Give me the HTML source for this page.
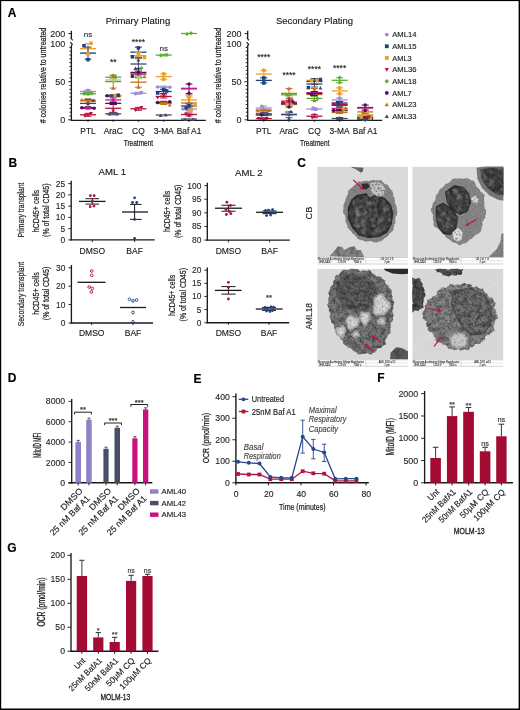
<!DOCTYPE html>
<html><head><meta charset="utf-8"><style>
html,body{margin:0;padding:0;background:#fff;width:520px;height:710px;overflow:hidden}
svg{display:block;font-family:"Liberation Sans",sans-serif;will-change:transform;filter:blur(0.3px)}
</style></head><body>
<svg width="520" height="710" viewBox="0 0 520 710" font-family='"Liberation Sans", sans-serif'>
<rect width="520" height="710" fill="#fff"/>
<text x="7.80" y="17.40" font-size="12.0" text-anchor="start" fill="#000" font-weight="bold" stroke="#000" stroke-width="0.14">A</text>
<text x="138.00" y="24.22" font-size="9.5" text-anchor="middle" fill="#1a1a1a" stroke="#1a1a1a" stroke-width="0.14">Primary Plating</text>
<line x1="71.40" y1="30.80" x2="71.40" y2="38.00" stroke="#1a1a1a" stroke-width="1.3"/>
<path d="M70.50 37.6 L72.70 40.3" fill="none" stroke="#1a1a1a" stroke-width="1.1"/>
<path d="M70.30 42.2 L72.30 44.4 L71.40 45.6" fill="none" stroke="#1a1a1a" stroke-width="1.1"/>
<line x1="71.40" y1="45.20" x2="71.40" y2="120.80" stroke="#1a1a1a" stroke-width="1.3"/>
<line x1="68.40" y1="33.60" x2="71.40" y2="33.60" stroke="#1a1a1a" stroke-width="1"/>
<line x1="68.20" y1="119.80" x2="71.40" y2="119.80" stroke="#1a1a1a" stroke-width="0.95"/>
<line x1="69.40" y1="115.99" x2="71.40" y2="115.99" stroke="#1a1a1a" stroke-width="0.95"/>
<line x1="69.40" y1="112.18" x2="71.40" y2="112.18" stroke="#1a1a1a" stroke-width="0.95"/>
<line x1="69.40" y1="108.37" x2="71.40" y2="108.37" stroke="#1a1a1a" stroke-width="0.95"/>
<line x1="69.40" y1="104.56" x2="71.40" y2="104.56" stroke="#1a1a1a" stroke-width="0.95"/>
<line x1="69.40" y1="100.75" x2="71.40" y2="100.75" stroke="#1a1a1a" stroke-width="0.95"/>
<line x1="69.40" y1="96.94" x2="71.40" y2="96.94" stroke="#1a1a1a" stroke-width="0.95"/>
<line x1="69.40" y1="93.13" x2="71.40" y2="93.13" stroke="#1a1a1a" stroke-width="0.95"/>
<line x1="69.40" y1="89.32" x2="71.40" y2="89.32" stroke="#1a1a1a" stroke-width="0.95"/>
<line x1="69.40" y1="85.51" x2="71.40" y2="85.51" stroke="#1a1a1a" stroke-width="0.95"/>
<line x1="68.20" y1="81.70" x2="71.40" y2="81.70" stroke="#1a1a1a" stroke-width="0.95"/>
<line x1="69.40" y1="77.89" x2="71.40" y2="77.89" stroke="#1a1a1a" stroke-width="0.95"/>
<line x1="69.40" y1="74.08" x2="71.40" y2="74.08" stroke="#1a1a1a" stroke-width="0.95"/>
<line x1="69.40" y1="70.27" x2="71.40" y2="70.27" stroke="#1a1a1a" stroke-width="0.95"/>
<line x1="69.40" y1="66.46" x2="71.40" y2="66.46" stroke="#1a1a1a" stroke-width="0.95"/>
<line x1="69.40" y1="62.65" x2="71.40" y2="62.65" stroke="#1a1a1a" stroke-width="0.95"/>
<line x1="69.40" y1="58.84" x2="71.40" y2="58.84" stroke="#1a1a1a" stroke-width="0.95"/>
<line x1="69.40" y1="55.03" x2="71.40" y2="55.03" stroke="#1a1a1a" stroke-width="0.95"/>
<line x1="69.40" y1="51.22" x2="71.40" y2="51.22" stroke="#1a1a1a" stroke-width="0.95"/>
<line x1="69.40" y1="47.41" x2="71.40" y2="47.41" stroke="#1a1a1a" stroke-width="0.95"/>
<text x="65.20" y="122.95" font-size="9.0" text-anchor="end" fill="#2a2a2a" stroke="#2a2a2a" stroke-width="0.14">0</text>
<text x="65.20" y="84.85" font-size="9.0" text-anchor="end" fill="#2a2a2a" stroke="#2a2a2a" stroke-width="0.14">50</text>
<text x="65.20" y="46.75" font-size="9.0" text-anchor="end" fill="#2a2a2a" stroke="#2a2a2a" stroke-width="0.14">100</text>
<text x="65.20" y="36.75" font-size="9.0" text-anchor="end" fill="#2a2a2a" stroke="#2a2a2a" stroke-width="0.14">200</text>
<line x1="70.80" y1="120.40" x2="205.90" y2="120.40" stroke="#1a1a1a" stroke-width="1.4"/>
<line x1="88.00" y1="119.80" x2="88.00" y2="122.00" stroke="#1a1a1a" stroke-width="0.8"/>
<line x1="113.20" y1="119.80" x2="113.20" y2="122.00" stroke="#1a1a1a" stroke-width="0.8"/>
<line x1="138.40" y1="119.80" x2="138.40" y2="122.00" stroke="#1a1a1a" stroke-width="0.8"/>
<line x1="163.70" y1="119.80" x2="163.70" y2="122.00" stroke="#1a1a1a" stroke-width="0.8"/>
<line x1="189.00" y1="119.80" x2="189.00" y2="122.00" stroke="#1a1a1a" stroke-width="0.8"/>
<text x="88.00" y="134.04" font-size="8.4" text-anchor="middle" fill="#1a1a1a" stroke="#1a1a1a" stroke-width="0.14">PTL</text>
<text x="113.20" y="134.04" font-size="8.4" text-anchor="middle" fill="#1a1a1a" stroke="#1a1a1a" stroke-width="0.14">AraC</text>
<text x="138.40" y="134.04" font-size="8.4" text-anchor="middle" fill="#1a1a1a" stroke="#1a1a1a" stroke-width="0.14">CQ</text>
<text x="163.70" y="134.04" font-size="8.4" text-anchor="middle" fill="#1a1a1a" stroke="#1a1a1a" stroke-width="0.14">3-MA</text>
<text x="189.00" y="134.04" font-size="8.4" text-anchor="middle" fill="#1a1a1a" stroke="#1a1a1a" stroke-width="0.14">Baf A1</text>
<text x="138.40" y="146.39" font-size="9.4" text-anchor="middle" fill="#1a1a1a" textLength="29.5" lengthAdjust="spacingAndGlyphs" stroke="#1a1a1a" stroke-width="0.22">Treatment</text>
<text font-size="9.0" text-anchor="middle" fill="#1a1a1a" textLength="95.5" lengthAdjust="spacingAndGlyphs" stroke="#1a1a1a" stroke-width="0.22" transform="translate(42.50 75.50) rotate(-90)" x="0" y="3.15"># colonies relative to untreated</text>
<text x="88.00" y="37.10" font-size="8" text-anchor="middle" fill="#333" stroke="#333" stroke-width="0.14">ns</text>
<text x="113.20" y="64.88" font-size="8.5" text-anchor="middle" fill="#222" stroke="#222" stroke-width="0.14">**</text>
<text x="138.40" y="45.28" font-size="8.5" text-anchor="middle" fill="#222" stroke="#222" stroke-width="0.14">****</text>
<text x="163.70" y="50.70" font-size="8" text-anchor="middle" fill="#333" stroke="#333" stroke-width="0.14">ns</text>
<text x="314.50" y="24.22" font-size="9.5" text-anchor="middle" fill="#1a1a1a" stroke="#1a1a1a" stroke-width="0.14">Secondary Plating</text>
<line x1="247.70" y1="30.80" x2="247.70" y2="38.00" stroke="#1a1a1a" stroke-width="1.3"/>
<path d="M246.80 37.6 L249.00 40.3" fill="none" stroke="#1a1a1a" stroke-width="1.1"/>
<path d="M246.60 42.2 L248.60 44.4 L247.70 45.6" fill="none" stroke="#1a1a1a" stroke-width="1.1"/>
<line x1="247.70" y1="45.20" x2="247.70" y2="120.80" stroke="#1a1a1a" stroke-width="1.3"/>
<line x1="244.70" y1="33.60" x2="247.70" y2="33.60" stroke="#1a1a1a" stroke-width="1"/>
<line x1="244.50" y1="119.80" x2="247.70" y2="119.80" stroke="#1a1a1a" stroke-width="0.95"/>
<line x1="245.70" y1="115.99" x2="247.70" y2="115.99" stroke="#1a1a1a" stroke-width="0.95"/>
<line x1="245.70" y1="112.18" x2="247.70" y2="112.18" stroke="#1a1a1a" stroke-width="0.95"/>
<line x1="245.70" y1="108.37" x2="247.70" y2="108.37" stroke="#1a1a1a" stroke-width="0.95"/>
<line x1="245.70" y1="104.56" x2="247.70" y2="104.56" stroke="#1a1a1a" stroke-width="0.95"/>
<line x1="245.70" y1="100.75" x2="247.70" y2="100.75" stroke="#1a1a1a" stroke-width="0.95"/>
<line x1="245.70" y1="96.94" x2="247.70" y2="96.94" stroke="#1a1a1a" stroke-width="0.95"/>
<line x1="245.70" y1="93.13" x2="247.70" y2="93.13" stroke="#1a1a1a" stroke-width="0.95"/>
<line x1="245.70" y1="89.32" x2="247.70" y2="89.32" stroke="#1a1a1a" stroke-width="0.95"/>
<line x1="245.70" y1="85.51" x2="247.70" y2="85.51" stroke="#1a1a1a" stroke-width="0.95"/>
<line x1="244.50" y1="81.70" x2="247.70" y2="81.70" stroke="#1a1a1a" stroke-width="0.95"/>
<line x1="245.70" y1="77.89" x2="247.70" y2="77.89" stroke="#1a1a1a" stroke-width="0.95"/>
<line x1="245.70" y1="74.08" x2="247.70" y2="74.08" stroke="#1a1a1a" stroke-width="0.95"/>
<line x1="245.70" y1="70.27" x2="247.70" y2="70.27" stroke="#1a1a1a" stroke-width="0.95"/>
<line x1="245.70" y1="66.46" x2="247.70" y2="66.46" stroke="#1a1a1a" stroke-width="0.95"/>
<line x1="245.70" y1="62.65" x2="247.70" y2="62.65" stroke="#1a1a1a" stroke-width="0.95"/>
<line x1="245.70" y1="58.84" x2="247.70" y2="58.84" stroke="#1a1a1a" stroke-width="0.95"/>
<line x1="245.70" y1="55.03" x2="247.70" y2="55.03" stroke="#1a1a1a" stroke-width="0.95"/>
<line x1="245.70" y1="51.22" x2="247.70" y2="51.22" stroke="#1a1a1a" stroke-width="0.95"/>
<line x1="245.70" y1="47.41" x2="247.70" y2="47.41" stroke="#1a1a1a" stroke-width="0.95"/>
<text x="241.50" y="122.95" font-size="9.0" text-anchor="end" fill="#2a2a2a" stroke="#2a2a2a" stroke-width="0.14">0</text>
<text x="241.50" y="84.85" font-size="9.0" text-anchor="end" fill="#2a2a2a" stroke="#2a2a2a" stroke-width="0.14">50</text>
<text x="241.50" y="46.75" font-size="9.0" text-anchor="end" fill="#2a2a2a" stroke="#2a2a2a" stroke-width="0.14">100</text>
<text x="241.50" y="36.75" font-size="9.0" text-anchor="end" fill="#2a2a2a" stroke="#2a2a2a" stroke-width="0.14">200</text>
<line x1="247.10" y1="120.40" x2="382.20" y2="120.40" stroke="#1a1a1a" stroke-width="1.4"/>
<line x1="263.80" y1="119.80" x2="263.80" y2="122.00" stroke="#1a1a1a" stroke-width="0.8"/>
<line x1="289.00" y1="119.80" x2="289.00" y2="122.00" stroke="#1a1a1a" stroke-width="0.8"/>
<line x1="314.40" y1="119.80" x2="314.40" y2="122.00" stroke="#1a1a1a" stroke-width="0.8"/>
<line x1="339.60" y1="119.80" x2="339.60" y2="122.00" stroke="#1a1a1a" stroke-width="0.8"/>
<line x1="365.20" y1="119.80" x2="365.20" y2="122.00" stroke="#1a1a1a" stroke-width="0.8"/>
<text x="263.80" y="134.04" font-size="8.4" text-anchor="middle" fill="#1a1a1a" stroke="#1a1a1a" stroke-width="0.14">PTL</text>
<text x="289.00" y="134.04" font-size="8.4" text-anchor="middle" fill="#1a1a1a" stroke="#1a1a1a" stroke-width="0.14">AraC</text>
<text x="314.40" y="134.04" font-size="8.4" text-anchor="middle" fill="#1a1a1a" stroke="#1a1a1a" stroke-width="0.14">CQ</text>
<text x="339.60" y="134.04" font-size="8.4" text-anchor="middle" fill="#1a1a1a" stroke="#1a1a1a" stroke-width="0.14">3-MA</text>
<text x="365.20" y="134.04" font-size="8.4" text-anchor="middle" fill="#1a1a1a" stroke="#1a1a1a" stroke-width="0.14">Baf A1</text>
<text x="314.70" y="146.39" font-size="9.4" text-anchor="middle" fill="#1a1a1a" textLength="29.5" lengthAdjust="spacingAndGlyphs" stroke="#1a1a1a" stroke-width="0.22">Treatment</text>
<text font-size="9.0" text-anchor="middle" fill="#1a1a1a" textLength="95.5" lengthAdjust="spacingAndGlyphs" stroke="#1a1a1a" stroke-width="0.22" transform="translate(218.20 75.50) rotate(-90)" x="0" y="3.15"># colonies relative to untreated</text>
<text x="263.80" y="60.48" font-size="8.5" text-anchor="middle" fill="#222" stroke="#222" stroke-width="0.14">****</text>
<text x="289.00" y="77.77" font-size="8.5" text-anchor="middle" fill="#222" stroke="#222" stroke-width="0.14">****</text>
<text x="314.40" y="72.37" font-size="8.5" text-anchor="middle" fill="#222" stroke="#222" stroke-width="0.14">****</text>
<text x="339.60" y="71.17" font-size="8.5" text-anchor="middle" fill="#222" stroke="#222" stroke-width="0.14">****</text>
<circle cx="386.80" cy="34.60" r="1.9" fill="#9a8fd2"/>
<text x="392.20" y="37.30" font-size="7.7" text-anchor="start" fill="#1a1a1a" textLength="24.2" lengthAdjust="spacingAndGlyphs" stroke="#1a1a1a" stroke-width="0.14">AML14</text>
<rect x="384.90" y="44.37" width="3.80" height="3.80" fill="#1e3f80"/>
<text x="392.20" y="48.97" font-size="7.7" text-anchor="start" fill="#1a1a1a" textLength="24.2" lengthAdjust="spacingAndGlyphs" stroke="#1a1a1a" stroke-width="0.14">AML15</text>
<rect x="384.90" y="56.04" width="3.80" height="3.80" fill="#e8a02a"/>
<text x="392.20" y="60.63" font-size="7.7" text-anchor="start" fill="#1a1a1a" textLength="19.5" lengthAdjust="spacingAndGlyphs" stroke="#1a1a1a" stroke-width="0.14">AML3</text>
<path d="M386.80 71.70L388.89 67.90L384.71 67.90Z" fill="#b4123e"/>
<text x="392.20" y="72.30" font-size="7.7" text-anchor="start" fill="#1a1a1a" textLength="24.2" lengthAdjust="spacingAndGlyphs" stroke="#1a1a1a" stroke-width="0.14">AML36</text>
<path d="M386.80 79.00L389.08 81.28L386.80 83.56L384.52 81.28Z" fill="#5aae32"/>
<text x="392.20" y="83.97" font-size="7.7" text-anchor="start" fill="#1a1a1a" textLength="24.2" lengthAdjust="spacingAndGlyphs" stroke="#1a1a1a" stroke-width="0.14">AML18</text>
<circle cx="386.80" cy="92.95" r="1.9" fill="#4a1458"/>
<text x="392.20" y="95.64" font-size="7.7" text-anchor="start" fill="#1a1a1a" textLength="19.5" lengthAdjust="spacingAndGlyphs" stroke="#1a1a1a" stroke-width="0.14">AML7</text>
<path d="M386.80 102.53L388.89 106.33L384.71 106.33Z" fill="#c0701e"/>
<text x="392.20" y="107.31" font-size="7.7" text-anchor="start" fill="#1a1a1a" textLength="24.2" lengthAdjust="spacingAndGlyphs" stroke="#1a1a1a" stroke-width="0.14">AML23</text>
<path d="M386.80 114.20L388.89 118.00L384.71 118.00Z" fill="#3c4a68"/>
<text x="392.20" y="118.98" font-size="7.7" text-anchor="start" fill="#1a1a1a" textLength="24.2" lengthAdjust="spacingAndGlyphs" stroke="#1a1a1a" stroke-width="0.14">AML33</text>
<line x1="80.00" y1="48.70" x2="96.00" y2="48.70" stroke="#e8a02a" stroke-width="1.3"/>
<line x1="88.00" y1="43.70" x2="88.00" y2="53.70" stroke="#e8a02a" stroke-width="1.0"/>
<line x1="84.50" y1="43.70" x2="91.50" y2="43.70" stroke="#e8a02a" stroke-width="1.0"/>
<line x1="84.50" y1="53.70" x2="91.50" y2="53.70" stroke="#e8a02a" stroke-width="1.0"/>
<line x1="80.00" y1="53.10" x2="96.00" y2="53.10" stroke="#1e3f80" stroke-width="1.3"/>
<line x1="88.00" y1="47.10" x2="88.00" y2="59.10" stroke="#1e3f80" stroke-width="1.0"/>
<line x1="84.50" y1="47.10" x2="91.50" y2="47.10" stroke="#1e3f80" stroke-width="1.0"/>
<line x1="84.50" y1="59.10" x2="91.50" y2="59.10" stroke="#1e3f80" stroke-width="1.0"/>
<line x1="80.00" y1="91.50" x2="96.00" y2="91.50" stroke="#9a8fd2" stroke-width="1.3"/>
<line x1="88.00" y1="90.00" x2="88.00" y2="93.00" stroke="#9a8fd2" stroke-width="1.0"/>
<line x1="84.50" y1="90.00" x2="91.50" y2="90.00" stroke="#9a8fd2" stroke-width="1.0"/>
<line x1="84.50" y1="93.00" x2="91.50" y2="93.00" stroke="#9a8fd2" stroke-width="1.0"/>
<line x1="80.00" y1="93.70" x2="96.00" y2="93.70" stroke="#5aae32" stroke-width="1.3"/>
<line x1="88.00" y1="92.70" x2="88.00" y2="94.70" stroke="#5aae32" stroke-width="1.0"/>
<line x1="84.50" y1="92.70" x2="91.50" y2="92.70" stroke="#5aae32" stroke-width="1.0"/>
<line x1="84.50" y1="94.70" x2="91.50" y2="94.70" stroke="#5aae32" stroke-width="1.0"/>
<line x1="80.00" y1="100.30" x2="96.00" y2="100.30" stroke="#c0701e" stroke-width="1.3"/>
<line x1="88.00" y1="98.80" x2="88.00" y2="101.80" stroke="#c0701e" stroke-width="1.0"/>
<line x1="84.50" y1="98.80" x2="91.50" y2="98.80" stroke="#c0701e" stroke-width="1.0"/>
<line x1="84.50" y1="101.80" x2="91.50" y2="101.80" stroke="#c0701e" stroke-width="1.0"/>
<line x1="80.00" y1="103.40" x2="96.00" y2="103.40" stroke="#3c4a68" stroke-width="1.3"/>
<line x1="88.00" y1="99.40" x2="88.00" y2="107.40" stroke="#3c4a68" stroke-width="1.0"/>
<line x1="84.50" y1="99.40" x2="91.50" y2="99.40" stroke="#3c4a68" stroke-width="1.0"/>
<line x1="84.50" y1="107.40" x2="91.50" y2="107.40" stroke="#3c4a68" stroke-width="1.0"/>
<line x1="80.00" y1="107.80" x2="96.00" y2="107.80" stroke="#4a1458" stroke-width="1.3"/>
<line x1="88.00" y1="106.80" x2="88.00" y2="108.80" stroke="#4a1458" stroke-width="1.0"/>
<line x1="84.50" y1="106.80" x2="91.50" y2="106.80" stroke="#4a1458" stroke-width="1.0"/>
<line x1="84.50" y1="108.80" x2="91.50" y2="108.80" stroke="#4a1458" stroke-width="1.0"/>
<line x1="80.00" y1="108.30" x2="96.00" y2="108.30" stroke="#d0189a" stroke-width="1.3"/>
<line x1="80.00" y1="114.80" x2="96.00" y2="114.80" stroke="#b4123e" stroke-width="1.3"/>
<line x1="88.00" y1="113.30" x2="88.00" y2="116.30" stroke="#b4123e" stroke-width="1.0"/>
<line x1="84.50" y1="113.30" x2="91.50" y2="113.30" stroke="#b4123e" stroke-width="1.0"/>
<line x1="84.50" y1="116.30" x2="91.50" y2="116.30" stroke="#b4123e" stroke-width="1.0"/>
<rect x="89.25" y="41.45" width="3.50" height="3.50" fill="#e8a02a"/>
<rect x="86.25" y="52.25" width="3.50" height="3.50" fill="#e8a02a"/>
<rect x="82.25" y="44.05" width="3.50" height="3.50" fill="#1e3f80"/>
<rect x="86.25" y="57.95" width="3.50" height="3.50" fill="#1e3f80"/>
<circle cx="88.00" cy="90.30" r="1.75" fill="#9a8fd2"/>
<circle cx="85.00" cy="92.00" r="1.75" fill="#9a8fd2"/>
<path d="M84.00 91.60L86.10 93.70L84.00 95.80L81.90 93.70Z" fill="#5aae32"/>
<path d="M92.00 91.30L94.10 93.40L92.00 95.50L89.90 93.40Z" fill="#5aae32"/>
<path d="M88.00 91.90L90.10 94.00L88.00 96.10L85.90 94.00Z" fill="#5aae32"/>
<path d="M82.00 98.08L83.92 101.58L80.08 101.58Z" fill="#c0701e"/>
<path d="M94.00 98.58L95.92 102.08L92.08 102.08Z" fill="#c0701e"/>
<path d="M88.00 99.08L89.92 102.58L86.08 102.58Z" fill="#c0701e"/>
<path d="M93.00 98.38L94.92 101.88L91.08 101.88Z" fill="#3c4a68"/>
<path d="M88.00 101.48L89.92 104.98L86.08 104.98Z" fill="#3c4a68"/>
<circle cx="82.00" cy="107.80" r="1.75" fill="#4a1458"/>
<circle cx="94.00" cy="108.20" r="1.75" fill="#4a1458"/>
<circle cx="88.00" cy="108.30" r="1.75" fill="#d0189a"/>
<path d="M85.00 117.92L86.92 114.42L83.08 114.42Z" fill="#b4123e"/>
<path d="M91.00 115.42L92.92 111.92L89.08 111.92Z" fill="#b4123e"/>
<path d="M88.00 116.92L89.92 113.42L86.08 113.42Z" fill="#b4123e"/>
<line x1="105.20" y1="77.20" x2="121.20" y2="77.20" stroke="#5aae32" stroke-width="1.3"/>
<line x1="113.20" y1="75.70" x2="113.20" y2="78.70" stroke="#5aae32" stroke-width="1.0"/>
<line x1="109.70" y1="75.70" x2="116.70" y2="75.70" stroke="#5aae32" stroke-width="1.0"/>
<line x1="109.70" y1="78.70" x2="116.70" y2="78.70" stroke="#5aae32" stroke-width="1.0"/>
<line x1="105.20" y1="80.00" x2="121.20" y2="80.00" stroke="#9fd48a" stroke-width="1.3"/>
<line x1="113.20" y1="78.50" x2="113.20" y2="81.50" stroke="#9fd48a" stroke-width="1.0"/>
<line x1="109.70" y1="78.50" x2="116.70" y2="78.50" stroke="#9fd48a" stroke-width="1.0"/>
<line x1="109.70" y1="81.50" x2="116.70" y2="81.50" stroke="#9fd48a" stroke-width="1.0"/>
<line x1="105.20" y1="81.60" x2="121.20" y2="81.60" stroke="#c0701e" stroke-width="1.3"/>
<line x1="113.20" y1="75.10" x2="113.20" y2="88.10" stroke="#c0701e" stroke-width="1.0"/>
<line x1="109.70" y1="75.10" x2="116.70" y2="75.10" stroke="#c0701e" stroke-width="1.0"/>
<line x1="109.70" y1="88.10" x2="116.70" y2="88.10" stroke="#c0701e" stroke-width="1.0"/>
<line x1="105.20" y1="95.80" x2="121.20" y2="95.80" stroke="#4a1458" stroke-width="1.3"/>
<line x1="113.20" y1="94.80" x2="113.20" y2="96.80" stroke="#4a1458" stroke-width="1.0"/>
<line x1="109.70" y1="94.80" x2="116.70" y2="94.80" stroke="#4a1458" stroke-width="1.0"/>
<line x1="109.70" y1="96.80" x2="116.70" y2="96.80" stroke="#4a1458" stroke-width="1.0"/>
<line x1="105.20" y1="95.60" x2="121.20" y2="95.60" stroke="#e8a02a" stroke-width="1.3"/>
<line x1="113.20" y1="94.60" x2="113.20" y2="96.60" stroke="#e8a02a" stroke-width="1.0"/>
<line x1="109.70" y1="94.60" x2="116.70" y2="94.60" stroke="#e8a02a" stroke-width="1.0"/>
<line x1="109.70" y1="96.60" x2="116.70" y2="96.60" stroke="#e8a02a" stroke-width="1.0"/>
<line x1="105.20" y1="95.80" x2="121.20" y2="95.80" stroke="#1e3f80" stroke-width="1.3"/>
<line x1="113.20" y1="94.80" x2="113.20" y2="96.80" stroke="#1e3f80" stroke-width="1.0"/>
<line x1="109.70" y1="94.80" x2="116.70" y2="94.80" stroke="#1e3f80" stroke-width="1.0"/>
<line x1="109.70" y1="96.80" x2="116.70" y2="96.80" stroke="#1e3f80" stroke-width="1.0"/>
<line x1="105.20" y1="99.90" x2="121.20" y2="99.90" stroke="#d0189a" stroke-width="1.3"/>
<line x1="113.20" y1="97.90" x2="113.20" y2="101.90" stroke="#d0189a" stroke-width="1.0"/>
<line x1="109.70" y1="97.90" x2="116.70" y2="97.90" stroke="#d0189a" stroke-width="1.0"/>
<line x1="109.70" y1="101.90" x2="116.70" y2="101.90" stroke="#d0189a" stroke-width="1.0"/>
<line x1="105.20" y1="103.40" x2="121.20" y2="103.40" stroke="#4a1458" stroke-width="1.3"/>
<line x1="113.20" y1="102.40" x2="113.20" y2="104.40" stroke="#4a1458" stroke-width="1.0"/>
<line x1="109.70" y1="102.40" x2="116.70" y2="102.40" stroke="#4a1458" stroke-width="1.0"/>
<line x1="109.70" y1="104.40" x2="116.70" y2="104.40" stroke="#4a1458" stroke-width="1.0"/>
<line x1="105.20" y1="108.30" x2="121.20" y2="108.30" stroke="#b4123e" stroke-width="1.3"/>
<line x1="113.20" y1="104.30" x2="113.20" y2="112.30" stroke="#b4123e" stroke-width="1.0"/>
<line x1="109.70" y1="104.30" x2="116.70" y2="104.30" stroke="#b4123e" stroke-width="1.0"/>
<line x1="109.70" y1="112.30" x2="116.70" y2="112.30" stroke="#b4123e" stroke-width="1.0"/>
<line x1="105.20" y1="113.80" x2="121.20" y2="113.80" stroke="#3c4a68" stroke-width="1.3"/>
<line x1="113.20" y1="112.80" x2="113.20" y2="114.80" stroke="#3c4a68" stroke-width="1.0"/>
<line x1="109.70" y1="112.80" x2="116.70" y2="112.80" stroke="#3c4a68" stroke-width="1.0"/>
<line x1="109.70" y1="114.80" x2="116.70" y2="114.80" stroke="#3c4a68" stroke-width="1.0"/>
<path d="M113.20 73.50L115.30 75.60L113.20 77.70L111.10 75.60Z" fill="#5aae32"/>
<path d="M115.20 74.90L117.30 77.00L115.20 79.10L113.10 77.00Z" fill="#5aae32"/>
<circle cx="113.20" cy="80.00" r="1.75" fill="#9fd48a"/>
<path d="M113.20 73.67L115.12 77.17L111.28 77.17Z" fill="#c0701e"/>
<path d="M113.20 86.28L115.12 89.78L111.28 89.78Z" fill="#c0701e"/>
<circle cx="107.20" cy="95.80" r="1.75" fill="#4a1458"/>
<rect x="113.45" y="93.75" width="3.50" height="3.50" fill="#e8a02a"/>
<rect x="117.45" y="94.25" width="3.50" height="3.50" fill="#e8a02a"/>
<rect x="116.45" y="93.45" width="3.50" height="3.50" fill="#1e3f80"/>
<circle cx="113.20" cy="99.90" r="1.75" fill="#d0189a"/>
<circle cx="111.20" cy="103.40" r="1.75" fill="#4a1458"/>
<circle cx="115.20" cy="103.40" r="1.75" fill="#4a1458"/>
<path d="M113.20 112.92L115.12 109.42L111.28 109.42Z" fill="#b4123e"/>
<path d="M109.20 112.08L111.12 115.58L107.28 115.58Z" fill="#3c4a68"/>
<path d="M117.20 112.08L119.12 115.58L115.28 115.58Z" fill="#3c4a68"/>
<line x1="130.40" y1="52.20" x2="146.40" y2="52.20" stroke="#1e3f80" stroke-width="1.3"/>
<line x1="138.40" y1="47.20" x2="138.40" y2="57.20" stroke="#1e3f80" stroke-width="1.0"/>
<line x1="134.90" y1="47.20" x2="141.90" y2="47.20" stroke="#1e3f80" stroke-width="1.0"/>
<line x1="134.90" y1="57.20" x2="141.90" y2="57.20" stroke="#1e3f80" stroke-width="1.0"/>
<line x1="130.40" y1="55.70" x2="146.40" y2="55.70" stroke="#e8a02a" stroke-width="1.3"/>
<line x1="138.40" y1="52.70" x2="138.40" y2="58.70" stroke="#e8a02a" stroke-width="1.0"/>
<line x1="134.90" y1="52.70" x2="141.90" y2="52.70" stroke="#e8a02a" stroke-width="1.0"/>
<line x1="134.90" y1="58.70" x2="141.90" y2="58.70" stroke="#e8a02a" stroke-width="1.0"/>
<line x1="130.40" y1="64.00" x2="146.40" y2="64.00" stroke="#3c4a68" stroke-width="1.3"/>
<line x1="138.40" y1="58.00" x2="138.40" y2="70.00" stroke="#3c4a68" stroke-width="1.0"/>
<line x1="134.90" y1="58.00" x2="141.90" y2="58.00" stroke="#3c4a68" stroke-width="1.0"/>
<line x1="134.90" y1="70.00" x2="141.90" y2="70.00" stroke="#3c4a68" stroke-width="1.0"/>
<line x1="130.40" y1="74.40" x2="146.40" y2="74.40" stroke="#5aae32" stroke-width="1.3"/>
<line x1="138.40" y1="71.40" x2="138.40" y2="77.40" stroke="#5aae32" stroke-width="1.0"/>
<line x1="134.90" y1="71.40" x2="141.90" y2="71.40" stroke="#5aae32" stroke-width="1.0"/>
<line x1="134.90" y1="77.40" x2="141.90" y2="77.40" stroke="#5aae32" stroke-width="1.0"/>
<line x1="130.40" y1="72.40" x2="146.40" y2="72.40" stroke="#4a1458" stroke-width="1.3"/>
<line x1="138.40" y1="68.40" x2="138.40" y2="76.40" stroke="#4a1458" stroke-width="1.0"/>
<line x1="134.90" y1="68.40" x2="141.90" y2="68.40" stroke="#4a1458" stroke-width="1.0"/>
<line x1="134.90" y1="76.40" x2="141.90" y2="76.40" stroke="#4a1458" stroke-width="1.0"/>
<line x1="130.40" y1="73.90" x2="146.40" y2="73.90" stroke="#d0189a" stroke-width="1.3"/>
<line x1="138.40" y1="72.90" x2="138.40" y2="74.90" stroke="#d0189a" stroke-width="1.0"/>
<line x1="134.90" y1="72.90" x2="141.90" y2="72.90" stroke="#d0189a" stroke-width="1.0"/>
<line x1="134.90" y1="74.90" x2="141.90" y2="74.90" stroke="#d0189a" stroke-width="1.0"/>
<line x1="130.40" y1="77.50" x2="146.40" y2="77.50" stroke="#9fd48a" stroke-width="1.3"/>
<line x1="138.40" y1="76.50" x2="138.40" y2="78.50" stroke="#9fd48a" stroke-width="1.0"/>
<line x1="134.90" y1="76.50" x2="141.90" y2="76.50" stroke="#9fd48a" stroke-width="1.0"/>
<line x1="134.90" y1="78.50" x2="141.90" y2="78.50" stroke="#9fd48a" stroke-width="1.0"/>
<line x1="130.40" y1="82.20" x2="146.40" y2="82.20" stroke="#c0701e" stroke-width="1.3"/>
<line x1="138.40" y1="77.20" x2="138.40" y2="87.20" stroke="#c0701e" stroke-width="1.0"/>
<line x1="134.90" y1="77.20" x2="141.90" y2="77.20" stroke="#c0701e" stroke-width="1.0"/>
<line x1="134.90" y1="87.20" x2="141.90" y2="87.20" stroke="#c0701e" stroke-width="1.0"/>
<line x1="130.40" y1="93.20" x2="146.40" y2="93.20" stroke="#9a8fd2" stroke-width="1.3"/>
<line x1="138.40" y1="92.20" x2="138.40" y2="94.20" stroke="#9a8fd2" stroke-width="1.0"/>
<line x1="134.90" y1="92.20" x2="141.90" y2="92.20" stroke="#9a8fd2" stroke-width="1.0"/>
<line x1="134.90" y1="94.20" x2="141.90" y2="94.20" stroke="#9a8fd2" stroke-width="1.0"/>
<line x1="130.40" y1="108.80" x2="146.40" y2="108.80" stroke="#b4123e" stroke-width="1.3"/>
<line x1="138.40" y1="107.30" x2="138.40" y2="110.30" stroke="#b4123e" stroke-width="1.0"/>
<line x1="134.90" y1="107.30" x2="141.90" y2="107.30" stroke="#b4123e" stroke-width="1.0"/>
<line x1="134.90" y1="110.30" x2="141.90" y2="110.30" stroke="#b4123e" stroke-width="1.0"/>
<rect x="136.65" y="46.15" width="3.50" height="3.50" fill="#1e3f80"/>
<rect x="130.65" y="55.05" width="3.50" height="3.50" fill="#1e3f80"/>
<rect x="136.65" y="51.45" width="3.50" height="3.50" fill="#e8a02a"/>
<rect x="142.65" y="55.85" width="3.50" height="3.50" fill="#e8a02a"/>
<path d="M138.40 58.08L140.33 61.58L136.47 61.58Z" fill="#3c4a68"/>
<path d="M135.40 66.48L137.33 69.98L133.47 69.98Z" fill="#3c4a68"/>
<path d="M141.40 65.90L143.50 68.00L141.40 70.10L139.30 68.00Z" fill="#5aae32"/>
<circle cx="138.40" cy="72.40" r="1.75" fill="#4a1458"/>
<circle cx="132.40" cy="76.30" r="1.75" fill="#4a1458"/>
<circle cx="138.40" cy="77.50" r="1.75" fill="#9fd48a"/>
<path d="M144.40 74.58L146.33 78.08L142.47 78.08Z" fill="#c0701e"/>
<path d="M138.40 85.17L140.33 88.67L136.47 88.67Z" fill="#c0701e"/>
<circle cx="135.40" cy="93.80" r="1.75" fill="#9a8fd2"/>
<circle cx="141.40" cy="92.50" r="1.75" fill="#9a8fd2"/>
<path d="M135.40 111.92L137.33 108.42L133.47 108.42Z" fill="#b4123e"/>
<path d="M141.40 109.42L143.33 105.92L139.47 105.92Z" fill="#b4123e"/>
<line x1="155.70" y1="55.10" x2="171.70" y2="55.10" stroke="#5aae32" stroke-width="1.3"/>
<line x1="163.70" y1="54.30" x2="163.70" y2="55.90" stroke="#5aae32" stroke-width="1.0"/>
<line x1="160.20" y1="54.30" x2="167.20" y2="54.30" stroke="#5aae32" stroke-width="1.0"/>
<line x1="160.20" y1="55.90" x2="167.20" y2="55.90" stroke="#5aae32" stroke-width="1.0"/>
<line x1="155.70" y1="76.60" x2="171.70" y2="76.60" stroke="#e8a02a" stroke-width="1.3"/>
<line x1="163.70" y1="73.90" x2="163.70" y2="79.30" stroke="#e8a02a" stroke-width="1.0"/>
<line x1="160.20" y1="73.90" x2="167.20" y2="73.90" stroke="#e8a02a" stroke-width="1.0"/>
<line x1="160.20" y1="79.30" x2="167.20" y2="79.30" stroke="#e8a02a" stroke-width="1.0"/>
<line x1="155.70" y1="87.10" x2="171.70" y2="87.10" stroke="#9a8fd2" stroke-width="1.3"/>
<line x1="163.70" y1="86.10" x2="163.70" y2="88.10" stroke="#9a8fd2" stroke-width="1.0"/>
<line x1="160.20" y1="86.10" x2="167.20" y2="86.10" stroke="#9a8fd2" stroke-width="1.0"/>
<line x1="160.20" y1="88.10" x2="167.20" y2="88.10" stroke="#9a8fd2" stroke-width="1.0"/>
<line x1="155.70" y1="91.50" x2="171.70" y2="91.50" stroke="#1e3f80" stroke-width="1.3"/>
<line x1="163.70" y1="89.50" x2="163.70" y2="93.50" stroke="#1e3f80" stroke-width="1.0"/>
<line x1="160.20" y1="89.50" x2="167.20" y2="89.50" stroke="#1e3f80" stroke-width="1.0"/>
<line x1="160.20" y1="93.50" x2="167.20" y2="93.50" stroke="#1e3f80" stroke-width="1.0"/>
<line x1="155.70" y1="96.50" x2="171.70" y2="96.50" stroke="#b4123e" stroke-width="1.3"/>
<line x1="163.70" y1="95.00" x2="163.70" y2="98.00" stroke="#b4123e" stroke-width="1.0"/>
<line x1="160.20" y1="95.00" x2="167.20" y2="95.00" stroke="#b4123e" stroke-width="1.0"/>
<line x1="160.20" y1="98.00" x2="167.20" y2="98.00" stroke="#b4123e" stroke-width="1.0"/>
<line x1="155.70" y1="102.30" x2="171.70" y2="102.30" stroke="#4a1458" stroke-width="1.3"/>
<line x1="163.70" y1="101.30" x2="163.70" y2="103.30" stroke="#4a1458" stroke-width="1.0"/>
<line x1="160.20" y1="101.30" x2="167.20" y2="101.30" stroke="#4a1458" stroke-width="1.0"/>
<line x1="160.20" y1="103.30" x2="167.20" y2="103.30" stroke="#4a1458" stroke-width="1.0"/>
<line x1="155.70" y1="103.50" x2="171.70" y2="103.50" stroke="#c0701e" stroke-width="1.3"/>
<line x1="163.70" y1="102.50" x2="163.70" y2="104.50" stroke="#c0701e" stroke-width="1.0"/>
<line x1="160.20" y1="102.50" x2="167.20" y2="102.50" stroke="#c0701e" stroke-width="1.0"/>
<line x1="160.20" y1="104.50" x2="167.20" y2="104.50" stroke="#c0701e" stroke-width="1.0"/>
<line x1="155.70" y1="115.00" x2="171.70" y2="115.00" stroke="#3c4a68" stroke-width="1.3"/>
<path d="M160.70 53.40L162.80 55.50L160.70 57.60L158.60 55.50Z" fill="#5aae32"/>
<path d="M166.70 52.70L168.80 54.80L166.70 56.90L164.60 54.80Z" fill="#5aae32"/>
<rect x="161.95" y="72.15" width="3.50" height="3.50" fill="#e8a02a"/>
<rect x="161.95" y="77.45" width="3.50" height="3.50" fill="#e8a02a"/>
<circle cx="157.70" cy="87.00" r="1.75" fill="#9a8fd2"/>
<circle cx="169.70" cy="87.30" r="1.75" fill="#9a8fd2"/>
<rect x="155.95" y="91.25" width="3.50" height="3.50" fill="#1e3f80"/>
<rect x="161.95" y="87.75" width="3.50" height="3.50" fill="#1e3f80"/>
<rect x="164.95" y="89.25" width="3.50" height="3.50" fill="#1e3f80"/>
<path d="M157.70 99.42L159.62 95.92L155.77 95.92Z" fill="#b4123e"/>
<path d="M163.70 96.92L165.62 93.42L161.77 93.42Z" fill="#b4123e"/>
<circle cx="157.70" cy="102.50" r="1.75" fill="#4a1458"/>
<circle cx="169.70" cy="101.80" r="1.75" fill="#4a1458"/>
<path d="M169.70 103.08L171.62 106.58L167.77 106.58Z" fill="#c0701e"/>
<path d="M160.70 113.58L162.62 117.08L158.77 117.08Z" fill="#3c4a68"/>
<path d="M165.70 113.08L167.62 116.58L163.77 116.58Z" fill="#3c4a68"/>
<line x1="181.00" y1="33.50" x2="197.00" y2="33.50" stroke="#5aae32" stroke-width="1.3"/>
<line x1="181.00" y1="88.80" x2="197.00" y2="88.80" stroke="#4a1458" stroke-width="1.3"/>
<line x1="189.00" y1="84.00" x2="189.00" y2="93.60" stroke="#4a1458" stroke-width="1.0"/>
<line x1="185.50" y1="84.00" x2="192.50" y2="84.00" stroke="#4a1458" stroke-width="1.0"/>
<line x1="185.50" y1="93.60" x2="192.50" y2="93.60" stroke="#4a1458" stroke-width="1.0"/>
<line x1="181.00" y1="88.30" x2="197.00" y2="88.30" stroke="#d0189a" stroke-width="1.3"/>
<line x1="181.00" y1="100.00" x2="197.00" y2="100.00" stroke="#e8a02a" stroke-width="1.3"/>
<line x1="189.00" y1="97.00" x2="189.00" y2="103.00" stroke="#e8a02a" stroke-width="1.0"/>
<line x1="185.50" y1="97.00" x2="192.50" y2="97.00" stroke="#e8a02a" stroke-width="1.0"/>
<line x1="185.50" y1="103.00" x2="192.50" y2="103.00" stroke="#e8a02a" stroke-width="1.0"/>
<line x1="181.00" y1="103.00" x2="197.00" y2="103.00" stroke="#c0701e" stroke-width="1.3"/>
<line x1="189.00" y1="95.00" x2="189.00" y2="111.00" stroke="#c0701e" stroke-width="1.0"/>
<line x1="185.50" y1="95.00" x2="192.50" y2="95.00" stroke="#c0701e" stroke-width="1.0"/>
<line x1="185.50" y1="111.00" x2="192.50" y2="111.00" stroke="#c0701e" stroke-width="1.0"/>
<line x1="181.00" y1="106.00" x2="197.00" y2="106.00" stroke="#1e3f80" stroke-width="1.3"/>
<line x1="189.00" y1="104.00" x2="189.00" y2="108.00" stroke="#1e3f80" stroke-width="1.0"/>
<line x1="185.50" y1="104.00" x2="192.50" y2="104.00" stroke="#1e3f80" stroke-width="1.0"/>
<line x1="185.50" y1="108.00" x2="192.50" y2="108.00" stroke="#1e3f80" stroke-width="1.0"/>
<line x1="181.00" y1="109.00" x2="197.00" y2="109.00" stroke="#9a8fd2" stroke-width="1.3"/>
<line x1="189.00" y1="108.00" x2="189.00" y2="110.00" stroke="#9a8fd2" stroke-width="1.0"/>
<line x1="185.50" y1="108.00" x2="192.50" y2="108.00" stroke="#9a8fd2" stroke-width="1.0"/>
<line x1="185.50" y1="110.00" x2="192.50" y2="110.00" stroke="#9a8fd2" stroke-width="1.0"/>
<line x1="181.00" y1="114.50" x2="197.00" y2="114.50" stroke="#b4123e" stroke-width="1.3"/>
<line x1="189.00" y1="113.00" x2="189.00" y2="116.00" stroke="#b4123e" stroke-width="1.0"/>
<line x1="185.50" y1="113.00" x2="192.50" y2="113.00" stroke="#b4123e" stroke-width="1.0"/>
<line x1="185.50" y1="116.00" x2="192.50" y2="116.00" stroke="#b4123e" stroke-width="1.0"/>
<line x1="181.00" y1="119.00" x2="197.00" y2="119.00" stroke="#3c4a68" stroke-width="1.3"/>
<path d="M187.00 31.90L189.10 34.00L187.00 36.10L184.90 34.00Z" fill="#5aae32"/>
<path d="M191.00 31.10L193.10 33.20L191.00 35.30L188.90 33.20Z" fill="#5aae32"/>
<circle cx="189.00" cy="84.00" r="1.75" fill="#4a1458"/>
<circle cx="189.00" cy="93.20" r="1.75" fill="#4a1458"/>
<rect x="187.25" y="95.45" width="3.50" height="3.50" fill="#e8a02a"/>
<rect x="193.25" y="103.25" width="3.50" height="3.50" fill="#e8a02a"/>
<rect x="189.25" y="108.25" width="3.50" height="3.50" fill="#e8a02a"/>
<path d="M189.00 101.08L190.93 104.58L187.07 104.58Z" fill="#c0701e"/>
<rect x="187.25" y="104.15" width="3.50" height="3.50" fill="#1e3f80"/>
<rect x="184.25" y="106.25" width="3.50" height="3.50" fill="#1e3f80"/>
<circle cx="183.00" cy="109.00" r="1.75" fill="#9a8fd2"/>
<path d="M186.00 115.92L187.93 112.42L184.07 112.42Z" fill="#b4123e"/>
<path d="M189.00 117.92L190.93 114.42L187.07 114.42Z" fill="#b4123e"/>
<path d="M185.00 117.58L186.93 121.08L183.07 121.08Z" fill="#3c4a68"/>
<path d="M193.00 117.58L194.93 121.08L191.07 121.08Z" fill="#3c4a68"/>
<line x1="255.80" y1="74.00" x2="271.80" y2="74.00" stroke="#e8a02a" stroke-width="1.3"/>
<line x1="263.80" y1="70.50" x2="263.80" y2="77.50" stroke="#e8a02a" stroke-width="1.0"/>
<line x1="260.30" y1="70.50" x2="267.30" y2="70.50" stroke="#e8a02a" stroke-width="1.0"/>
<line x1="260.30" y1="77.50" x2="267.30" y2="77.50" stroke="#e8a02a" stroke-width="1.0"/>
<line x1="255.80" y1="80.40" x2="271.80" y2="80.40" stroke="#1e3f80" stroke-width="1.3"/>
<line x1="263.80" y1="77.90" x2="263.80" y2="82.90" stroke="#1e3f80" stroke-width="1.0"/>
<line x1="260.30" y1="77.90" x2="267.30" y2="77.90" stroke="#1e3f80" stroke-width="1.0"/>
<line x1="260.30" y1="82.90" x2="267.30" y2="82.90" stroke="#1e3f80" stroke-width="1.0"/>
<line x1="255.80" y1="108.00" x2="271.80" y2="108.00" stroke="#9a8fd2" stroke-width="1.3"/>
<line x1="263.80" y1="106.00" x2="263.80" y2="110.00" stroke="#9a8fd2" stroke-width="1.0"/>
<line x1="260.30" y1="106.00" x2="267.30" y2="106.00" stroke="#9a8fd2" stroke-width="1.0"/>
<line x1="260.30" y1="110.00" x2="267.30" y2="110.00" stroke="#9a8fd2" stroke-width="1.0"/>
<line x1="255.80" y1="110.00" x2="271.80" y2="110.00" stroke="#5aae32" stroke-width="1.3"/>
<line x1="255.80" y1="110.70" x2="271.80" y2="110.70" stroke="#c0701e" stroke-width="1.3"/>
<line x1="263.80" y1="109.20" x2="263.80" y2="112.20" stroke="#c0701e" stroke-width="1.0"/>
<line x1="260.30" y1="109.20" x2="267.30" y2="109.20" stroke="#c0701e" stroke-width="1.0"/>
<line x1="260.30" y1="112.20" x2="267.30" y2="112.20" stroke="#c0701e" stroke-width="1.0"/>
<line x1="255.80" y1="113.80" x2="271.80" y2="113.80" stroke="#3c4a68" stroke-width="1.3"/>
<line x1="263.80" y1="112.30" x2="263.80" y2="115.30" stroke="#3c4a68" stroke-width="1.0"/>
<line x1="260.30" y1="112.30" x2="267.30" y2="112.30" stroke="#3c4a68" stroke-width="1.0"/>
<line x1="260.30" y1="115.30" x2="267.30" y2="115.30" stroke="#3c4a68" stroke-width="1.0"/>
<line x1="255.80" y1="115.00" x2="271.80" y2="115.00" stroke="#4a1458" stroke-width="1.3"/>
<line x1="255.80" y1="118.60" x2="271.80" y2="118.60" stroke="#b4123e" stroke-width="1.3"/>
<line x1="263.80" y1="117.80" x2="263.80" y2="119.40" stroke="#b4123e" stroke-width="1.0"/>
<line x1="260.30" y1="117.80" x2="267.30" y2="117.80" stroke="#b4123e" stroke-width="1.0"/>
<line x1="260.30" y1="119.40" x2="267.30" y2="119.40" stroke="#b4123e" stroke-width="1.0"/>
<rect x="262.05" y="68.55" width="3.50" height="3.50" fill="#e8a02a"/>
<rect x="262.05" y="75.75" width="3.50" height="3.50" fill="#e8a02a"/>
<rect x="262.05" y="76.25" width="3.50" height="3.50" fill="#1e3f80"/>
<rect x="262.05" y="81.25" width="3.50" height="3.50" fill="#1e3f80"/>
<circle cx="261.80" cy="106.30" r="1.75" fill="#9a8fd2"/>
<path d="M257.80 109.08L259.73 112.58L255.88 112.58Z" fill="#c0701e"/>
<path d="M268.80 108.58L270.73 112.08L266.88 112.08Z" fill="#c0701e"/>
<path d="M260.80 112.08L262.73 115.58L258.88 115.58Z" fill="#3c4a68"/>
<path d="M267.80 111.58L269.73 115.08L265.88 115.08Z" fill="#3c4a68"/>
<circle cx="261.80" cy="115.00" r="1.75" fill="#4a1458"/>
<path d="M258.80 120.52L260.73 117.02L256.88 117.02Z" fill="#b4123e"/>
<path d="M266.80 120.22L268.73 116.72L264.88 116.72Z" fill="#b4123e"/>
<line x1="281.00" y1="93.40" x2="297.00" y2="93.40" stroke="#c0701e" stroke-width="1.3"/>
<line x1="289.00" y1="88.40" x2="289.00" y2="98.40" stroke="#c0701e" stroke-width="1.0"/>
<line x1="285.50" y1="88.40" x2="292.50" y2="88.40" stroke="#c0701e" stroke-width="1.0"/>
<line x1="285.50" y1="98.40" x2="292.50" y2="98.40" stroke="#c0701e" stroke-width="1.0"/>
<line x1="281.00" y1="94.80" x2="297.00" y2="94.80" stroke="#5aae32" stroke-width="1.3"/>
<line x1="289.00" y1="93.80" x2="289.00" y2="95.80" stroke="#5aae32" stroke-width="1.0"/>
<line x1="285.50" y1="93.80" x2="292.50" y2="93.80" stroke="#5aae32" stroke-width="1.0"/>
<line x1="285.50" y1="95.80" x2="292.50" y2="95.80" stroke="#5aae32" stroke-width="1.0"/>
<line x1="281.00" y1="102.30" x2="297.00" y2="102.30" stroke="#b4123e" stroke-width="1.3"/>
<line x1="289.00" y1="100.30" x2="289.00" y2="104.30" stroke="#b4123e" stroke-width="1.0"/>
<line x1="285.50" y1="100.30" x2="292.50" y2="100.30" stroke="#b4123e" stroke-width="1.0"/>
<line x1="285.50" y1="104.30" x2="292.50" y2="104.30" stroke="#b4123e" stroke-width="1.0"/>
<line x1="281.00" y1="103.50" x2="297.00" y2="103.50" stroke="#d0189a" stroke-width="1.3"/>
<line x1="289.00" y1="102.50" x2="289.00" y2="104.50" stroke="#d0189a" stroke-width="1.0"/>
<line x1="285.50" y1="102.50" x2="292.50" y2="102.50" stroke="#d0189a" stroke-width="1.0"/>
<line x1="285.50" y1="104.50" x2="292.50" y2="104.50" stroke="#d0189a" stroke-width="1.0"/>
<line x1="281.00" y1="104.60" x2="297.00" y2="104.60" stroke="#e8a02a" stroke-width="1.3"/>
<line x1="289.00" y1="103.60" x2="289.00" y2="105.60" stroke="#e8a02a" stroke-width="1.0"/>
<line x1="285.50" y1="103.60" x2="292.50" y2="103.60" stroke="#e8a02a" stroke-width="1.0"/>
<line x1="285.50" y1="105.60" x2="292.50" y2="105.60" stroke="#e8a02a" stroke-width="1.0"/>
<line x1="281.00" y1="104.00" x2="297.00" y2="104.00" stroke="#4a1458" stroke-width="1.3"/>
<line x1="289.00" y1="101.00" x2="289.00" y2="107.00" stroke="#4a1458" stroke-width="1.0"/>
<line x1="285.50" y1="101.00" x2="292.50" y2="101.00" stroke="#4a1458" stroke-width="1.0"/>
<line x1="285.50" y1="107.00" x2="292.50" y2="107.00" stroke="#4a1458" stroke-width="1.0"/>
<line x1="281.00" y1="114.00" x2="297.00" y2="114.00" stroke="#9a8fd2" stroke-width="1.3"/>
<line x1="289.00" y1="112.50" x2="289.00" y2="115.50" stroke="#9a8fd2" stroke-width="1.0"/>
<line x1="285.50" y1="112.50" x2="292.50" y2="112.50" stroke="#9a8fd2" stroke-width="1.0"/>
<line x1="285.50" y1="115.50" x2="292.50" y2="115.50" stroke="#9a8fd2" stroke-width="1.0"/>
<line x1="281.00" y1="114.70" x2="297.00" y2="114.70" stroke="#3c4a68" stroke-width="1.3"/>
<line x1="289.00" y1="111.70" x2="289.00" y2="117.70" stroke="#3c4a68" stroke-width="1.0"/>
<line x1="285.50" y1="111.70" x2="292.50" y2="111.70" stroke="#3c4a68" stroke-width="1.0"/>
<line x1="285.50" y1="117.70" x2="292.50" y2="117.70" stroke="#3c4a68" stroke-width="1.0"/>
<path d="M289.00 86.38L290.93 89.88L287.07 89.88Z" fill="#c0701e"/>
<path d="M292.00 96.48L293.93 99.98L290.07 99.98Z" fill="#c0701e"/>
<path d="M287.00 92.70L289.10 94.80L287.00 96.90L284.90 94.80Z" fill="#5aae32"/>
<path d="M283.00 103.92L284.93 100.42L281.07 100.42Z" fill="#b4123e"/>
<path d="M289.00 100.92L290.93 97.42L287.07 97.42Z" fill="#b4123e"/>
<rect x="285.25" y="102.85" width="3.50" height="3.50" fill="#e8a02a"/>
<rect x="290.25" y="102.25" width="3.50" height="3.50" fill="#e8a02a"/>
<circle cx="289.00" cy="107.00" r="1.75" fill="#4a1458"/>
<circle cx="293.00" cy="102.00" r="1.75" fill="#4a1458"/>
<circle cx="287.00" cy="112.50" r="1.75" fill="#9a8fd2"/>
<path d="M289.00 116.67L290.93 120.17L287.07 120.17Z" fill="#3c4a68"/>
<path d="M291.00 109.58L292.93 113.08L289.07 113.08Z" fill="#3c4a68"/>
<line x1="306.40" y1="80.40" x2="322.40" y2="80.40" stroke="#e8a02a" stroke-width="1.3"/>
<line x1="314.40" y1="79.40" x2="314.40" y2="81.40" stroke="#e8a02a" stroke-width="1.0"/>
<line x1="310.90" y1="79.40" x2="317.90" y2="79.40" stroke="#e8a02a" stroke-width="1.0"/>
<line x1="310.90" y1="81.40" x2="317.90" y2="81.40" stroke="#e8a02a" stroke-width="1.0"/>
<line x1="306.40" y1="81.50" x2="322.40" y2="81.50" stroke="#1e3f80" stroke-width="1.3"/>
<line x1="314.40" y1="78.50" x2="314.40" y2="84.50" stroke="#1e3f80" stroke-width="1.0"/>
<line x1="310.90" y1="78.50" x2="317.90" y2="78.50" stroke="#1e3f80" stroke-width="1.0"/>
<line x1="310.90" y1="84.50" x2="317.90" y2="84.50" stroke="#1e3f80" stroke-width="1.0"/>
<line x1="306.40" y1="84.00" x2="322.40" y2="84.00" stroke="#3c4a68" stroke-width="1.3"/>
<line x1="314.40" y1="81.00" x2="314.40" y2="87.00" stroke="#3c4a68" stroke-width="1.0"/>
<line x1="310.90" y1="81.00" x2="317.90" y2="81.00" stroke="#3c4a68" stroke-width="1.0"/>
<line x1="310.90" y1="87.00" x2="317.90" y2="87.00" stroke="#3c4a68" stroke-width="1.0"/>
<line x1="306.40" y1="94.50" x2="322.40" y2="94.50" stroke="#c0701e" stroke-width="1.3"/>
<line x1="314.40" y1="88.50" x2="314.40" y2="100.50" stroke="#c0701e" stroke-width="1.0"/>
<line x1="310.90" y1="88.50" x2="317.90" y2="88.50" stroke="#c0701e" stroke-width="1.0"/>
<line x1="310.90" y1="100.50" x2="317.90" y2="100.50" stroke="#c0701e" stroke-width="1.0"/>
<line x1="306.40" y1="92.60" x2="322.40" y2="92.60" stroke="#d0189a" stroke-width="1.3"/>
<line x1="314.40" y1="91.60" x2="314.40" y2="93.60" stroke="#d0189a" stroke-width="1.0"/>
<line x1="310.90" y1="91.60" x2="317.90" y2="91.60" stroke="#d0189a" stroke-width="1.0"/>
<line x1="310.90" y1="93.60" x2="317.90" y2="93.60" stroke="#d0189a" stroke-width="1.0"/>
<line x1="306.40" y1="93.50" x2="322.40" y2="93.50" stroke="#4a1458" stroke-width="1.3"/>
<line x1="314.40" y1="91.50" x2="314.40" y2="95.50" stroke="#4a1458" stroke-width="1.0"/>
<line x1="310.90" y1="91.50" x2="317.90" y2="91.50" stroke="#4a1458" stroke-width="1.0"/>
<line x1="310.90" y1="95.50" x2="317.90" y2="95.50" stroke="#4a1458" stroke-width="1.0"/>
<line x1="306.40" y1="98.40" x2="322.40" y2="98.40" stroke="#5aae32" stroke-width="1.3"/>
<line x1="314.40" y1="96.40" x2="314.40" y2="100.40" stroke="#5aae32" stroke-width="1.0"/>
<line x1="310.90" y1="96.40" x2="317.90" y2="96.40" stroke="#5aae32" stroke-width="1.0"/>
<line x1="310.90" y1="100.40" x2="317.90" y2="100.40" stroke="#5aae32" stroke-width="1.0"/>
<line x1="306.40" y1="109.00" x2="322.40" y2="109.00" stroke="#9a8fd2" stroke-width="1.3"/>
<line x1="314.40" y1="108.00" x2="314.40" y2="110.00" stroke="#9a8fd2" stroke-width="1.0"/>
<line x1="310.90" y1="108.00" x2="317.90" y2="108.00" stroke="#9a8fd2" stroke-width="1.0"/>
<line x1="310.90" y1="110.00" x2="317.90" y2="110.00" stroke="#9a8fd2" stroke-width="1.0"/>
<line x1="306.40" y1="116.20" x2="322.40" y2="116.20" stroke="#b4123e" stroke-width="1.3"/>
<line x1="314.40" y1="114.70" x2="314.40" y2="117.70" stroke="#b4123e" stroke-width="1.0"/>
<line x1="310.90" y1="114.70" x2="317.90" y2="114.70" stroke="#b4123e" stroke-width="1.0"/>
<line x1="310.90" y1="117.70" x2="317.90" y2="117.70" stroke="#b4123e" stroke-width="1.0"/>
<rect x="309.65" y="78.65" width="3.50" height="3.50" fill="#e8a02a"/>
<rect x="315.65" y="78.65" width="3.50" height="3.50" fill="#e8a02a"/>
<rect x="318.65" y="77.75" width="3.50" height="3.50" fill="#1e3f80"/>
<rect x="306.65" y="85.85" width="3.50" height="3.50" fill="#1e3f80"/>
<path d="M320.40 86.08L322.32 89.58L318.47 89.58Z" fill="#3c4a68"/>
<path d="M314.40 87.08L316.32 90.58L312.47 90.58Z" fill="#c0701e"/>
<path d="M314.40 98.67L316.32 102.17L312.47 102.17Z" fill="#c0701e"/>
<circle cx="311.40" cy="94.50" r="1.75" fill="#4a1458"/>
<path d="M317.40 96.30L319.50 98.40L317.40 100.50L315.30 98.40Z" fill="#5aae32"/>
<circle cx="313.40" cy="108.00" r="1.75" fill="#9a8fd2"/>
<circle cx="315.40" cy="109.50" r="1.75" fill="#9a8fd2"/>
<path d="M314.40 116.92L316.32 113.42L312.47 113.42Z" fill="#b4123e"/>
<path d="M312.40 119.42L314.32 115.92L310.47 115.92Z" fill="#b4123e"/>
<line x1="331.60" y1="80.30" x2="347.60" y2="80.30" stroke="#5aae32" stroke-width="1.3"/>
<line x1="339.60" y1="77.80" x2="339.60" y2="82.80" stroke="#5aae32" stroke-width="1.0"/>
<line x1="336.10" y1="77.80" x2="343.10" y2="77.80" stroke="#5aae32" stroke-width="1.0"/>
<line x1="336.10" y1="82.80" x2="343.10" y2="82.80" stroke="#5aae32" stroke-width="1.0"/>
<line x1="331.60" y1="90.90" x2="347.60" y2="90.90" stroke="#e8a02a" stroke-width="1.3"/>
<line x1="339.60" y1="87.90" x2="339.60" y2="93.90" stroke="#e8a02a" stroke-width="1.0"/>
<line x1="336.10" y1="87.90" x2="343.10" y2="87.90" stroke="#e8a02a" stroke-width="1.0"/>
<line x1="336.10" y1="93.90" x2="343.10" y2="93.90" stroke="#e8a02a" stroke-width="1.0"/>
<line x1="331.60" y1="100.00" x2="347.60" y2="100.00" stroke="#9a8fd2" stroke-width="1.3"/>
<line x1="339.60" y1="98.00" x2="339.60" y2="102.00" stroke="#9a8fd2" stroke-width="1.0"/>
<line x1="336.10" y1="98.00" x2="343.10" y2="98.00" stroke="#9a8fd2" stroke-width="1.0"/>
<line x1="336.10" y1="102.00" x2="343.10" y2="102.00" stroke="#9a8fd2" stroke-width="1.0"/>
<line x1="331.60" y1="103.00" x2="347.60" y2="103.00" stroke="#1e3f80" stroke-width="1.3"/>
<line x1="339.60" y1="101.50" x2="339.60" y2="104.50" stroke="#1e3f80" stroke-width="1.0"/>
<line x1="336.10" y1="101.50" x2="343.10" y2="101.50" stroke="#1e3f80" stroke-width="1.0"/>
<line x1="336.10" y1="104.50" x2="343.10" y2="104.50" stroke="#1e3f80" stroke-width="1.0"/>
<line x1="331.60" y1="105.30" x2="347.60" y2="105.30" stroke="#3c4a68" stroke-width="1.3"/>
<line x1="339.60" y1="104.30" x2="339.60" y2="106.30" stroke="#3c4a68" stroke-width="1.0"/>
<line x1="336.10" y1="104.30" x2="343.10" y2="104.30" stroke="#3c4a68" stroke-width="1.0"/>
<line x1="336.10" y1="106.30" x2="343.10" y2="106.30" stroke="#3c4a68" stroke-width="1.0"/>
<line x1="331.60" y1="104.40" x2="347.60" y2="104.40" stroke="#b4123e" stroke-width="1.3"/>
<line x1="339.60" y1="103.40" x2="339.60" y2="105.40" stroke="#b4123e" stroke-width="1.0"/>
<line x1="336.10" y1="103.40" x2="343.10" y2="103.40" stroke="#b4123e" stroke-width="1.0"/>
<line x1="336.10" y1="105.40" x2="343.10" y2="105.40" stroke="#b4123e" stroke-width="1.0"/>
<line x1="331.60" y1="108.50" x2="347.60" y2="108.50" stroke="#d0189a" stroke-width="1.3"/>
<line x1="339.60" y1="107.50" x2="339.60" y2="109.50" stroke="#d0189a" stroke-width="1.0"/>
<line x1="336.10" y1="107.50" x2="343.10" y2="107.50" stroke="#d0189a" stroke-width="1.0"/>
<line x1="336.10" y1="109.50" x2="343.10" y2="109.50" stroke="#d0189a" stroke-width="1.0"/>
<line x1="331.60" y1="110.00" x2="347.60" y2="110.00" stroke="#e8a02a" stroke-width="1.3"/>
<line x1="339.60" y1="109.00" x2="339.60" y2="111.00" stroke="#e8a02a" stroke-width="1.0"/>
<line x1="336.10" y1="109.00" x2="343.10" y2="109.00" stroke="#e8a02a" stroke-width="1.0"/>
<line x1="336.10" y1="111.00" x2="343.10" y2="111.00" stroke="#e8a02a" stroke-width="1.0"/>
<line x1="331.60" y1="110.60" x2="347.60" y2="110.60" stroke="#4a1458" stroke-width="1.3"/>
<line x1="339.60" y1="109.60" x2="339.60" y2="111.60" stroke="#4a1458" stroke-width="1.0"/>
<line x1="336.10" y1="109.60" x2="343.10" y2="109.60" stroke="#4a1458" stroke-width="1.0"/>
<line x1="336.10" y1="111.60" x2="343.10" y2="111.60" stroke="#4a1458" stroke-width="1.0"/>
<line x1="331.60" y1="112.50" x2="347.60" y2="112.50" stroke="#c0701e" stroke-width="1.3"/>
<line x1="339.60" y1="111.50" x2="339.60" y2="113.50" stroke="#c0701e" stroke-width="1.0"/>
<line x1="336.10" y1="111.50" x2="343.10" y2="111.50" stroke="#c0701e" stroke-width="1.0"/>
<line x1="336.10" y1="113.50" x2="343.10" y2="113.50" stroke="#c0701e" stroke-width="1.0"/>
<line x1="331.60" y1="118.50" x2="347.60" y2="118.50" stroke="#3c4a68" stroke-width="1.3"/>
<line x1="339.60" y1="117.50" x2="339.60" y2="119.50" stroke="#3c4a68" stroke-width="1.0"/>
<line x1="336.10" y1="117.50" x2="343.10" y2="117.50" stroke="#3c4a68" stroke-width="1.0"/>
<line x1="336.10" y1="119.50" x2="343.10" y2="119.50" stroke="#3c4a68" stroke-width="1.0"/>
<path d="M339.60 75.40L341.70 77.50L339.60 79.60L337.50 77.50Z" fill="#5aae32"/>
<path d="M339.60 80.40L341.70 82.50L339.60 84.60L337.50 82.50Z" fill="#5aae32"/>
<rect x="337.85" y="86.25" width="3.50" height="3.50" fill="#e8a02a"/>
<rect x="337.85" y="92.05" width="3.50" height="3.50" fill="#e8a02a"/>
<circle cx="339.60" cy="98.00" r="1.75" fill="#9a8fd2"/>
<rect x="335.85" y="101.25" width="3.50" height="3.50" fill="#1e3f80"/>
<path d="M333.60 106.33L335.53 102.83L331.68 102.83Z" fill="#b4123e"/>
<rect x="341.85" y="107.25" width="3.50" height="3.50" fill="#e8a02a"/>
<circle cx="333.60" cy="110.60" r="1.75" fill="#4a1458"/>
<path d="M337.60 110.58L339.53 114.08L335.68 114.08Z" fill="#c0701e"/>
<path d="M345.60 106.08L347.53 109.58L343.68 109.58Z" fill="#c0701e"/>
<path d="M339.60 116.08L341.53 119.58L337.68 119.58Z" fill="#3c4a68"/>
<line x1="357.20" y1="107.50" x2="373.20" y2="107.50" stroke="#4a1458" stroke-width="1.3"/>
<line x1="365.20" y1="105.00" x2="365.20" y2="110.00" stroke="#4a1458" stroke-width="1.0"/>
<line x1="361.70" y1="105.00" x2="368.70" y2="105.00" stroke="#4a1458" stroke-width="1.0"/>
<line x1="361.70" y1="110.00" x2="368.70" y2="110.00" stroke="#4a1458" stroke-width="1.0"/>
<line x1="357.20" y1="108.10" x2="373.20" y2="108.10" stroke="#d0189a" stroke-width="1.3"/>
<line x1="357.20" y1="111.90" x2="373.20" y2="111.90" stroke="#c0701e" stroke-width="1.3"/>
<line x1="365.20" y1="110.40" x2="365.20" y2="113.40" stroke="#c0701e" stroke-width="1.0"/>
<line x1="361.70" y1="110.40" x2="368.70" y2="110.40" stroke="#c0701e" stroke-width="1.0"/>
<line x1="361.70" y1="113.40" x2="368.70" y2="113.40" stroke="#c0701e" stroke-width="1.0"/>
<line x1="357.20" y1="115.00" x2="373.20" y2="115.00" stroke="#5aae32" stroke-width="1.3"/>
<line x1="365.20" y1="114.00" x2="365.20" y2="116.00" stroke="#5aae32" stroke-width="1.0"/>
<line x1="361.70" y1="114.00" x2="368.70" y2="114.00" stroke="#5aae32" stroke-width="1.0"/>
<line x1="361.70" y1="116.00" x2="368.70" y2="116.00" stroke="#5aae32" stroke-width="1.0"/>
<line x1="357.20" y1="116.50" x2="373.20" y2="116.50" stroke="#e8a02a" stroke-width="1.3"/>
<line x1="365.20" y1="114.50" x2="365.20" y2="118.50" stroke="#e8a02a" stroke-width="1.0"/>
<line x1="361.70" y1="114.50" x2="368.70" y2="114.50" stroke="#e8a02a" stroke-width="1.0"/>
<line x1="361.70" y1="118.50" x2="368.70" y2="118.50" stroke="#e8a02a" stroke-width="1.0"/>
<line x1="357.20" y1="117.50" x2="373.20" y2="117.50" stroke="#b4123e" stroke-width="1.3"/>
<line x1="365.20" y1="116.50" x2="365.20" y2="118.50" stroke="#b4123e" stroke-width="1.0"/>
<line x1="361.70" y1="116.50" x2="368.70" y2="116.50" stroke="#b4123e" stroke-width="1.0"/>
<line x1="361.70" y1="118.50" x2="368.70" y2="118.50" stroke="#b4123e" stroke-width="1.0"/>
<line x1="357.20" y1="118.50" x2="373.20" y2="118.50" stroke="#1e3f80" stroke-width="1.3"/>
<line x1="365.20" y1="117.50" x2="365.20" y2="119.50" stroke="#1e3f80" stroke-width="1.0"/>
<line x1="361.70" y1="117.50" x2="368.70" y2="117.50" stroke="#1e3f80" stroke-width="1.0"/>
<line x1="361.70" y1="119.50" x2="368.70" y2="119.50" stroke="#1e3f80" stroke-width="1.0"/>
<line x1="357.20" y1="119.50" x2="373.20" y2="119.50" stroke="#3c4a68" stroke-width="1.3"/>
<line x1="365.20" y1="118.50" x2="365.20" y2="120.50" stroke="#3c4a68" stroke-width="1.0"/>
<line x1="361.70" y1="118.50" x2="368.70" y2="118.50" stroke="#3c4a68" stroke-width="1.0"/>
<line x1="361.70" y1="120.50" x2="368.70" y2="120.50" stroke="#3c4a68" stroke-width="1.0"/>
<circle cx="365.20" cy="105.00" r="1.75" fill="#4a1458"/>
<circle cx="365.20" cy="110.60" r="1.75" fill="#4a1458"/>
<path d="M363.20 109.98L365.12 113.48L361.27 113.48Z" fill="#c0701e"/>
<rect x="359.45" y="115.25" width="3.50" height="3.50" fill="#e8a02a"/>
<rect x="368.45" y="116.25" width="3.50" height="3.50" fill="#e8a02a"/>
<path d="M369.20 118.92L371.12 115.42L367.27 115.42Z" fill="#b4123e"/>
<text x="8.60" y="167.20" font-size="12.0" text-anchor="start" fill="#000" font-weight="bold" stroke="#000" stroke-width="0.14">B</text>
<line x1="71.20" y1="180.80" x2="71.20" y2="240.50" stroke="#1a1a1a" stroke-width="1.35"/>
<line x1="70.60" y1="239.90" x2="154.70" y2="239.90" stroke="#1a1a1a" stroke-width="1.35"/>
<line x1="68.20" y1="239.90" x2="71.20" y2="239.90" stroke="#1a1a1a" stroke-width="0.9"/>
<text x="65.20" y="242.84" font-size="8.4" text-anchor="end" fill="#2a2a2a" stroke="#2a2a2a" stroke-width="0.14">0</text>
<line x1="68.20" y1="228.64" x2="71.20" y2="228.64" stroke="#1a1a1a" stroke-width="0.9"/>
<text x="65.20" y="231.58" font-size="8.4" text-anchor="end" fill="#2a2a2a" stroke="#2a2a2a" stroke-width="0.14">5</text>
<line x1="68.20" y1="217.38" x2="71.20" y2="217.38" stroke="#1a1a1a" stroke-width="0.9"/>
<text x="65.20" y="220.32" font-size="8.4" text-anchor="end" fill="#2a2a2a" stroke="#2a2a2a" stroke-width="0.14">10</text>
<line x1="68.20" y1="206.12" x2="71.20" y2="206.12" stroke="#1a1a1a" stroke-width="0.9"/>
<text x="65.20" y="209.06" font-size="8.4" text-anchor="end" fill="#2a2a2a" stroke="#2a2a2a" stroke-width="0.14">15</text>
<line x1="68.20" y1="194.86" x2="71.20" y2="194.86" stroke="#1a1a1a" stroke-width="0.9"/>
<text x="65.20" y="197.80" font-size="8.4" text-anchor="end" fill="#2a2a2a" stroke="#2a2a2a" stroke-width="0.14">20</text>
<line x1="68.20" y1="183.60" x2="71.20" y2="183.60" stroke="#1a1a1a" stroke-width="0.9"/>
<text x="65.20" y="186.54" font-size="8.4" text-anchor="end" fill="#2a2a2a" stroke="#2a2a2a" stroke-width="0.14">25</text>
<line x1="92.30" y1="239.90" x2="92.30" y2="242.10" stroke="#1a1a1a" stroke-width="0.9"/>
<line x1="134.60" y1="239.90" x2="134.60" y2="242.10" stroke="#1a1a1a" stroke-width="0.9"/>
<text x="112.30" y="174.96" font-size="9.6" text-anchor="middle" fill="#1a1a1a" stroke="#1a1a1a" stroke-width="0.14">AML 1</text>
<text x="92.30" y="253.67" font-size="8.5" text-anchor="middle" fill="#1a1a1a" stroke="#1a1a1a" stroke-width="0.14">DMSO</text>
<text x="134.60" y="253.67" font-size="8.5" text-anchor="middle" fill="#1a1a1a" stroke="#1a1a1a" stroke-width="0.14">BAF</text>
<line x1="79.00" y1="201.40" x2="105.60" y2="201.40" stroke="#1a1a1a" stroke-width="1.3"/>
<line x1="92.30" y1="198.70" x2="92.30" y2="204.10" stroke="#1a1a1a" stroke-width="1"/>
<line x1="85.50" y1="198.70" x2="99.00" y2="198.70" stroke="#1a1a1a" stroke-width="1"/>
<line x1="85.50" y1="204.10" x2="99.00" y2="204.10" stroke="#1a1a1a" stroke-width="1"/>
<circle cx="90.4" cy="195.7" r="1.4" fill="#b0103c"/>
<circle cx="94.2" cy="195.7" r="1.4" fill="#b0103c"/>
<circle cx="90.2" cy="206.7" r="1.4" fill="#b0103c"/>
<circle cx="94" cy="206.1" r="1.4" fill="#b0103c"/>
<circle cx="92.3" cy="201.4" r="1.4" fill="#b0103c"/>
<line x1="122.00" y1="212.00" x2="148.00" y2="212.00" stroke="#1a1a1a" stroke-width="1.3"/>
<line x1="134.60" y1="204.40" x2="134.60" y2="219.40" stroke="#1a1a1a" stroke-width="1"/>
<line x1="130.00" y1="204.40" x2="141.60" y2="204.40" stroke="#1a1a1a" stroke-width="1"/>
<line x1="130.00" y1="219.40" x2="141.60" y2="219.40" stroke="#1a1a1a" stroke-width="1"/>
<circle cx="134.6" cy="197.8" r="1.4" fill="#1f3f88"/>
<circle cx="132.5" cy="202.5" r="1.4" fill="#1f3f88"/>
<circle cx="136.7" cy="202.5" r="1.4" fill="#1f3f88"/>
<circle cx="134.6" cy="219.4" r="1.4" fill="#1f3f88"/>
<circle cx="134.6" cy="238.5" r="1.4" fill="#1f3f88"/>
<line x1="207.30" y1="182.80" x2="207.30" y2="240.70" stroke="#1a1a1a" stroke-width="1.35"/>
<line x1="206.70" y1="240.10" x2="289.80" y2="240.10" stroke="#1a1a1a" stroke-width="1.35"/>
<line x1="204.30" y1="240.10" x2="207.30" y2="240.10" stroke="#1a1a1a" stroke-width="0.9"/>
<text x="201.30" y="243.04" font-size="8.4" text-anchor="end" fill="#2a2a2a" stroke="#2a2a2a" stroke-width="0.14">80</text>
<line x1="204.30" y1="226.47" x2="207.30" y2="226.47" stroke="#1a1a1a" stroke-width="0.9"/>
<text x="201.30" y="229.41" font-size="8.4" text-anchor="end" fill="#2a2a2a" stroke="#2a2a2a" stroke-width="0.14">85</text>
<line x1="204.30" y1="212.85" x2="207.30" y2="212.85" stroke="#1a1a1a" stroke-width="0.9"/>
<text x="201.30" y="215.79" font-size="8.4" text-anchor="end" fill="#2a2a2a" stroke="#2a2a2a" stroke-width="0.14">90</text>
<line x1="204.30" y1="199.22" x2="207.30" y2="199.22" stroke="#1a1a1a" stroke-width="0.9"/>
<text x="201.30" y="202.16" font-size="8.4" text-anchor="end" fill="#2a2a2a" stroke="#2a2a2a" stroke-width="0.14">95</text>
<line x1="204.30" y1="185.60" x2="207.30" y2="185.60" stroke="#1a1a1a" stroke-width="0.9"/>
<text x="201.30" y="188.54" font-size="8.4" text-anchor="end" fill="#2a2a2a" stroke="#2a2a2a" stroke-width="0.14">100</text>
<line x1="228.40" y1="240.10" x2="228.40" y2="242.30" stroke="#1a1a1a" stroke-width="0.9"/>
<line x1="269.60" y1="240.10" x2="269.60" y2="242.30" stroke="#1a1a1a" stroke-width="0.9"/>
<text x="248.80" y="176.16" font-size="9.6" text-anchor="middle" fill="#1a1a1a" stroke="#1a1a1a" stroke-width="0.14">AML 2</text>
<text x="228.40" y="253.67" font-size="8.5" text-anchor="middle" fill="#1a1a1a" stroke="#1a1a1a" stroke-width="0.14">DMSO</text>
<text x="269.60" y="253.67" font-size="8.5" text-anchor="middle" fill="#1a1a1a" stroke="#1a1a1a" stroke-width="0.14">BAF</text>
<line x1="215.00" y1="208.22" x2="242.00" y2="208.22" stroke="#1a1a1a" stroke-width="1.3"/>
<line x1="228.40" y1="205.22" x2="228.40" y2="211.22" stroke="#1a1a1a" stroke-width="1"/>
<line x1="221.50" y1="205.22" x2="235.50" y2="205.22" stroke="#1a1a1a" stroke-width="1"/>
<line x1="221.50" y1="211.22" x2="235.50" y2="211.22" stroke="#1a1a1a" stroke-width="1"/>
<circle cx="226.9" cy="202.22" r="1.4" fill="#b0103c"/>
<circle cx="230.4" cy="205.49" r="1.4" fill="#b0103c"/>
<circle cx="225.9" cy="209.58" r="1.4" fill="#b0103c"/>
<circle cx="229.4" cy="211.49" r="1.4" fill="#b0103c"/>
<circle cx="226.4" cy="214.48" r="1.4" fill="#b0103c"/>
<circle cx="230.9" cy="213.67" r="1.4" fill="#b0103c"/>
<line x1="256.00" y1="212.30" x2="283.00" y2="212.30" stroke="#1a1a1a" stroke-width="1.3"/>
<line x1="262.50" y1="210.94" x2="276.50" y2="210.94" stroke="#1a1a1a" stroke-width="1"/>
<line x1="262.50" y1="213.67" x2="276.50" y2="213.67" stroke="#1a1a1a" stroke-width="1"/>
<circle cx="265.6" cy="210.40" r="1.4" fill="#1f3f88"/>
<circle cx="268.6" cy="210.12" r="1.4" fill="#1f3f88"/>
<circle cx="272.6" cy="209.58" r="1.4" fill="#1f3f88"/>
<circle cx="266.6" cy="215.57" r="1.4" fill="#1f3f88"/>
<circle cx="270.6" cy="215.03" r="1.4" fill="#1f3f88"/>
<circle cx="273.6" cy="212.85" r="1.4" fill="#1f3f88"/>
<line x1="71.40" y1="265.00" x2="71.40" y2="323.60" stroke="#1a1a1a" stroke-width="1.35"/>
<line x1="70.80" y1="323.00" x2="153.00" y2="323.00" stroke="#1a1a1a" stroke-width="1.35"/>
<line x1="68.40" y1="323.00" x2="71.40" y2="323.00" stroke="#1a1a1a" stroke-width="0.9"/>
<text x="65.40" y="325.94" font-size="8.4" text-anchor="end" fill="#2a2a2a" stroke="#2a2a2a" stroke-width="0.14">0</text>
<line x1="68.40" y1="304.60" x2="71.40" y2="304.60" stroke="#1a1a1a" stroke-width="0.9"/>
<text x="65.40" y="307.54" font-size="8.4" text-anchor="end" fill="#2a2a2a" stroke="#2a2a2a" stroke-width="0.14">10</text>
<line x1="68.40" y1="286.20" x2="71.40" y2="286.20" stroke="#1a1a1a" stroke-width="0.9"/>
<text x="65.40" y="289.14" font-size="8.4" text-anchor="end" fill="#2a2a2a" stroke="#2a2a2a" stroke-width="0.14">20</text>
<line x1="68.40" y1="267.80" x2="71.40" y2="267.80" stroke="#1a1a1a" stroke-width="0.9"/>
<text x="65.40" y="270.74" font-size="8.4" text-anchor="end" fill="#2a2a2a" stroke="#2a2a2a" stroke-width="0.14">30</text>
<line x1="91.70" y1="323.00" x2="91.70" y2="325.20" stroke="#1a1a1a" stroke-width="0.9"/>
<line x1="133.00" y1="323.00" x2="133.00" y2="325.20" stroke="#1a1a1a" stroke-width="0.9"/>
<text x="91.70" y="336.18" font-size="8.5" text-anchor="middle" fill="#1a1a1a" stroke="#1a1a1a" stroke-width="0.14">DMSO</text>
<text x="133.00" y="336.18" font-size="8.5" text-anchor="middle" fill="#1a1a1a" stroke="#1a1a1a" stroke-width="0.14">BAF</text>
<line x1="77.50" y1="282.30" x2="105.50" y2="282.30" stroke="#1a1a1a" stroke-width="1.3"/>
<circle cx="91.7" cy="271" r="1.35" fill="none" stroke="#b0103c" stroke-width="0.9"/>
<circle cx="91.7" cy="275.4" r="1.35" fill="none" stroke="#b0103c" stroke-width="0.9"/>
<circle cx="89.2" cy="287" r="1.35" fill="none" stroke="#b0103c" stroke-width="0.9"/>
<circle cx="92.3" cy="288.5" r="1.35" fill="none" stroke="#b0103c" stroke-width="0.9"/>
<circle cx="91.4" cy="292" r="1.35" fill="none" stroke="#b0103c" stroke-width="0.9"/>
<line x1="120.00" y1="307.50" x2="146.00" y2="307.50" stroke="#1a1a1a" stroke-width="1.3"/>
<circle cx="129.5" cy="299.3" r="1.35" fill="none" stroke="#1f3f88" stroke-width="0.9"/>
<circle cx="133" cy="300.9" r="1.35" fill="none" stroke="#1f3f88" stroke-width="0.9"/>
<circle cx="136.5" cy="300.1" r="1.35" fill="none" stroke="#1f3f88" stroke-width="0.9"/>
<circle cx="133" cy="312.5" r="1.35" fill="none" stroke="#1f3f88" stroke-width="0.9"/>
<circle cx="133" cy="321.8" r="1.35" fill="none" stroke="#1f3f88" stroke-width="0.9"/>
<line x1="207.30" y1="267.40" x2="207.30" y2="323.30" stroke="#1a1a1a" stroke-width="1.35"/>
<line x1="206.70" y1="322.70" x2="289.20" y2="322.70" stroke="#1a1a1a" stroke-width="1.35"/>
<line x1="204.30" y1="322.70" x2="207.30" y2="322.70" stroke="#1a1a1a" stroke-width="0.9"/>
<text x="201.30" y="325.64" font-size="8.4" text-anchor="end" fill="#2a2a2a" stroke="#2a2a2a" stroke-width="0.14">0</text>
<line x1="204.30" y1="309.57" x2="207.30" y2="309.57" stroke="#1a1a1a" stroke-width="0.9"/>
<text x="201.30" y="312.51" font-size="8.4" text-anchor="end" fill="#2a2a2a" stroke="#2a2a2a" stroke-width="0.14">5</text>
<line x1="204.30" y1="296.45" x2="207.30" y2="296.45" stroke="#1a1a1a" stroke-width="0.9"/>
<text x="201.30" y="299.39" font-size="8.4" text-anchor="end" fill="#2a2a2a" stroke="#2a2a2a" stroke-width="0.14">10</text>
<line x1="204.30" y1="283.32" x2="207.30" y2="283.32" stroke="#1a1a1a" stroke-width="0.9"/>
<text x="201.30" y="286.26" font-size="8.4" text-anchor="end" fill="#2a2a2a" stroke="#2a2a2a" stroke-width="0.14">15</text>
<line x1="204.30" y1="270.20" x2="207.30" y2="270.20" stroke="#1a1a1a" stroke-width="0.9"/>
<text x="201.30" y="273.14" font-size="8.4" text-anchor="end" fill="#2a2a2a" stroke="#2a2a2a" stroke-width="0.14">20</text>
<line x1="228.40" y1="322.70" x2="228.40" y2="324.90" stroke="#1a1a1a" stroke-width="0.9"/>
<line x1="269.00" y1="322.70" x2="269.00" y2="324.90" stroke="#1a1a1a" stroke-width="0.9"/>
<text x="228.40" y="336.38" font-size="8.5" text-anchor="middle" fill="#1a1a1a" stroke="#1a1a1a" stroke-width="0.14">DMSO</text>
<text x="269.00" y="336.38" font-size="8.5" text-anchor="middle" fill="#1a1a1a" stroke="#1a1a1a" stroke-width="0.14">BAF</text>
<line x1="214.80" y1="290.40" x2="241.60" y2="290.40" stroke="#1a1a1a" stroke-width="1.3"/>
<line x1="228.40" y1="286.60" x2="228.40" y2="294.10" stroke="#1a1a1a" stroke-width="1"/>
<line x1="221.40" y1="286.60" x2="235.60" y2="286.60" stroke="#1a1a1a" stroke-width="1"/>
<line x1="221.40" y1="294.10" x2="235.60" y2="294.10" stroke="#1a1a1a" stroke-width="1"/>
<circle cx="228.4" cy="282.3" r="1.4" fill="#b0103c"/>
<circle cx="228.4" cy="287.2" r="1.4" fill="#b0103c"/>
<circle cx="228.4" cy="299" r="1.4" fill="#b0103c"/>
<line x1="255.80" y1="309.00" x2="282.60" y2="309.00" stroke="#1a1a1a" stroke-width="1.3"/>
<line x1="262.00" y1="307.60" x2="276.00" y2="307.60" stroke="#1a1a1a" stroke-width="1"/>
<line x1="262.00" y1="310.40" x2="276.00" y2="310.40" stroke="#1a1a1a" stroke-width="1"/>
<circle cx="265" cy="307.5" r="1.4" fill="#1f3f88"/>
<circle cx="267.5" cy="308" r="1.4" fill="#1f3f88"/>
<circle cx="271" cy="306.8" r="1.4" fill="#1f3f88"/>
<circle cx="273.5" cy="307.2" r="1.4" fill="#1f3f88"/>
<circle cx="266.5" cy="311" r="1.4" fill="#1f3f88"/>
<circle cx="270" cy="311.5" r="1.4" fill="#1f3f88"/>
<circle cx="272.5" cy="310.5" r="1.4" fill="#1f3f88"/>
<text x="269.00" y="299.52" font-size="7.5" text-anchor="middle" fill="#222" stroke="#222" stroke-width="0.14">**</text>
<text font-size="8.7" text-anchor="middle" fill="#1a1a1a" textLength="55" lengthAdjust="spacingAndGlyphs" stroke="#1a1a1a" stroke-width="0.2" transform="translate(21.30 210.00) rotate(-90)" x="0" y="3.04">Primary transplant</text>
<text font-size="8.7" text-anchor="middle" fill="#1a1a1a" textLength="42.5" lengthAdjust="spacingAndGlyphs" stroke="#1a1a1a" stroke-width="0.2" transform="translate(35.90 211.10) rotate(-90)" x="0" y="3.04">hCD45+ cells</text>
<text font-size="8.7" text-anchor="middle" fill="#1a1a1a" textLength="53.4" lengthAdjust="spacingAndGlyphs" stroke="#1a1a1a" stroke-width="0.2" transform="translate(46.20 210.20) rotate(-90)" x="0" y="3.04">(% of total CD45)</text>
<text font-size="8.7" text-anchor="middle" fill="#1a1a1a" textLength="64.5" lengthAdjust="spacingAndGlyphs" stroke="#1a1a1a" stroke-width="0.2" transform="translate(21.00 294.00) rotate(-90)" x="0" y="3.04">Secondary transplant</text>
<text font-size="8.7" text-anchor="middle" fill="#1a1a1a" textLength="42.5" lengthAdjust="spacingAndGlyphs" stroke="#1a1a1a" stroke-width="0.2" transform="translate(35.70 293.50) rotate(-90)" x="0" y="3.04">hCD45+ cells</text>
<text font-size="8.7" text-anchor="middle" fill="#1a1a1a" textLength="53.4" lengthAdjust="spacingAndGlyphs" stroke="#1a1a1a" stroke-width="0.2" transform="translate(45.60 293.50) rotate(-90)" x="0" y="3.04">(% of total CD45)</text>
<text font-size="8.7" text-anchor="middle" fill="#1a1a1a" textLength="41.2" lengthAdjust="spacingAndGlyphs" stroke="#1a1a1a" stroke-width="0.2" transform="translate(167.30 211.50) rotate(-90)" x="0" y="3.04">hCD45+ cells</text>
<text font-size="8.7" text-anchor="middle" fill="#1a1a1a" textLength="53.5" lengthAdjust="spacingAndGlyphs" stroke="#1a1a1a" stroke-width="0.2" transform="translate(177.60 211.30) rotate(-90)" x="0" y="3.04">(% of total CD45)</text>
<text font-size="8.7" text-anchor="middle" fill="#1a1a1a" textLength="41.2" lengthAdjust="spacingAndGlyphs" stroke="#1a1a1a" stroke-width="0.2" transform="translate(172.20 295.50) rotate(-90)" x="0" y="3.04">hCD45+ cells</text>
<text font-size="8.7" text-anchor="middle" fill="#1a1a1a" textLength="53.4" lengthAdjust="spacingAndGlyphs" stroke="#1a1a1a" stroke-width="0.2" transform="translate(182.70 294.70) rotate(-90)" x="0" y="3.04">(% of total CD45)</text>
<text x="297.20" y="166.80" font-size="12.0" text-anchor="start" fill="#000" font-weight="bold" stroke="#000" stroke-width="0.14">C</text>
<text font-size="9.2" text-anchor="middle" fill="#222" stroke="#222" stroke-width="0.14" transform="translate(309.20 213.00) rotate(-90)" x="0" y="3.22">CB</text>
<text font-size="9.2" text-anchor="middle" fill="#222" textLength="26.5" lengthAdjust="spacingAndGlyphs" stroke="#222" stroke-width="0.14" transform="translate(308.40 316.30) rotate(-90)" x="0" y="3.22">AML18</text>
<defs>
<filter id="nzD" x="0" y="0" width="100%" height="100%" color-interpolation-filters="sRGB">
 <feTurbulence type="fractalNoise" baseFrequency="0.22" numOctaves="2" seed="7" result="t"/>
 <feColorMatrix in="t" type="matrix" values="0 0 0 0 0  0 0 0 0 0  0 0 0 0 0  2.2 0 0 0 -0.85"/>
</filter>
<filter id="nzL" x="0" y="0" width="100%" height="100%" color-interpolation-filters="sRGB">
 <feTurbulence type="fractalNoise" baseFrequency="0.18" numOctaves="2" seed="11" result="t"/>
 <feColorMatrix in="t" type="matrix" values="0 0 0 0 0.55  0 0 0 0 0.55  0 0 0 0 0.55  2.4 0 0 0 -1.05"/>
</filter>
<filter id="nzF" x="0" y="0" width="100%" height="100%" color-interpolation-filters="sRGB">
 <feTurbulence type="fractalNoise" baseFrequency="0.6" numOctaves="1" seed="4" result="t"/>
 <feColorMatrix in="t" type="matrix" values="0 0 0 0 0  0 0 0 0 0  0 0 0 0 0  1.2 0 0 0 -0.45"/>
</filter>
<filter id="sm" x="-10%" y="-10%" width="120%" height="120%"><feGaussianBlur stdDeviation="1.0"/></filter>
</defs>
<clipPath id="cp0"><rect x="317.2" y="166.6" width="90.8" height="90.8"/></clipPath>
<clipPath id="cp1"><rect x="412.3" y="166.6" width="91.1" height="90.8"/></clipPath>
<clipPath id="cp2"><rect x="317.2" y="268.7" width="90.8" height="90.8"/></clipPath>
<clipPath id="cp3"><rect x="412.3" y="268.7" width="91.1" height="90.8"/></clipPath>
<defs>
<filter id="bump1" filterUnits="userSpaceOnUse" x="300" y="150" width="220" height="230">
 <feTurbulence type="fractalNoise" baseFrequency="0.22" numOctaves="2" seed="5" result="n"/>
 <feDisplacementMap in="SourceGraphic" in2="n" scale="3.5" xChannelSelector="R" yChannelSelector="G"/>
</filter>
<filter id="bump2" filterUnits="userSpaceOnUse" x="300" y="150" width="220" height="230">
 <feTurbulence type="fractalNoise" baseFrequency="0.3" numOctaves="2" seed="9" result="n"/>
 <feDisplacementMap in="SourceGraphic" in2="n" scale="5.5" xChannelSelector="R" yChannelSelector="G"/>
</filter>
<filter id="nzN" x="0" y="0" width="100%" height="100%" color-interpolation-filters="sRGB">
 <feTurbulence type="fractalNoise" baseFrequency="0.5" numOctaves="2" seed="21" result="t"/>
 <feColorMatrix in="t" type="matrix" values="0 0 0 0 0  0 0 0 0 0  0 0 0 0 0  3.0 0 0 0 -1.35"/>
</filter>
</defs>
<g clip-path="url(#cp0)">
<rect x="317.20" y="166.60" width="90.80" height="90.80" fill="#dadada"/>
<clipPath id="bc1"><polygon points="350.6,166.7 363.4,167.7 362.9,171.3 360.7,172.8 358.8,171.3 356.1,169.5"/></clipPath>
<polygon points="350.6,166.7 363.4,167.7 362.9,171.3 360.7,172.8 358.8,171.3 356.1,169.5" fill="#6e6e6e"/>
<rect x="300" y="150" width="220" height="230" filter="url(#nzD)" opacity="0.3" clip-path="url(#bc1)"/>
<clipPath id="bc2"><polygon points="329.6,256.3 335.1,249.9 337.8,246.2 342.4,247.1 344.2,249.9 349.7,247.1 354.3,246.2 357.0,249.9 360.7,249.9 363.4,255.3 364.3,257.2"/></clipPath>
<polygon points="329.6,256.3 335.1,249.9 337.8,246.2 342.4,247.1 344.2,249.9 349.7,247.1 354.3,246.2 357.0,249.9 360.7,249.9 363.4,255.3 364.3,257.2" fill="#858585"/>
<rect x="300" y="150" width="220" height="230" filter="url(#nzD)" opacity="0.3" clip-path="url(#bc2)"/>
<clipPath id="bc3"><polygon points="357.8,181.5 358.7,181.3 359.7,181.5 360.7,181.7 361.6,181.5 362.5,181.2 363.4,181.2 364.3,181.1 365.2,180.7 366.1,180.6 367.1,180.9 368.1,181.2 369.0,181.0 369.8,180.7 370.7,180.8 371.6,180.6 372.6,180.1 373.5,179.9 374.4,180.1 375.3,180.4 376.2,180.3 377.1,180.3 378.0,180.4 379.0,180.4 379.9,180.1 381.2,180.1 381.8,180.9 382.4,181.7 383.1,182.3 383.9,183.0 384.5,183.7 385.3,184.3 386.3,184.4 387.2,184.6 387.9,185.1 388.2,186.0 388.8,186.7 389.3,187.5 389.6,188.4 390.2,189.1 391.1,189.6 391.9,190.2 392.4,191.1 392.6,192.1 393.0,193.0 393.2,194.0 393.0,195.1 393.3,196.1 394.0,196.9 394.4,197.8 394.5,198.8 394.8,199.7 395.1,200.6 394.9,201.5 394.7,202.5 395.1,203.4 395.7,204.2 396.0,205.1 396.2,206.0 396.7,206.9 397.0,207.8 396.9,208.7 396.6,209.7 396.9,210.6 397.3,211.6 397.2,212.5 396.9,213.4 396.9,214.3 396.8,215.2 396.2,216.1 395.5,216.9 395.3,217.8 395.3,218.7 395.2,219.6 395.1,220.6 395.3,221.5 395.5,222.5 395.0,223.4 394.4,224.2 394.1,225.1 394.0,226.2 393.7,227.1 393.5,228.1 393.6,229.2 393.3,230.1 392.5,230.9 391.8,231.7 391.1,232.3 390.4,232.9 389.6,233.4 389.0,234.2 388.7,235.1 388.1,235.8 387.2,236.3 386.4,236.9 386.0,237.5 385.2,237.9 384.3,238.2 383.6,238.9 383.1,239.9 382.4,240.5 381.5,240.7 380.6,241.1 379.8,241.5 378.9,241.7 377.9,241.8 377.1,242.2 376.2,242.5 375.3,242.6 374.4,242.2 373.5,241.9 372.6,241.8 371.7,241.5 370.8,241.0 369.9,240.9 368.9,241.3 368.0,241.6 367.1,241.6 366.2,241.6 365.1,241.5 364.3,241.1 363.5,240.4 362.5,240.2 361.4,240.2 360.4,240.0 359.5,239.6 358.6,239.3 357.7,238.9 357.0,238.0 356.7,237.0 356.1,236.4 355.3,235.8 354.7,235.2 354.1,234.5 353.3,234.0 352.6,233.5 352.1,232.7 351.7,231.8 351.1,231.3 350.4,230.7 349.8,229.9 349.2,229.2 348.5,228.5 347.7,227.9 347.5,226.9 347.5,225.9 347.2,225.0 346.7,224.2 346.4,223.3 346.1,222.4 345.7,221.6 345.3,220.7 345.4,219.7 345.7,218.7 345.6,217.7 345.3,216.8 345.2,215.9 344.9,215.0 344.1,214.2 343.4,213.4 343.2,212.5 343.2,211.5 343.2,210.6 343.2,209.6 343.5,208.7 343.6,207.8 343.3,206.9 343.2,205.9 343.5,205.0 344.0,204.2 344.2,203.3 344.5,202.4 345.1,201.5 345.4,200.9 345.5,199.9 345.5,199.0 345.9,198.1 346.4,197.3 346.7,196.5 347.0,195.6 347.5,194.8 348.0,194.1 348.0,193.1 347.9,192.0 348.3,191.0 349.0,190.2 349.5,189.4 350.3,188.7 351.4,188.3 352.3,187.7 352.7,186.7 353.4,185.9 354.2,185.5 355.0,184.8 355.7,184.2 356.7,183.9 357.7,183.6"/></clipPath>
<polygon points="357.8,181.5 358.7,181.3 359.7,181.5 360.7,181.7 361.6,181.5 362.5,181.2 363.4,181.2 364.3,181.1 365.2,180.7 366.1,180.6 367.1,180.9 368.1,181.2 369.0,181.0 369.8,180.7 370.7,180.8 371.6,180.6 372.6,180.1 373.5,179.9 374.4,180.1 375.3,180.4 376.2,180.3 377.1,180.3 378.0,180.4 379.0,180.4 379.9,180.1 381.2,180.1 381.8,180.9 382.4,181.7 383.1,182.3 383.9,183.0 384.5,183.7 385.3,184.3 386.3,184.4 387.2,184.6 387.9,185.1 388.2,186.0 388.8,186.7 389.3,187.5 389.6,188.4 390.2,189.1 391.1,189.6 391.9,190.2 392.4,191.1 392.6,192.1 393.0,193.0 393.2,194.0 393.0,195.1 393.3,196.1 394.0,196.9 394.4,197.8 394.5,198.8 394.8,199.7 395.1,200.6 394.9,201.5 394.7,202.5 395.1,203.4 395.7,204.2 396.0,205.1 396.2,206.0 396.7,206.9 397.0,207.8 396.9,208.7 396.6,209.7 396.9,210.6 397.3,211.6 397.2,212.5 396.9,213.4 396.9,214.3 396.8,215.2 396.2,216.1 395.5,216.9 395.3,217.8 395.3,218.7 395.2,219.6 395.1,220.6 395.3,221.5 395.5,222.5 395.0,223.4 394.4,224.2 394.1,225.1 394.0,226.2 393.7,227.1 393.5,228.1 393.6,229.2 393.3,230.1 392.5,230.9 391.8,231.7 391.1,232.3 390.4,232.9 389.6,233.4 389.0,234.2 388.7,235.1 388.1,235.8 387.2,236.3 386.4,236.9 386.0,237.5 385.2,237.9 384.3,238.2 383.6,238.9 383.1,239.9 382.4,240.5 381.5,240.7 380.6,241.1 379.8,241.5 378.9,241.7 377.9,241.8 377.1,242.2 376.2,242.5 375.3,242.6 374.4,242.2 373.5,241.9 372.6,241.8 371.7,241.5 370.8,241.0 369.9,240.9 368.9,241.3 368.0,241.6 367.1,241.6 366.2,241.6 365.1,241.5 364.3,241.1 363.5,240.4 362.5,240.2 361.4,240.2 360.4,240.0 359.5,239.6 358.6,239.3 357.7,238.9 357.0,238.0 356.7,237.0 356.1,236.4 355.3,235.8 354.7,235.2 354.1,234.5 353.3,234.0 352.6,233.5 352.1,232.7 351.7,231.8 351.1,231.3 350.4,230.7 349.8,229.9 349.2,229.2 348.5,228.5 347.7,227.9 347.5,226.9 347.5,225.9 347.2,225.0 346.7,224.2 346.4,223.3 346.1,222.4 345.7,221.6 345.3,220.7 345.4,219.7 345.7,218.7 345.6,217.7 345.3,216.8 345.2,215.9 344.9,215.0 344.1,214.2 343.4,213.4 343.2,212.5 343.2,211.5 343.2,210.6 343.2,209.6 343.5,208.7 343.6,207.8 343.3,206.9 343.2,205.9 343.5,205.0 344.0,204.2 344.2,203.3 344.5,202.4 345.1,201.5 345.4,200.9 345.5,199.9 345.5,199.0 345.9,198.1 346.4,197.3 346.7,196.5 347.0,195.6 347.5,194.8 348.0,194.1 348.0,193.1 347.9,192.0 348.3,191.0 349.0,190.2 349.5,189.4 350.3,188.7 351.4,188.3 352.3,187.7 352.7,186.7 353.4,185.9 354.2,185.5 355.0,184.8 355.7,184.2 356.7,183.9 357.7,183.6" fill="#888"/>
<rect x="300" y="150" width="220" height="230" filter="url(#nzF)" opacity="0.35" clip-path="url(#bc3)"/>
<clipPath id="bc4"><polygon points="357.0,195.1 366.2,193.2 369.8,197.8 375.3,195.1 384.4,197.8 390.8,204.2 393.2,213.3 391.7,224.3 387.2,232.5 378.9,237.1 368.0,238.0 358.8,235.2 352.4,227.9 347.9,218.8 347.9,207.8 351.5,199.6"/></clipPath>
<polygon points="357.0,195.1 366.2,193.2 369.8,197.8 375.3,195.1 384.4,197.8 390.8,204.2 393.2,213.3 391.7,224.3 387.2,232.5 378.9,237.1 368.0,238.0 358.8,235.2 352.4,227.9 347.9,218.8 347.9,207.8 351.5,199.6" fill="#454545"/>
<rect x="300" y="150" width="220" height="230" filter="url(#nzD)" opacity="0.5" clip-path="url(#bc4)"/>
<rect x="300" y="150" width="220" height="230" filter="url(#nzL)" opacity="0.8" clip-path="url(#bc4)"/>
<g clip-path="url(#bc4)"><polygon points="357.0,195.1 366.2,193.2 369.8,197.8 375.3,195.1 384.4,197.8 390.8,204.2 393.2,213.3 391.7,224.3 387.2,232.5 378.9,237.1 368.0,238.0 358.8,235.2 352.4,227.9 347.9,218.8 347.9,207.8 351.5,199.6" fill="none" stroke="#222" stroke-width="3.0" filter="url(#sm)"/></g>
<clipPath id="bc5"><polygon points="369.8,183.2 377.1,181.9 382.6,184.1 385.3,189.6 383.5,195.1 378.0,196.9 373.5,194.1 370.7,189.6"/></clipPath>
<polygon points="369.8,183.2 377.1,181.9 382.6,184.1 385.3,189.6 383.5,195.1 378.0,196.9 373.5,194.1 370.7,189.6" fill="#c8c8c8"/>
<rect x="300" y="150" width="220" height="230" filter="url(#nzN)" opacity="0.5" clip-path="url(#bc5)"/>
<clipPath id="bc6"><polygon points="361.6,184.1 368.0,183.2 369.8,186.8 366.2,189.6 362.1,188.7"/></clipPath>
<polygon points="361.6,184.1 368.0,183.2 369.8,186.8 366.2,189.6 362.1,188.7" fill="#2e2e2e"/>
<line x1="353.4" y1="180.0" x2="361.1" y2="187.4" stroke="#c41540" stroke-width="1.25"/>
<path d="M363.6 189.8L359.8 188.9L362.5 186.0Z" fill="#c41540"/>
</g>
<g clip-path="url(#cp1)">
<rect x="412.30" y="166.60" width="91.10" height="90.80" fill="#dadada"/>
<clipPath id="bc7"><polygon points="476.5,167.7 487.5,165.8 506.0,165.8 506.0,200.9 498.6,200.0 489.4,195.4 482.0,188.0 477.4,178.8"/></clipPath>
<polygon points="476.5,167.7 487.5,165.8 506.0,165.8 506.0,200.9 498.6,200.0 489.4,195.4 482.0,188.0 477.4,178.8" fill="#7c7c7c"/>
<rect x="300" y="150" width="220" height="230" filter="url(#nzF)" opacity="0.3" clip-path="url(#bc7)"/>
<clipPath id="bc8"><polygon points="480.1,169.5 489.4,167.7 506.0,167.7 506.0,195.4 496.8,194.5 487.5,188.0 482.0,180.6"/></clipPath>
<polygon points="480.1,169.5 489.4,167.7 506.0,167.7 506.0,195.4 496.8,194.5 487.5,188.0 482.0,180.6" fill="#3c3c3c"/>
<rect x="300" y="150" width="220" height="230" filter="url(#nzD)" opacity="0.4" clip-path="url(#bc8)"/>
<rect x="300" y="150" width="220" height="230" filter="url(#nzL)" opacity="0.7" clip-path="url(#bc8)"/>
<clipPath id="bc9"><polygon points="489.4,256.3 496.8,248.9 500.5,241.5 501.4,234.1 506.0,232.3 506.0,260.0 491.2,260.0"/></clipPath>
<polygon points="489.4,256.3 496.8,248.9 500.5,241.5 501.4,234.1 506.0,232.3 506.0,260.0 491.2,260.0" fill="#858585"/>
<rect x="300" y="150" width="220" height="230" filter="url(#nzF)" opacity="0.3" clip-path="url(#bc9)"/>
<clipPath id="bc10"><polygon points="454.3,178.3 455.2,178.4 456.2,178.8 457.1,178.8 458.0,178.4 458.9,178.2 459.9,178.4 460.8,178.6 461.7,178.5 462.7,178.6 463.6,178.9 464.5,178.7 465.3,178.1 466.3,178.1 467.1,178.4 468.0,178.7 468.9,178.8 469.7,179.3 470.4,180.0 471.2,180.4 472.2,180.5 473.1,180.6 474.1,181.3 474.5,182.1 475.1,182.8 475.4,183.6 475.5,184.7 475.7,185.7 476.3,186.3 477.1,186.9 477.6,187.6 478.2,188.3 479.0,188.9 479.7,189.5 480.0,190.4 480.3,191.2 481.0,191.9 481.9,192.4 482.5,193.0 483.1,193.7 483.9,194.2 484.8,195.3 484.6,196.2 484.1,197.2 484.0,198.2 484.1,199.1 484.1,200.0 484.0,201.0 484.3,201.9 484.6,202.8 484.5,203.7 484.1,204.7 484.2,205.6 484.5,206.5 484.6,207.4 484.8,208.3 485.4,209.2 486.0,210.1 486.0,211.0 485.9,212.0 486.0,212.9 486.1,214.0 485.6,214.8 485.2,215.6 485.2,216.5 485.3,217.5 484.8,218.3 484.2,219.1 483.7,219.9 483.4,220.7 482.8,221.5 482.3,222.3 482.3,223.3 482.6,224.3 482.5,225.2 482.2,226.1 482.0,227.0 482.0,227.9 481.6,228.7 481.2,229.5 481.1,230.5 480.8,231.5 480.2,232.3 479.5,232.8 478.7,233.3 478.0,233.9 477.1,234.3 476.1,234.5 475.3,235.0 474.8,235.8 474.2,236.5 473.4,237.0 472.7,237.6 472.2,238.4 471.4,238.9 470.6,239.1 469.8,239.5 469.1,240.4 468.4,241.1 467.6,241.6 466.9,242.3 466.2,243.0 465.3,243.3 464.2,243.3 463.3,243.6 462.5,244.1 461.6,244.5 460.7,244.8 459.8,245.4 458.8,245.1 458.1,244.4 457.3,243.6 456.4,243.3 455.4,243.1 454.7,242.9 453.9,242.5 452.9,242.3 452.0,242.0 451.4,241.3 450.8,240.5 450.1,240.0 449.3,239.6 448.6,238.9 447.9,238.4 447.0,238.0 446.1,237.7 445.6,236.9 445.2,236.0 444.7,235.2 444.1,234.5 443.6,233.8 443.1,232.9 442.3,232.5 441.3,232.1 440.7,231.4 440.2,230.6 439.5,230.0 438.7,229.4 438.2,228.7 437.5,228.0 436.6,227.6 435.5,227.4 434.8,226.8 434.2,226.0 433.4,225.0 433.3,224.1 433.6,223.1 433.8,222.1 433.4,221.2 433.0,220.3 432.9,219.4 433.0,218.4 432.8,217.5 432.7,216.6 433.0,215.6 433.0,214.6 432.5,213.7 431.8,212.9 431.5,212.0 431.2,211.1 430.7,210.0 430.9,209.1 431.5,208.3 432.0,207.5 432.1,206.6 432.1,205.7 432.4,204.8 432.8,204.0 433.0,203.1 433.3,202.2 434.1,201.5 434.8,200.8 435.2,199.9 435.3,199.0 435.6,198.2 435.8,197.3 435.7,196.3 435.7,195.3 436.4,194.7 437.2,194.2 437.8,193.5 438.1,192.6 438.6,191.8 439.1,191.1 439.4,190.2 439.7,189.2 440.4,188.6 441.4,188.2 442.2,187.7 442.8,187.1 443.5,186.5 444.3,186.0 444.8,185.2 445.1,184.3 445.9,183.8 447.0,183.7 447.9,183.3 448.7,182.7 449.6,182.3 450.4,181.7 450.9,180.8 451.5,179.8 452.3,179.3 453.2,178.9"/></clipPath>
<polygon points="454.3,178.3 455.2,178.4 456.2,178.8 457.1,178.8 458.0,178.4 458.9,178.2 459.9,178.4 460.8,178.6 461.7,178.5 462.7,178.6 463.6,178.9 464.5,178.7 465.3,178.1 466.3,178.1 467.1,178.4 468.0,178.7 468.9,178.8 469.7,179.3 470.4,180.0 471.2,180.4 472.2,180.5 473.1,180.6 474.1,181.3 474.5,182.1 475.1,182.8 475.4,183.6 475.5,184.7 475.7,185.7 476.3,186.3 477.1,186.9 477.6,187.6 478.2,188.3 479.0,188.9 479.7,189.5 480.0,190.4 480.3,191.2 481.0,191.9 481.9,192.4 482.5,193.0 483.1,193.7 483.9,194.2 484.8,195.3 484.6,196.2 484.1,197.2 484.0,198.2 484.1,199.1 484.1,200.0 484.0,201.0 484.3,201.9 484.6,202.8 484.5,203.7 484.1,204.7 484.2,205.6 484.5,206.5 484.6,207.4 484.8,208.3 485.4,209.2 486.0,210.1 486.0,211.0 485.9,212.0 486.0,212.9 486.1,214.0 485.6,214.8 485.2,215.6 485.2,216.5 485.3,217.5 484.8,218.3 484.2,219.1 483.7,219.9 483.4,220.7 482.8,221.5 482.3,222.3 482.3,223.3 482.6,224.3 482.5,225.2 482.2,226.1 482.0,227.0 482.0,227.9 481.6,228.7 481.2,229.5 481.1,230.5 480.8,231.5 480.2,232.3 479.5,232.8 478.7,233.3 478.0,233.9 477.1,234.3 476.1,234.5 475.3,235.0 474.8,235.8 474.2,236.5 473.4,237.0 472.7,237.6 472.2,238.4 471.4,238.9 470.6,239.1 469.8,239.5 469.1,240.4 468.4,241.1 467.6,241.6 466.9,242.3 466.2,243.0 465.3,243.3 464.2,243.3 463.3,243.6 462.5,244.1 461.6,244.5 460.7,244.8 459.8,245.4 458.8,245.1 458.1,244.4 457.3,243.6 456.4,243.3 455.4,243.1 454.7,242.9 453.9,242.5 452.9,242.3 452.0,242.0 451.4,241.3 450.8,240.5 450.1,240.0 449.3,239.6 448.6,238.9 447.9,238.4 447.0,238.0 446.1,237.7 445.6,236.9 445.2,236.0 444.7,235.2 444.1,234.5 443.6,233.8 443.1,232.9 442.3,232.5 441.3,232.1 440.7,231.4 440.2,230.6 439.5,230.0 438.7,229.4 438.2,228.7 437.5,228.0 436.6,227.6 435.5,227.4 434.8,226.8 434.2,226.0 433.4,225.0 433.3,224.1 433.6,223.1 433.8,222.1 433.4,221.2 433.0,220.3 432.9,219.4 433.0,218.4 432.8,217.5 432.7,216.6 433.0,215.6 433.0,214.6 432.5,213.7 431.8,212.9 431.5,212.0 431.2,211.1 430.7,210.0 430.9,209.1 431.5,208.3 432.0,207.5 432.1,206.6 432.1,205.7 432.4,204.8 432.8,204.0 433.0,203.1 433.3,202.2 434.1,201.5 434.8,200.8 435.2,199.9 435.3,199.0 435.6,198.2 435.8,197.3 435.7,196.3 435.7,195.3 436.4,194.7 437.2,194.2 437.8,193.5 438.1,192.6 438.6,191.8 439.1,191.1 439.4,190.2 439.7,189.2 440.4,188.6 441.4,188.2 442.2,187.7 442.8,187.1 443.5,186.5 444.3,186.0 444.8,185.2 445.1,184.3 445.9,183.8 447.0,183.7 447.9,183.3 448.7,182.7 449.6,182.3 450.4,181.7 450.9,180.8 451.5,179.8 452.3,179.3 453.2,178.9" fill="#8a8a8a"/>
<rect x="300" y="150" width="220" height="230" filter="url(#nzF)" opacity="0.35" clip-path="url(#bc10)"/>
<clipPath id="bc11"><polygon points="445.1,191.7 454.3,185.2 463.5,187.1 469.1,193.5 470.9,202.8 467.2,212.0 459.8,214.8 452.5,210.2 446.9,202.8"/></clipPath>
<polygon points="445.1,191.7 454.3,185.2 463.5,187.1 469.1,193.5 470.9,202.8 467.2,212.0 459.8,214.8 452.5,210.2 446.9,202.8" fill="#444"/>
<rect x="300" y="150" width="220" height="230" filter="url(#nzD)" opacity="0.45" clip-path="url(#bc11)"/>
<rect x="300" y="150" width="220" height="230" filter="url(#nzL)" opacity="0.8" clip-path="url(#bc11)"/>
<g clip-path="url(#bc11)"><polygon points="445.1,191.7 454.3,185.2 463.5,187.1 469.1,193.5 470.9,202.8 467.2,212.0 459.8,214.8 452.5,210.2 446.9,202.8" fill="none" stroke="#262626" stroke-width="2.6" filter="url(#sm)"/></g>
<clipPath id="bc12"><polygon points="435.8,206.5 443.2,202.8 452.5,208.3 458.0,217.5 456.2,228.6 450.6,235.1 443.2,234.1 437.7,226.8 435.8,217.5"/></clipPath>
<polygon points="435.8,206.5 443.2,202.8 452.5,208.3 458.0,217.5 456.2,228.6 450.6,235.1 443.2,234.1 437.7,226.8 435.8,217.5" fill="#444"/>
<rect x="300" y="150" width="220" height="230" filter="url(#nzD)" opacity="0.45" clip-path="url(#bc12)"/>
<rect x="300" y="150" width="220" height="230" filter="url(#nzL)" opacity="0.8" clip-path="url(#bc12)"/>
<g clip-path="url(#bc12)"><polygon points="435.8,206.5 443.2,202.8 452.5,208.3 458.0,217.5 456.2,228.6 450.6,235.1 443.2,234.1 437.7,226.8 435.8,217.5" fill="none" stroke="#262626" stroke-width="2.6" filter="url(#sm)"/></g>
<clipPath id="bc13"><polygon points="452.5,232.3 458.0,227.7 462.6,232.3 461.7,239.7 457.1,241.5 453.4,238.8"/></clipPath>
<polygon points="452.5,232.3 458.0,227.7 462.6,232.3 461.7,239.7 457.1,241.5 453.4,238.8" fill="#e0e0e0"/>
<rect x="300" y="150" width="220" height="230" filter="url(#nzN)" opacity="0.4" clip-path="url(#bc13)"/>
<clipPath id="bc14"><polygon points="470.9,198.2 475.5,195.4 479.2,200.0 476.5,203.7 472.8,202.8"/></clipPath>
<polygon points="470.9,198.2 475.5,195.4 479.2,200.0 476.5,203.7 472.8,202.8" fill="#d8d8d8"/>
<rect x="300" y="150" width="220" height="230" filter="url(#nzN)" opacity="0.4" clip-path="url(#bc14)"/>
<line x1="476.5" y1="219.2" x2="468.5" y2="224.1" stroke="#c41540" stroke-width="1.25"/>
<path d="M465.6 225.9L467.4 222.4L469.5 225.8Z" fill="#c41540"/>
</g>
<g clip-path="url(#cp2)">
<rect x="317.20" y="268.70" width="90.80" height="90.80" fill="#d8d8d8"/>
<clipPath id="bc15"><polygon points="383.3,267.8 411.0,267.8 411.0,273.4 401.8,274.3 392.5,273.4 385.1,270.6"/></clipPath>
<polygon points="383.3,267.8 411.0,267.8 411.0,273.4 401.8,274.3 392.5,273.4 385.1,270.6" fill="#2a2a2a"/>
<clipPath id="bc16"><polygon points="390.7,352.8 396.2,347.2 401.8,348.1 407.3,350.9 411.0,352.8 411.0,362.0 389.8,362.0"/></clipPath>
<polygon points="390.7,352.8 396.2,347.2 401.8,348.1 407.3,350.9 411.0,352.8 411.0,362.0 389.8,362.0" fill="#5a5a5a"/>
<rect x="300" y="150" width="220" height="230" filter="url(#nzD)" opacity="0.4" clip-path="url(#bc16)"/>
<clipPath id="bc17"><polygon points="342.7,269.8 343.6,269.8 344.6,269.9 345.5,269.4 346.4,269.8 347.4,270.5 348.3,270.1 349.2,269.6 350.1,269.2 350.9,268.0 352.1,267.7 352.9,268.5 353.8,268.6 354.8,268.7 355.6,269.1 356.6,268.7 357.6,268.9 358.3,270.1 359.2,270.6 360.1,271.0 361.0,271.5 362.0,270.8 363.0,270.3 363.9,270.7 364.8,270.7 365.8,270.7 366.7,271.1 367.7,270.5 368.7,269.9 369.6,270.5 370.7,271.0 371.3,271.8 371.6,273.1 372.3,273.6 373.4,273.6 374.1,274.3 374.8,274.9 375.6,275.3 376.1,276.3 376.9,276.7 378.2,276.2 379.3,276.4 380.2,276.7 381.1,276.8 381.6,277.8 382.0,278.9 383.0,279.0 383.8,279.5 384.4,280.2 385.4,280.6 385.3,281.8 384.9,283.1 385.6,283.7 386.4,284.4 387.0,285.1 388.2,285.4 388.9,286.1 388.8,287.3 389.5,287.9 390.3,288.6 390.7,289.4 391.7,289.9 392.1,290.7 391.6,292.1 391.7,293.1 391.9,293.7 391.5,294.7 392.1,295.6 392.7,296.5 392.2,297.4 392.1,298.3 392.5,299.2 392.4,300.2 393.2,301.1 394.3,301.9 394.1,302.9 393.7,303.8 393.7,304.7 393.0,305.7 392.9,306.6 393.5,307.5 393.2,308.5 392.8,309.4 392.7,310.3 392.2,311.3 392.2,311.9 393.1,313.0 393.5,314.0 393.4,315.0 393.7,316.0 393.1,316.8 392.6,317.7 393.1,318.7 393.1,319.7 392.6,320.5 392.5,321.5 391.4,322.3 390.4,323.0 390.6,324.0 390.7,325.0 390.6,325.9 391.1,326.9 390.8,327.8 390.1,328.5 390.3,329.6 390.5,330.7 390.4,331.6 390.7,332.7 390.2,333.5 388.8,334.0 388.3,334.8 387.9,335.6 387.2,336.4 387.3,337.4 387.0,338.3 385.9,338.9 385.5,339.7 385.4,340.7 385.2,341.6 385.8,342.8 385.9,344.4 384.9,344.7 384.1,345.1 383.5,345.7 382.5,346.0 381.9,346.6 381.6,347.7 380.6,347.9 379.4,347.9 378.5,348.3 377.5,348.4 376.7,348.8 376.6,350.1 376.2,351.1 375.4,351.5 374.9,352.3 374.1,352.9 373.1,352.7 372.3,353.6 371.5,354.4 370.5,354.2 369.6,354.3 368.6,353.9 367.5,352.9 366.6,353.1 365.7,353.7 364.8,353.6 363.9,353.9 362.9,354.0 361.9,353.4 361.5,353.9 360.2,354.4 359.2,354.2 358.1,354.3 357.2,354.0 356.8,352.8 356.0,352.2 355.0,352.0 354.3,351.2 353.4,351.0 352.6,350.5 352.2,349.1 351.5,348.4 350.7,348.4 350.0,347.8 348.7,347.8 347.6,347.6 347.3,346.6 346.7,345.9 345.8,345.5 345.2,344.7 344.2,344.4 343.2,344.1 343.2,342.8 343.0,341.7 342.5,340.8 342.3,339.7 341.6,339.4 340.5,339.0 340.2,338.0 340.0,337.1 339.3,336.5 339.0,335.5 338.1,335.0 336.7,334.7 336.1,334.0 335.9,333.0 335.5,332.2 335.8,331.0 335.7,329.9 334.7,329.4 334.4,328.6 334.3,327.5 333.8,326.8 334.2,325.7 334.3,324.8 333.2,324.2 332.3,323.5 331.8,322.7 331.0,322.0 330.9,321.1 331.2,320.0 330.7,319.2 330.0,318.5 329.9,317.5 329.5,316.7 329.5,315.7 330.4,314.5 330.5,313.5 329.9,312.8 329.7,312.1 329.2,311.2 328.5,310.3 329.0,309.4 329.1,308.4 328.4,307.5 328.1,306.6 327.6,305.7 326.9,304.9 327.4,303.9 328.2,302.9 328.2,302.0 328.6,301.0 328.7,300.1 328.0,299.2 328.2,298.3 328.8,297.6 329.0,296.7 329.3,295.8 329.2,294.8 328.3,293.5 328.3,292.5 328.9,291.7 329.0,290.7 329.8,289.9 330.2,289.1 329.8,287.9 330.4,287.1 331.3,286.4 331.7,285.5 332.7,285.1 333.3,284.3 332.9,283.0 333.2,282.0 333.6,281.1 333.8,280.1 334.8,279.5 335.0,278.5 334.8,277.2 335.3,276.4 335.8,275.6 336.7,274.8 338.3,274.9 339.1,274.4 339.5,273.5 340.4,272.9 340.8,271.9 341.5,271.3 342.8,271.1"/></clipPath>
<polygon points="342.7,269.8 343.6,269.8 344.6,269.9 345.5,269.4 346.4,269.8 347.4,270.5 348.3,270.1 349.2,269.6 350.1,269.2 350.9,268.0 352.1,267.7 352.9,268.5 353.8,268.6 354.8,268.7 355.6,269.1 356.6,268.7 357.6,268.9 358.3,270.1 359.2,270.6 360.1,271.0 361.0,271.5 362.0,270.8 363.0,270.3 363.9,270.7 364.8,270.7 365.8,270.7 366.7,271.1 367.7,270.5 368.7,269.9 369.6,270.5 370.7,271.0 371.3,271.8 371.6,273.1 372.3,273.6 373.4,273.6 374.1,274.3 374.8,274.9 375.6,275.3 376.1,276.3 376.9,276.7 378.2,276.2 379.3,276.4 380.2,276.7 381.1,276.8 381.6,277.8 382.0,278.9 383.0,279.0 383.8,279.5 384.4,280.2 385.4,280.6 385.3,281.8 384.9,283.1 385.6,283.7 386.4,284.4 387.0,285.1 388.2,285.4 388.9,286.1 388.8,287.3 389.5,287.9 390.3,288.6 390.7,289.4 391.7,289.9 392.1,290.7 391.6,292.1 391.7,293.1 391.9,293.7 391.5,294.7 392.1,295.6 392.7,296.5 392.2,297.4 392.1,298.3 392.5,299.2 392.4,300.2 393.2,301.1 394.3,301.9 394.1,302.9 393.7,303.8 393.7,304.7 393.0,305.7 392.9,306.6 393.5,307.5 393.2,308.5 392.8,309.4 392.7,310.3 392.2,311.3 392.2,311.9 393.1,313.0 393.5,314.0 393.4,315.0 393.7,316.0 393.1,316.8 392.6,317.7 393.1,318.7 393.1,319.7 392.6,320.5 392.5,321.5 391.4,322.3 390.4,323.0 390.6,324.0 390.7,325.0 390.6,325.9 391.1,326.9 390.8,327.8 390.1,328.5 390.3,329.6 390.5,330.7 390.4,331.6 390.7,332.7 390.2,333.5 388.8,334.0 388.3,334.8 387.9,335.6 387.2,336.4 387.3,337.4 387.0,338.3 385.9,338.9 385.5,339.7 385.4,340.7 385.2,341.6 385.8,342.8 385.9,344.4 384.9,344.7 384.1,345.1 383.5,345.7 382.5,346.0 381.9,346.6 381.6,347.7 380.6,347.9 379.4,347.9 378.5,348.3 377.5,348.4 376.7,348.8 376.6,350.1 376.2,351.1 375.4,351.5 374.9,352.3 374.1,352.9 373.1,352.7 372.3,353.6 371.5,354.4 370.5,354.2 369.6,354.3 368.6,353.9 367.5,352.9 366.6,353.1 365.7,353.7 364.8,353.6 363.9,353.9 362.9,354.0 361.9,353.4 361.5,353.9 360.2,354.4 359.2,354.2 358.1,354.3 357.2,354.0 356.8,352.8 356.0,352.2 355.0,352.0 354.3,351.2 353.4,351.0 352.6,350.5 352.2,349.1 351.5,348.4 350.7,348.4 350.0,347.8 348.7,347.8 347.6,347.6 347.3,346.6 346.7,345.9 345.8,345.5 345.2,344.7 344.2,344.4 343.2,344.1 343.2,342.8 343.0,341.7 342.5,340.8 342.3,339.7 341.6,339.4 340.5,339.0 340.2,338.0 340.0,337.1 339.3,336.5 339.0,335.5 338.1,335.0 336.7,334.7 336.1,334.0 335.9,333.0 335.5,332.2 335.8,331.0 335.7,329.9 334.7,329.4 334.4,328.6 334.3,327.5 333.8,326.8 334.2,325.7 334.3,324.8 333.2,324.2 332.3,323.5 331.8,322.7 331.0,322.0 330.9,321.1 331.2,320.0 330.7,319.2 330.0,318.5 329.9,317.5 329.5,316.7 329.5,315.7 330.4,314.5 330.5,313.5 329.9,312.8 329.7,312.1 329.2,311.2 328.5,310.3 329.0,309.4 329.1,308.4 328.4,307.5 328.1,306.6 327.6,305.7 326.9,304.9 327.4,303.9 328.2,302.9 328.2,302.0 328.6,301.0 328.7,300.1 328.0,299.2 328.2,298.3 328.8,297.6 329.0,296.7 329.3,295.8 329.2,294.8 328.3,293.5 328.3,292.5 328.9,291.7 329.0,290.7 329.8,289.9 330.2,289.1 329.8,287.9 330.4,287.1 331.3,286.4 331.7,285.5 332.7,285.1 333.3,284.3 332.9,283.0 333.2,282.0 333.6,281.1 333.8,280.1 334.8,279.5 335.0,278.5 334.8,277.2 335.3,276.4 335.8,275.6 336.7,274.8 338.3,274.9 339.1,274.4 339.5,273.5 340.4,272.9 340.8,271.9 341.5,271.3 342.8,271.1" fill="#7e7e7e"/>
<rect x="300" y="150" width="220" height="230" filter="url(#nzD)" opacity="0.4" clip-path="url(#bc17)"/>
<rect x="300" y="150" width="220" height="230" filter="url(#nzN)" opacity="0.35" clip-path="url(#bc17)"/>
<clipPath id="bc18"><polygon points="340.8,277.1 351.9,273.4 366.7,276.2 375.9,284.5 377.8,297.4 370.4,308.5 357.5,312.2 344.5,308.5 337.2,297.4 336.2,286.3"/></clipPath>
<polygon points="340.8,277.1 351.9,273.4 366.7,276.2 375.9,284.5 377.8,297.4 370.4,308.5 357.5,312.2 344.5,308.5 337.2,297.4 336.2,286.3" fill="#646464"/>
<rect x="300" y="150" width="220" height="230" filter="url(#nzD)" opacity="0.45" clip-path="url(#bc18)"/>
<rect x="300" y="150" width="220" height="230" filter="url(#nzN)" opacity="0.35" clip-path="url(#bc18)"/>
<clipPath id="bc19"><polygon points="391.3,305.2 390.6,307.9 389.0,310.0 387.5,311.7 386.2,313.4 384.7,314.8 382.8,315.3 381.0,315.1 379.2,315.2 377.0,315.6 374.6,315.2 372.9,313.3 372.6,310.3 373.3,307.4 373.7,305.2 373.5,303.0 373.2,300.5 373.8,298.0 375.3,296.2 377.0,294.9 378.9,293.8 381.0,293.1 383.1,293.7 384.6,295.8 385.6,298.0 386.6,299.6 388.5,300.7 390.4,302.5"/></clipPath>
<polygon points="391.3,305.2 390.6,307.9 389.0,310.0 387.5,311.7 386.2,313.4 384.7,314.8 382.8,315.3 381.0,315.1 379.2,315.2 377.0,315.6 374.6,315.2 372.9,313.3 372.6,310.3 373.3,307.4 373.7,305.2 373.5,303.0 373.2,300.5 373.8,298.0 375.3,296.2 377.0,294.9 378.9,293.8 381.0,293.1 383.1,293.7 384.6,295.8 385.6,298.0 386.6,299.6 388.5,300.7 390.4,302.5" fill="#d6d6d6"/>
<rect x="300" y="150" width="220" height="230" filter="url(#nzN)" opacity="0.25" clip-path="url(#bc19)"/>
<g clip-path="url(#bc19)"><polygon points="391.3,305.2 390.6,307.9 389.0,310.0 387.5,311.7 386.2,313.4 384.7,314.8 382.8,315.3 381.0,315.1 379.2,315.2 377.0,315.6 374.6,315.2 372.9,313.3 372.6,310.3 373.3,307.4 373.7,305.2 373.5,303.0 373.2,300.5 373.8,298.0 375.3,296.2 377.0,294.9 378.9,293.8 381.0,293.1 383.1,293.7 384.6,295.8 385.6,298.0 386.6,299.6 388.5,300.7 390.4,302.5" fill="none" stroke="#555" stroke-width="1.2" filter="url(#sm)"/></g>
<clipPath id="bc20"><polygon points="359.6,322.3 359.0,323.9 358.4,325.3 357.7,326.7 356.5,327.6 355.1,328.1 353.8,328.6 352.4,329.5 350.7,330.3 348.8,330.1 347.6,328.6 347.2,326.6 347.1,325.0 346.6,323.7 345.8,322.3 345.5,320.7 346.0,319.1 346.9,317.7 347.9,316.4 349.1,315.1 350.7,314.5 352.4,315.1 353.7,316.3 354.8,317.1 356.2,317.3 358.0,317.6 359.6,318.7 360.1,320.5"/></clipPath>
<polygon points="359.6,322.3 359.0,323.9 358.4,325.3 357.7,326.7 356.5,327.6 355.1,328.1 353.8,328.6 352.4,329.5 350.7,330.3 348.8,330.1 347.6,328.6 347.2,326.6 347.1,325.0 346.6,323.7 345.8,322.3 345.5,320.7 346.0,319.1 346.9,317.7 347.9,316.4 349.1,315.1 350.7,314.5 352.4,315.1 353.7,316.3 354.8,317.1 356.2,317.3 358.0,317.6 359.6,318.7 360.1,320.5" fill="#d6d6d6"/>
<rect x="300" y="150" width="220" height="230" filter="url(#nzN)" opacity="0.25" clip-path="url(#bc20)"/>
<g clip-path="url(#bc20)"><polygon points="359.6,322.3 359.0,323.9 358.4,325.3 357.7,326.7 356.5,327.6 355.1,328.1 353.8,328.6 352.4,329.5 350.7,330.3 348.8,330.1 347.6,328.6 347.2,326.6 347.1,325.0 346.6,323.7 345.8,322.3 345.5,320.7 346.0,319.1 346.9,317.7 347.9,316.4 349.1,315.1 350.7,314.5 352.4,315.1 353.7,316.3 354.8,317.1 356.2,317.3 358.0,317.6 359.6,318.7 360.1,320.5" fill="none" stroke="#555" stroke-width="1.2" filter="url(#sm)"/></g>
<clipPath id="bc21"><polygon points="370.4,318.1 370.3,319.6 369.7,321.0 368.7,321.9 367.9,322.8 367.2,324.0 366.2,325.5 364.9,326.3 363.5,325.9 362.5,324.4 361.9,322.9 361.2,321.8 360.3,320.9 359.6,319.6 359.4,318.1 359.5,316.6 359.8,315.0 360.1,313.3 361.0,312.0 362.4,311.5 363.8,312.0 364.9,312.5 365.9,312.4 367.3,312.0 368.7,312.1 369.8,313.2 370.2,314.9 370.3,316.6"/></clipPath>
<polygon points="370.4,318.1 370.3,319.6 369.7,321.0 368.7,321.9 367.9,322.8 367.2,324.0 366.2,325.5 364.9,326.3 363.5,325.9 362.5,324.4 361.9,322.9 361.2,321.8 360.3,320.9 359.6,319.6 359.4,318.1 359.5,316.6 359.8,315.0 360.1,313.3 361.0,312.0 362.4,311.5 363.8,312.0 364.9,312.5 365.9,312.4 367.3,312.0 368.7,312.1 369.8,313.2 370.2,314.9 370.3,316.6" fill="#d6d6d6"/>
<rect x="300" y="150" width="220" height="230" filter="url(#nzN)" opacity="0.25" clip-path="url(#bc21)"/>
<g clip-path="url(#bc21)"><polygon points="370.4,318.1 370.3,319.6 369.7,321.0 368.7,321.9 367.9,322.8 367.2,324.0 366.2,325.5 364.9,326.3 363.5,325.9 362.5,324.4 361.9,322.9 361.2,321.8 360.3,320.9 359.6,319.6 359.4,318.1 359.5,316.6 359.8,315.0 360.1,313.3 361.0,312.0 362.4,311.5 363.8,312.0 364.9,312.5 365.9,312.4 367.3,312.0 368.7,312.1 369.8,313.2 370.2,314.9 370.3,316.6" fill="none" stroke="#555" stroke-width="1.2" filter="url(#sm)"/></g>
<clipPath id="bc22"><polygon points="346.1,331.5 345.6,332.7 344.9,333.8 344.6,335.0 344.3,336.5 343.6,338.1 342.3,338.7 340.9,338.1 339.8,337.1 338.9,336.4 337.9,335.9 336.9,335.2 336.2,334.1 335.9,332.8 335.5,331.5 335.2,330.0 335.4,328.4 336.3,327.2 337.7,326.9 339.0,326.9 339.9,326.6 340.9,325.7 342.2,325.0 343.5,325.2 344.5,326.2 345.2,327.5 345.8,328.8 346.2,330.1"/></clipPath>
<polygon points="346.1,331.5 345.6,332.7 344.9,333.8 344.6,335.0 344.3,336.5 343.6,338.1 342.3,338.7 340.9,338.1 339.8,337.1 338.9,336.4 337.9,335.9 336.9,335.2 336.2,334.1 335.9,332.8 335.5,331.5 335.2,330.0 335.4,328.4 336.3,327.2 337.7,326.9 339.0,326.9 339.9,326.6 340.9,325.7 342.2,325.0 343.5,325.2 344.5,326.2 345.2,327.5 345.8,328.8 346.2,330.1" fill="#d6d6d6"/>
<rect x="300" y="150" width="220" height="230" filter="url(#nzN)" opacity="0.25" clip-path="url(#bc22)"/>
<g clip-path="url(#bc22)"><polygon points="346.1,331.5 345.6,332.7 344.9,333.8 344.6,335.0 344.3,336.5 343.6,338.1 342.3,338.7 340.9,338.1 339.8,337.1 338.9,336.4 337.9,335.9 336.9,335.2 336.2,334.1 335.9,332.8 335.5,331.5 335.2,330.0 335.4,328.4 336.3,327.2 337.7,326.9 339.0,326.9 339.9,326.6 340.9,325.7 342.2,325.0 343.5,325.2 344.5,326.2 345.2,327.5 345.8,328.8 346.2,330.1" fill="none" stroke="#555" stroke-width="1.2" filter="url(#sm)"/></g>
<clipPath id="bc23"><polygon points="385.2,321.2 385.2,322.0 385.4,322.9 385.4,324.0 384.8,324.9 383.6,325.2 382.5,325.0 381.5,324.8 380.6,324.8 379.7,324.6 378.8,324.2 378.2,323.6 377.6,322.9 376.9,322.2 376.4,321.2 376.6,320.2 377.5,319.4 378.5,319.1 379.3,318.7 379.8,318.0 380.5,317.2 381.5,316.8 382.6,317.0 383.5,317.4 384.3,318.0 385.1,318.6 385.5,319.4 385.5,320.4"/></clipPath>
<polygon points="385.2,321.2 385.2,322.0 385.4,322.9 385.4,324.0 384.8,324.9 383.6,325.2 382.5,325.0 381.5,324.8 380.6,324.8 379.7,324.6 378.8,324.2 378.2,323.6 377.6,322.9 376.9,322.2 376.4,321.2 376.6,320.2 377.5,319.4 378.5,319.1 379.3,318.7 379.8,318.0 380.5,317.2 381.5,316.8 382.6,317.0 383.5,317.4 384.3,318.0 385.1,318.6 385.5,319.4 385.5,320.4" fill="#d6d6d6"/>
<rect x="300" y="150" width="220" height="230" filter="url(#nzN)" opacity="0.25" clip-path="url(#bc23)"/>
<g clip-path="url(#bc23)"><polygon points="385.2,321.2 385.2,322.0 385.4,322.9 385.4,324.0 384.8,324.9 383.6,325.2 382.5,325.0 381.5,324.8 380.6,324.8 379.7,324.6 378.8,324.2 378.2,323.6 377.6,322.9 376.9,322.2 376.4,321.2 376.6,320.2 377.5,319.4 378.5,319.1 379.3,318.7 379.8,318.0 380.5,317.2 381.5,316.8 382.6,317.0 383.5,317.4 384.3,318.0 385.1,318.6 385.5,319.4 385.5,320.4" fill="none" stroke="#555" stroke-width="1.2" filter="url(#sm)"/></g>
<clipPath id="bc24"><polygon points="359.7,334.3 360.2,335.1 360.3,336.1 359.6,336.8 358.6,337.1 357.6,337.2 356.8,337.4 356.0,337.6 355.1,337.6 354.4,337.2 353.6,336.9 352.8,336.6 351.9,336.0 351.4,335.2 351.7,334.3 352.4,333.6 353.1,333.1 353.3,332.4 353.6,331.6 354.1,330.9 355.0,330.6 356.0,330.6 356.9,330.7 357.9,330.9 358.6,331.4 359.0,332.2 359.1,333.0 359.2,333.7"/></clipPath>
<polygon points="359.7,334.3 360.2,335.1 360.3,336.1 359.6,336.8 358.6,337.1 357.6,337.2 356.8,337.4 356.0,337.6 355.1,337.6 354.4,337.2 353.6,336.9 352.8,336.6 351.9,336.0 351.4,335.2 351.7,334.3 352.4,333.6 353.1,333.1 353.3,332.4 353.6,331.6 354.1,330.9 355.0,330.6 356.0,330.6 356.9,330.7 357.9,330.9 358.6,331.4 359.0,332.2 359.1,333.0 359.2,333.7" fill="#d6d6d6"/>
<rect x="300" y="150" width="220" height="230" filter="url(#nzN)" opacity="0.25" clip-path="url(#bc24)"/>
<g clip-path="url(#bc24)"><polygon points="359.7,334.3 360.2,335.1 360.3,336.1 359.6,336.8 358.6,337.1 357.6,337.2 356.8,337.4 356.0,337.6 355.1,337.6 354.4,337.2 353.6,336.9 352.8,336.6 351.9,336.0 351.4,335.2 351.7,334.3 352.4,333.6 353.1,333.1 353.3,332.4 353.6,331.6 354.1,330.9 355.0,330.6 356.0,330.6 356.9,330.7 357.9,330.9 358.6,331.4 359.0,332.2 359.1,333.0 359.2,333.7" fill="none" stroke="#555" stroke-width="1.2" filter="url(#sm)"/></g>
<line x1="380.5" y1="341.7" x2="374.1" y2="337.2" stroke="#c41540" stroke-width="1.25"/>
<path d="M371.3 335.2L375.2 335.5L372.9 338.8Z" fill="#c41540"/>
<line x1="374.1" y1="350.9" x2="367.6" y2="346.4" stroke="#c41540" stroke-width="1.25"/>
<path d="M364.8 344.5L368.7 344.8L366.5 348.1Z" fill="#c41540"/>
</g>
<g clip-path="url(#cp3)">
<rect x="412.30" y="268.70" width="91.10" height="90.80" fill="#d7d7d7"/>
<line x1="412" y1="350" x2="504" y2="276" stroke="#dedede" stroke-width="1.2"/>
<clipPath id="bc25"><polygon points="411.8,277.1 412.7,277.6 413.5,278.2 414.5,278.3 415.3,278.9 416.3,278.9 417.5,278.0 418.5,278.0 419.9,278.5 420.5,279.2 420.4,280.4 420.8,281.4 421.7,281.9 422.1,282.9 422.4,283.8 422.7,284.7 422.4,286.1 422.6,286.4 423.4,287.3 423.6,288.2 424.1,289.1 424.7,290.0 424.3,290.9 424.2,291.9 424.9,292.7 425.1,293.6 425.4,294.5 425.7,295.4 425.0,296.4 424.2,297.3 424.1,298.2 423.7,299.1 423.6,300.0 424.0,301.1 423.5,301.9 422.8,302.8 423.1,303.8 423.1,304.7 423.3,305.7 423.7,307.5 423.0,308.1 421.9,308.2 421.1,308.7 420.2,309.0 419.3,309.3 418.9,310.2 418.3,310.9 417.3,310.8 416.3,310.6 415.4,310.6 414.4,310.5 413.6,311.4 412.8,312.4 411.5,312.2 411.4,311.2 411.3,310.3 411.8,309.4 411.4,308.5 410.8,307.5 411.2,306.6 411.5,305.7 411.8,304.8 412.8,303.8 413.0,302.9 412.3,302.0 412.3,301.1 412.2,300.2 411.8,299.2 412.3,298.3 412.3,297.4 411.5,296.5 411.1,295.5 410.9,294.6 410.6,293.7 411.3,292.8 412.1,291.8 412.0,290.9 412.0,290.0 412.2,289.1 411.9,288.2 412.2,287.2 413.0,286.3 412.7,285.4 412.3,284.5 412.1,283.5 411.1,282.6 410.8,281.7 411.5,280.8 411.5,279.8 411.4,278.9 411.6,278.0"/></clipPath>
<polygon points="411.8,277.1 412.7,277.6 413.5,278.2 414.5,278.3 415.3,278.9 416.3,278.9 417.5,278.0 418.5,278.0 419.9,278.5 420.5,279.2 420.4,280.4 420.8,281.4 421.7,281.9 422.1,282.9 422.4,283.8 422.7,284.7 422.4,286.1 422.6,286.4 423.4,287.3 423.6,288.2 424.1,289.1 424.7,290.0 424.3,290.9 424.2,291.9 424.9,292.7 425.1,293.6 425.4,294.5 425.7,295.4 425.0,296.4 424.2,297.3 424.1,298.2 423.7,299.1 423.6,300.0 424.0,301.1 423.5,301.9 422.8,302.8 423.1,303.8 423.1,304.7 423.3,305.7 423.7,307.5 423.0,308.1 421.9,308.2 421.1,308.7 420.2,309.0 419.3,309.3 418.9,310.2 418.3,310.9 417.3,310.8 416.3,310.6 415.4,310.6 414.4,310.5 413.6,311.4 412.8,312.4 411.5,312.2 411.4,311.2 411.3,310.3 411.8,309.4 411.4,308.5 410.8,307.5 411.2,306.6 411.5,305.7 411.8,304.8 412.8,303.8 413.0,302.9 412.3,302.0 412.3,301.1 412.2,300.2 411.8,299.2 412.3,298.3 412.3,297.4 411.5,296.5 411.1,295.5 410.9,294.6 410.6,293.7 411.3,292.8 412.1,291.8 412.0,290.9 412.0,290.0 412.2,289.1 411.9,288.2 412.2,287.2 413.0,286.3 412.7,285.4 412.3,284.5 412.1,283.5 411.1,282.6 410.8,281.7 411.5,280.8 411.5,279.8 411.4,278.9 411.6,278.0" fill="#555"/>
<rect x="300" y="150" width="220" height="230" filter="url(#nzD)" opacity="0.45" clip-path="url(#bc25)"/>
<rect x="300" y="150" width="220" height="230" filter="url(#nzN)" opacity="0.35" clip-path="url(#bc25)"/>
<clipPath id="bc26"><polygon points="434.0,268.8 434.9,269.4 435.8,269.7 436.8,269.0 437.7,268.7 438.6,268.2 439.5,267.4 440.5,267.9 441.4,268.5 442.3,268.5 443.2,268.7 444.2,268.9 445.1,268.4 446.0,268.8 446.9,269.6 447.8,269.7 448.8,269.8 449.7,269.7 450.6,268.7 451.5,268.2 452.5,268.5 453.4,268.4 454.3,268.4 455.2,268.6 456.2,268.0 457.1,267.6 458.0,268.3 458.9,268.7 459.8,269.1 460.8,269.9 461.7,269.6 462.6,269.0 463.2,268.6 462.9,269.6 462.6,270.5 461.9,271.3 462.2,272.5 462.0,274.3 461.1,274.6 460.2,275.1 459.1,274.9 457.9,274.4 457.0,275.0 456.1,275.4 455.1,275.5 454.3,276.0 453.5,275.3 452.6,274.7 451.6,275.2 450.6,275.6 449.7,275.8 448.7,276.5 447.8,276.3 446.9,275.6 446.0,275.7 444.9,275.7 444.0,275.2 442.9,275.3 442.2,274.4 441.7,273.1 440.8,272.7 439.9,272.2 438.9,272.1 437.6,272.6 437.0,271.7 436.4,270.8 435.4,270.3 434.7,269.6"/></clipPath>
<polygon points="434.0,268.8 434.9,269.4 435.8,269.7 436.8,269.0 437.7,268.7 438.6,268.2 439.5,267.4 440.5,267.9 441.4,268.5 442.3,268.5 443.2,268.7 444.2,268.9 445.1,268.4 446.0,268.8 446.9,269.6 447.8,269.7 448.8,269.8 449.7,269.7 450.6,268.7 451.5,268.2 452.5,268.5 453.4,268.4 454.3,268.4 455.2,268.6 456.2,268.0 457.1,267.6 458.0,268.3 458.9,268.7 459.8,269.1 460.8,269.9 461.7,269.6 462.6,269.0 463.2,268.6 462.9,269.6 462.6,270.5 461.9,271.3 462.2,272.5 462.0,274.3 461.1,274.6 460.2,275.1 459.1,274.9 457.9,274.4 457.0,275.0 456.1,275.4 455.1,275.5 454.3,276.0 453.5,275.3 452.6,274.7 451.6,275.2 450.6,275.6 449.7,275.8 448.7,276.5 447.8,276.3 446.9,275.6 446.0,275.7 444.9,275.7 444.0,275.2 442.9,275.3 442.2,274.4 441.7,273.1 440.8,272.7 439.9,272.2 438.9,272.1 437.6,272.6 437.0,271.7 436.4,270.8 435.4,270.3 434.7,269.6" fill="#5a5a5a"/>
<rect x="300" y="150" width="220" height="230" filter="url(#nzD)" opacity="0.45" clip-path="url(#bc26)"/>
<rect x="300" y="150" width="220" height="230" filter="url(#nzN)" opacity="0.35" clip-path="url(#bc26)"/>
<clipPath id="bc27"><polygon points="447.0,286.6 448.0,286.8 448.8,286.1 449.5,284.7 450.4,284.3 451.3,284.4 452.3,284.2 453.3,284.7 454.4,285.4 455.3,284.9 456.1,284.4 457.1,284.7 458.1,284.6 459.0,284.6 460.1,285.2 461.0,285.2 461.6,284.0 462.6,283.6 463.6,283.6 464.6,283.0 465.5,283.3 466.3,284.3 467.3,284.3 468.3,283.9 469.2,284.3 470.1,284.4 471.1,284.5 471.8,285.8 472.5,286.9 473.5,286.9 474.4,286.9 475.4,287.0 476.4,286.4 477.4,286.7 477.8,287.7 478.6,288.2 479.8,288.2 480.6,288.7 481.7,288.7 483.0,288.6 483.4,289.6 483.7,290.9 484.4,291.6 484.9,292.5 485.5,293.3 486.6,293.3 487.5,293.7 487.5,294.9 487.9,295.7 488.6,296.3 489.0,297.2 489.9,297.6 491.5,297.5 492.4,297.9 492.7,298.9 493.3,299.5 493.8,300.3 493.8,301.5 494.5,302.1 495.8,302.8 495.6,303.8 495.1,304.8 495.0,305.7 494.4,306.7 493.8,307.8 494.5,308.6 495.5,309.4 495.6,310.3 496.1,311.2 496.6,312.1 496.2,313.1 496.1,314.0 497.2,314.8 497.7,315.7 497.7,316.6 497.9,318.0 497.2,318.8 495.6,319.4 495.1,320.2 495.2,321.2 494.7,322.1 494.7,323.1 494.8,324.1 493.9,324.9 493.3,325.7 493.7,326.8 493.9,327.9 494.1,328.9 494.7,330.1 494.1,331.6 492.7,331.6 492.0,332.1 491.3,332.8 490.4,333.2 489.8,334.0 489.5,334.9 488.3,335.0 487.0,335.1 486.3,335.7 485.6,336.3 485.0,337.0 485.1,338.5 485.0,339.7 484.0,340.2 483.2,340.6 482.6,341.4 481.6,341.6 480.9,342.4 480.6,343.6 479.7,343.9 478.4,343.7 477.5,344.0 476.3,343.9 475.1,343.9 474.7,344.9 474.2,346.0 473.3,346.3 472.7,346.9 471.8,347.3 470.7,347.1 469.9,347.7 469.3,349.2 468.5,349.7 467.5,349.9 466.7,350.3 465.5,349.8 464.3,349.1 463.5,349.7 462.6,350.2 461.6,350.0 460.7,350.4 460.0,350.5 459.3,349.3 458.4,349.1 457.2,349.7 456.2,349.7 455.1,350.1 454.0,350.5 453.2,349.8 452.4,348.9 451.4,349.1 450.4,348.9 449.6,348.5 448.5,348.7 447.7,348.0 447.3,346.6 446.8,345.7 445.9,345.3 445.2,344.6 444.1,344.6 442.8,344.8 442.2,344.0 441.6,343.2 440.6,343.0 439.7,342.6 438.8,342.2 437.4,342.6 436.5,342.2 436.2,341.0 435.6,340.0 435.4,339.0 435.5,337.8 434.8,337.1 433.7,336.7 433.5,335.7 433.4,334.6 432.8,333.9 432.5,332.9 431.9,332.2 430.4,332.1 429.2,331.7 428.8,330.8 428.1,330.2 427.7,329.2 428.0,327.9 427.5,327.1 426.5,326.6 426.4,325.5 426.3,324.5 426.0,323.6 426.5,322.3 426.6,321.2 425.5,320.7 424.6,320.1 424.0,319.3 423.0,318.7 422.4,317.6 423.2,316.8 423.1,315.8 422.5,314.8 422.5,313.9 422.5,312.9 422.4,312.0 423.4,311.2 424.7,310.4 424.8,309.5 424.9,308.6 425.3,307.7 424.9,306.7 424.7,305.7 425.3,305.3 426.2,304.8 426.4,303.7 426.9,302.9 427.2,301.8 427.1,300.4 427.8,299.7 429.0,299.6 429.8,299.1 430.6,298.6 431.7,298.3 432.1,297.3 432.5,296.4 433.8,296.3 434.9,296.1 435.6,295.4 436.5,295.0 437.0,294.2 436.7,292.6 437.1,291.6 437.9,291.1 438.4,290.2 439.3,289.5 440.3,289.5 440.9,288.6 441.4,287.6 442.4,287.5 443.5,287.6 444.4,287.4 445.6,287.8 446.8,288.1"/></clipPath>
<polygon points="447.0,286.6 448.0,286.8 448.8,286.1 449.5,284.7 450.4,284.3 451.3,284.4 452.3,284.2 453.3,284.7 454.4,285.4 455.3,284.9 456.1,284.4 457.1,284.7 458.1,284.6 459.0,284.6 460.1,285.2 461.0,285.2 461.6,284.0 462.6,283.6 463.6,283.6 464.6,283.0 465.5,283.3 466.3,284.3 467.3,284.3 468.3,283.9 469.2,284.3 470.1,284.4 471.1,284.5 471.8,285.8 472.5,286.9 473.5,286.9 474.4,286.9 475.4,287.0 476.4,286.4 477.4,286.7 477.8,287.7 478.6,288.2 479.8,288.2 480.6,288.7 481.7,288.7 483.0,288.6 483.4,289.6 483.7,290.9 484.4,291.6 484.9,292.5 485.5,293.3 486.6,293.3 487.5,293.7 487.5,294.9 487.9,295.7 488.6,296.3 489.0,297.2 489.9,297.6 491.5,297.5 492.4,297.9 492.7,298.9 493.3,299.5 493.8,300.3 493.8,301.5 494.5,302.1 495.8,302.8 495.6,303.8 495.1,304.8 495.0,305.7 494.4,306.7 493.8,307.8 494.5,308.6 495.5,309.4 495.6,310.3 496.1,311.2 496.6,312.1 496.2,313.1 496.1,314.0 497.2,314.8 497.7,315.7 497.7,316.6 497.9,318.0 497.2,318.8 495.6,319.4 495.1,320.2 495.2,321.2 494.7,322.1 494.7,323.1 494.8,324.1 493.9,324.9 493.3,325.7 493.7,326.8 493.9,327.9 494.1,328.9 494.7,330.1 494.1,331.6 492.7,331.6 492.0,332.1 491.3,332.8 490.4,333.2 489.8,334.0 489.5,334.9 488.3,335.0 487.0,335.1 486.3,335.7 485.6,336.3 485.0,337.0 485.1,338.5 485.0,339.7 484.0,340.2 483.2,340.6 482.6,341.4 481.6,341.6 480.9,342.4 480.6,343.6 479.7,343.9 478.4,343.7 477.5,344.0 476.3,343.9 475.1,343.9 474.7,344.9 474.2,346.0 473.3,346.3 472.7,346.9 471.8,347.3 470.7,347.1 469.9,347.7 469.3,349.2 468.5,349.7 467.5,349.9 466.7,350.3 465.5,349.8 464.3,349.1 463.5,349.7 462.6,350.2 461.6,350.0 460.7,350.4 460.0,350.5 459.3,349.3 458.4,349.1 457.2,349.7 456.2,349.7 455.1,350.1 454.0,350.5 453.2,349.8 452.4,348.9 451.4,349.1 450.4,348.9 449.6,348.5 448.5,348.7 447.7,348.0 447.3,346.6 446.8,345.7 445.9,345.3 445.2,344.6 444.1,344.6 442.8,344.8 442.2,344.0 441.6,343.2 440.6,343.0 439.7,342.6 438.8,342.2 437.4,342.6 436.5,342.2 436.2,341.0 435.6,340.0 435.4,339.0 435.5,337.8 434.8,337.1 433.7,336.7 433.5,335.7 433.4,334.6 432.8,333.9 432.5,332.9 431.9,332.2 430.4,332.1 429.2,331.7 428.8,330.8 428.1,330.2 427.7,329.2 428.0,327.9 427.5,327.1 426.5,326.6 426.4,325.5 426.3,324.5 426.0,323.6 426.5,322.3 426.6,321.2 425.5,320.7 424.6,320.1 424.0,319.3 423.0,318.7 422.4,317.6 423.2,316.8 423.1,315.8 422.5,314.8 422.5,313.9 422.5,312.9 422.4,312.0 423.4,311.2 424.7,310.4 424.8,309.5 424.9,308.6 425.3,307.7 424.9,306.7 424.7,305.7 425.3,305.3 426.2,304.8 426.4,303.7 426.9,302.9 427.2,301.8 427.1,300.4 427.8,299.7 429.0,299.6 429.8,299.1 430.6,298.6 431.7,298.3 432.1,297.3 432.5,296.4 433.8,296.3 434.9,296.1 435.6,295.4 436.5,295.0 437.0,294.2 436.7,292.6 437.1,291.6 437.9,291.1 438.4,290.2 439.3,289.5 440.3,289.5 440.9,288.6 441.4,287.6 442.4,287.5 443.5,287.6 444.4,287.4 445.6,287.8 446.8,288.1" fill="#8a8a8a"/>
<rect x="300" y="150" width="220" height="230" filter="url(#nzD)" opacity="0.4" clip-path="url(#bc27)"/>
<rect x="300" y="150" width="220" height="230" filter="url(#nzN)" opacity="0.35" clip-path="url(#bc27)"/>
<clipPath id="bc28"><polygon points="454.3,290.0 470.9,287.2 485.7,295.5 492.1,308.5 491.2,325.1 483.8,334.3 470.9,335.2 463.5,328.8 456.2,317.7 450.6,302.9"/></clipPath>
<polygon points="454.3,290.0 470.9,287.2 485.7,295.5 492.1,308.5 491.2,325.1 483.8,334.3 470.9,335.2 463.5,328.8 456.2,317.7 450.6,302.9" fill="#777"/>
<rect x="300" y="150" width="220" height="230" filter="url(#nzD)" opacity="0.45" clip-path="url(#bc28)"/>
<rect x="300" y="150" width="220" height="230" filter="url(#nzN)" opacity="0.4" clip-path="url(#bc28)"/>
<g clip-path="url(#bc28)"><polygon points="454.3,290.0 470.9,287.2 485.7,295.5 492.1,308.5 491.2,325.1 483.8,334.3 470.9,335.2 463.5,328.8 456.2,317.7 450.6,302.9" fill="none" stroke="#3a3a3a" stroke-width="2.0" filter="url(#sm)"/></g>
<clipPath id="bc29"><polygon points="448.8,337.1 455.2,331.5 463.5,332.5 468.7,338.4 466.9,346.3 458.4,349.1 451.0,346.9"/></clipPath>
<polygon points="448.8,337.1 455.2,331.5 463.5,332.5 468.7,338.4 466.9,346.3 458.4,349.1 451.0,346.9" fill="#cbcbcb"/>
<rect x="300" y="150" width="220" height="230" filter="url(#nzN)" opacity="0.3" clip-path="url(#bc29)"/>
<g clip-path="url(#bc29)"><polygon points="448.8,337.1 455.2,331.5 463.5,332.5 468.7,338.4 466.9,346.3 458.4,349.1 451.0,346.9" fill="none" stroke="#555" stroke-width="1.4" filter="url(#sm)"/></g>
<line x1="428.5" y1="308.5" x2="438.1" y2="310.5" stroke="#c41540" stroke-width="1.25"/>
<path d="M441.4 311.2L437.7 312.5L438.5 308.5Z" fill="#c41540"/>
<line x1="434.0" y1="346.3" x2="440.1" y2="338.8" stroke="#c41540" stroke-width="1.25"/>
<path d="M442.3 336.2L441.7 340.1L438.6 337.6Z" fill="#c41540"/>
</g>
<rect x="317.20" y="257.20" width="90.80" height="7.00" fill="#ffffff"/>
<line x1="317.20" y1="257.50" x2="408.00" y2="257.50" stroke="#9a9a9a" stroke-width="0.45"/>
<line x1="317.20" y1="260.80" x2="408.00" y2="260.80" stroke="#c0c0c0" stroke-width="0.4"/>
<line x1="317.20" y1="264.00" x2="408.00" y2="264.00" stroke="#9a9a9a" stroke-width="0.45"/>
<line x1="365.78" y1="257.20" x2="365.78" y2="264.20" stroke="#b0b0b0" stroke-width="0.4"/>
<text x="317.7" y="260.2" font-size="2.6" fill="#1a1a1a" stroke="#1a1a1a" stroke-width="0.05" textLength="46.3" lengthAdjust="spacingAndGlyphs">Microscope Accelerating Voltage Magnification</text>
<text x="387.1" y="260.2" font-size="2.6" fill="#1a1a1a" stroke="#1a1a1a" stroke-width="0.05" text-anchor="middle">CB Ctrl 1 f1</text>
<text x="318.7" y="263.4" font-size="2.6" fill="#1a1a1a" stroke="#1a1a1a" stroke-width="0.05">JEM-1400</text>
<text x="338.1" y="263.4" font-size="2.6" fill="#1a1a1a" stroke="#1a1a1a" stroke-width="0.05">120 kV</text>
<text x="353.5" y="263.4" font-size="2.6" fill="#1a1a1a" stroke="#1a1a1a" stroke-width="0.05">7000 x</text>
<text x="387.1" y="263.4" font-size="2.6" fill="#1a1a1a" stroke="#1a1a1a" stroke-width="0.05" text-anchor="middle">2 µm</text>
<rect x="412.30" y="257.20" width="91.10" height="7.00" fill="#ffffff"/>
<line x1="412.30" y1="257.50" x2="503.40" y2="257.50" stroke="#9a9a9a" stroke-width="0.45"/>
<line x1="412.30" y1="260.80" x2="503.40" y2="260.80" stroke="#c0c0c0" stroke-width="0.4"/>
<line x1="412.30" y1="264.00" x2="503.40" y2="264.00" stroke="#9a9a9a" stroke-width="0.45"/>
<line x1="461.04" y1="257.20" x2="461.04" y2="264.20" stroke="#b0b0b0" stroke-width="0.4"/>
<text x="412.8" y="260.2" font-size="2.6" fill="#1a1a1a" stroke="#1a1a1a" stroke-width="0.05" textLength="46.5" lengthAdjust="spacingAndGlyphs">Microscope Accelerating Voltage Magnification</text>
<text x="482.4" y="260.2" font-size="2.6" fill="#1a1a1a" stroke="#1a1a1a" stroke-width="0.05" text-anchor="middle">CB Ctrl 1 f1</text>
<text x="413.8" y="263.4" font-size="2.6" fill="#1a1a1a" stroke="#1a1a1a" stroke-width="0.05">JEM-1400</text>
<text x="433.3" y="263.4" font-size="2.6" fill="#1a1a1a" stroke="#1a1a1a" stroke-width="0.05">120 kV</text>
<text x="448.7" y="263.4" font-size="2.6" fill="#1a1a1a" stroke="#1a1a1a" stroke-width="0.05">7000 x</text>
<text x="482.4" y="263.4" font-size="2.6" fill="#1a1a1a" stroke="#1a1a1a" stroke-width="0.05" text-anchor="middle">2 µm</text>
<rect x="317.20" y="359.50" width="90.80" height="7.00" fill="#ffffff"/>
<line x1="317.20" y1="359.80" x2="408.00" y2="359.80" stroke="#9a9a9a" stroke-width="0.45"/>
<line x1="317.20" y1="363.10" x2="408.00" y2="363.10" stroke="#c0c0c0" stroke-width="0.4"/>
<line x1="317.20" y1="366.30" x2="408.00" y2="366.30" stroke="#9a9a9a" stroke-width="0.45"/>
<line x1="365.78" y1="359.50" x2="365.78" y2="366.50" stroke="#b0b0b0" stroke-width="0.4"/>
<text x="317.7" y="362.5" font-size="2.6" fill="#1a1a1a" stroke="#1a1a1a" stroke-width="0.05" textLength="46.3" lengthAdjust="spacingAndGlyphs">Microscope Accelerating Voltage Magnification</text>
<text x="387.1" y="362.5" font-size="2.6" fill="#1a1a1a" stroke="#1a1a1a" stroke-width="0.05" text-anchor="middle">AML 18f1 w12</text>
<text x="318.7" y="365.7" font-size="2.6" fill="#1a1a1a" stroke="#1a1a1a" stroke-width="0.05">JEM-1400</text>
<text x="338.1" y="365.7" font-size="2.6" fill="#1a1a1a" stroke="#1a1a1a" stroke-width="0.05">120 kV</text>
<text x="353.5" y="365.7" font-size="2.6" fill="#1a1a1a" stroke="#1a1a1a" stroke-width="0.05">7000 x</text>
<text x="387.1" y="365.7" font-size="2.6" fill="#1a1a1a" stroke="#1a1a1a" stroke-width="0.05" text-anchor="middle">2 µm</text>
<rect x="412.30" y="359.50" width="91.10" height="7.00" fill="#ffffff"/>
<line x1="412.30" y1="359.80" x2="503.40" y2="359.80" stroke="#9a9a9a" stroke-width="0.45"/>
<line x1="412.30" y1="363.10" x2="503.40" y2="363.10" stroke="#c0c0c0" stroke-width="0.4"/>
<line x1="412.30" y1="366.30" x2="503.40" y2="366.30" stroke="#9a9a9a" stroke-width="0.45"/>
<line x1="461.04" y1="359.50" x2="461.04" y2="366.50" stroke="#b0b0b0" stroke-width="0.4"/>
<text x="412.8" y="362.5" font-size="2.6" fill="#1a1a1a" stroke="#1a1a1a" stroke-width="0.05" textLength="46.5" lengthAdjust="spacingAndGlyphs">Microscope Accelerating Voltage Magnification</text>
<text x="482.4" y="362.5" font-size="2.6" fill="#1a1a1a" stroke="#1a1a1a" stroke-width="0.05" text-anchor="middle">AML 18f1 w13</text>
<text x="413.8" y="365.7" font-size="2.6" fill="#1a1a1a" stroke="#1a1a1a" stroke-width="0.05">JEM-1400</text>
<text x="433.3" y="365.7" font-size="2.6" fill="#1a1a1a" stroke="#1a1a1a" stroke-width="0.05">120 kV</text>
<text x="448.7" y="365.7" font-size="2.6" fill="#1a1a1a" stroke="#1a1a1a" stroke-width="0.05">7000 x</text>
<text x="482.4" y="365.7" font-size="2.6" fill="#1a1a1a" stroke="#1a1a1a" stroke-width="0.05" text-anchor="middle">2 µm</text>
<text x="7.70" y="382.20" font-size="12.0" text-anchor="start" fill="#000" font-weight="bold" stroke="#000" stroke-width="0.14">D</text>
<line x1="71.70" y1="399.00" x2="71.70" y2="483.40" stroke="#1a1a1a" stroke-width="1.35"/>
<line x1="68.30" y1="482.80" x2="152.30" y2="482.80" stroke="#1a1a1a" stroke-width="1.4"/>
<line x1="68.50" y1="482.80" x2="71.70" y2="482.80" stroke="#1a1a1a" stroke-width="0.9"/>
<text x="65.20" y="485.85" font-size="8.7" text-anchor="end" fill="#2a2a2a" stroke="#2a2a2a" stroke-width="0.14">0</text>
<line x1="68.50" y1="462.45" x2="71.70" y2="462.45" stroke="#1a1a1a" stroke-width="0.9"/>
<text x="65.20" y="465.50" font-size="8.7" text-anchor="end" fill="#2a2a2a" stroke="#2a2a2a" stroke-width="0.14">2000</text>
<line x1="68.50" y1="442.10" x2="71.70" y2="442.10" stroke="#1a1a1a" stroke-width="0.9"/>
<text x="65.20" y="445.15" font-size="8.7" text-anchor="end" fill="#2a2a2a" stroke="#2a2a2a" stroke-width="0.14">4000</text>
<line x1="68.50" y1="421.75" x2="71.70" y2="421.75" stroke="#1a1a1a" stroke-width="0.9"/>
<text x="65.20" y="424.80" font-size="8.7" text-anchor="end" fill="#2a2a2a" stroke="#2a2a2a" stroke-width="0.14">6000</text>
<line x1="68.50" y1="401.40" x2="71.70" y2="401.40" stroke="#1a1a1a" stroke-width="0.9"/>
<text x="65.20" y="404.44" font-size="8.7" text-anchor="end" fill="#2a2a2a" stroke="#2a2a2a" stroke-width="0.14">8000</text>
<text font-size="10.2" text-anchor="middle" fill="#1a1a1a" textLength="24.7" lengthAdjust="spacingAndGlyphs" stroke="#1a1a1a" stroke-width="0.3" transform="translate(37.80 445.30) rotate(-90)" x="0" y="3.57">MitoID MFI</text>
<rect x="75.40" y="442.00" width="5.60" height="40.80" fill="#8e82c6"/>
<line x1="78.20" y1="440.40" x2="78.20" y2="442.00" stroke="#333" stroke-width="0.8"/>
<line x1="76.60" y1="440.40" x2="79.80" y2="440.40" stroke="#333" stroke-width="0.8"/>
<line x1="78.20" y1="482.80" x2="78.20" y2="485.40" stroke="#1a1a1a" stroke-width="0.9"/>
<rect x="86.20" y="419.80" width="5.50" height="63.00" fill="#8e82c6"/>
<line x1="88.95" y1="418.20" x2="88.95" y2="419.80" stroke="#333" stroke-width="0.8"/>
<line x1="87.35" y1="418.20" x2="90.55" y2="418.20" stroke="#333" stroke-width="0.8"/>
<line x1="88.95" y1="482.80" x2="88.95" y2="485.40" stroke="#1a1a1a" stroke-width="0.9"/>
<rect x="103.40" y="448.80" width="5.20" height="34.00" fill="#474f63"/>
<line x1="106.00" y1="447.20" x2="106.00" y2="448.80" stroke="#333" stroke-width="0.8"/>
<line x1="104.40" y1="447.20" x2="107.60" y2="447.20" stroke="#333" stroke-width="0.8"/>
<line x1="106.00" y1="482.80" x2="106.00" y2="485.40" stroke="#1a1a1a" stroke-width="0.9"/>
<rect x="114.50" y="427.80" width="5.50" height="55.00" fill="#474f63"/>
<line x1="117.25" y1="426.20" x2="117.25" y2="427.80" stroke="#333" stroke-width="0.8"/>
<line x1="115.65" y1="426.20" x2="118.85" y2="426.20" stroke="#333" stroke-width="0.8"/>
<line x1="117.25" y1="482.80" x2="117.25" y2="485.40" stroke="#1a1a1a" stroke-width="0.9"/>
<rect x="132.30" y="438.30" width="5.20" height="44.50" fill="#c8137c"/>
<line x1="134.90" y1="436.70" x2="134.90" y2="438.30" stroke="#333" stroke-width="0.8"/>
<line x1="133.30" y1="436.70" x2="136.50" y2="436.70" stroke="#333" stroke-width="0.8"/>
<line x1="134.90" y1="482.80" x2="134.90" y2="485.40" stroke="#1a1a1a" stroke-width="0.9"/>
<rect x="143.00" y="409.40" width="5.30" height="73.40" fill="#c8137c"/>
<line x1="145.65" y1="407.80" x2="145.65" y2="409.40" stroke="#333" stroke-width="0.8"/>
<line x1="144.05" y1="407.80" x2="147.25" y2="407.80" stroke="#333" stroke-width="0.8"/>
<line x1="145.65" y1="482.80" x2="145.65" y2="485.40" stroke="#1a1a1a" stroke-width="0.9"/>
<path d="M74.5 414.4V412.2H91.4V414.4" fill="none" stroke="#222" stroke-width="1"/>
<text x="82.95" y="412.22" font-size="7.5" text-anchor="middle" fill="#222" stroke="#222" stroke-width="0.14">**</text>
<path d="M104.6 425.2V423.0H121.5V425.2" fill="none" stroke="#222" stroke-width="1"/>
<text x="113.05" y="423.02" font-size="7.5" text-anchor="middle" fill="#222" stroke="#222" stroke-width="0.14">***</text>
<path d="M130.8 406.7V404.5H147.7V406.7" fill="none" stroke="#222" stroke-width="1"/>
<text x="139.25" y="404.52" font-size="7.5" text-anchor="middle" fill="#222" stroke="#222" stroke-width="0.14">***</text>
<text font-size="8.7" text-anchor="middle" fill="#1a1a1a" stroke="#1a1a1a" stroke-width="0.14" textLength="27.5" lengthAdjust="spacingAndGlyphs" transform="translate(71.50 499.00) rotate(-45)" x="0" y="3.04">DMSO</text>
<text font-size="8.7" text-anchor="middle" fill="#1a1a1a" stroke="#1a1a1a" stroke-width="0.14" textLength="52.5" lengthAdjust="spacingAndGlyphs" transform="translate(69.80 515.40) rotate(-45)" x="0" y="3.04">25 nM Baf A1</text>
<text font-size="8.7" text-anchor="middle" fill="#1a1a1a" stroke="#1a1a1a" stroke-width="0.14" textLength="27.5" lengthAdjust="spacingAndGlyphs" transform="translate(100.00 499.00) rotate(-45)" x="0" y="3.04">DMSO</text>
<text font-size="8.7" text-anchor="middle" fill="#1a1a1a" stroke="#1a1a1a" stroke-width="0.14" textLength="52.5" lengthAdjust="spacingAndGlyphs" transform="translate(98.30 515.40) rotate(-45)" x="0" y="3.04">25 nM Baf A1</text>
<text font-size="8.7" text-anchor="middle" fill="#1a1a1a" stroke="#1a1a1a" stroke-width="0.14" textLength="27.5" lengthAdjust="spacingAndGlyphs" transform="translate(128.70 499.00) rotate(-45)" x="0" y="3.04">DMSO</text>
<text font-size="8.7" text-anchor="middle" fill="#1a1a1a" stroke="#1a1a1a" stroke-width="0.14" textLength="52.5" lengthAdjust="spacingAndGlyphs" transform="translate(126.60 515.40) rotate(-45)" x="0" y="3.04">25 nM Baf A1</text>
<rect x="150.00" y="489.30" width="8.50" height="4.40" fill="#8e82c6"/>
<text x="161.60" y="494.23" font-size="7.8" text-anchor="start" fill="#1a1a1a" textLength="24.5" lengthAdjust="spacingAndGlyphs" stroke="#1a1a1a" stroke-width="0.14">AML40</text>
<rect x="150.00" y="500.90" width="8.50" height="4.40" fill="#474f63"/>
<text x="161.60" y="505.83" font-size="7.8" text-anchor="start" fill="#1a1a1a" textLength="24.5" lengthAdjust="spacingAndGlyphs" stroke="#1a1a1a" stroke-width="0.14">AML42</text>
<rect x="150.00" y="512.50" width="8.50" height="4.40" fill="#c8137c"/>
<text x="161.60" y="517.43" font-size="7.8" text-anchor="start" fill="#1a1a1a" textLength="24.5" lengthAdjust="spacingAndGlyphs" stroke="#1a1a1a" stroke-width="0.14">AML43</text>
<text x="193.40" y="382.60" font-size="12.0" text-anchor="start" fill="#000" font-weight="bold" stroke="#000" stroke-width="0.14">E</text>
<line x1="235.90" y1="393.50" x2="235.90" y2="483.40" stroke="#1a1a1a" stroke-width="1.4"/>
<line x1="235.30" y1="482.80" x2="368.80" y2="482.80" stroke="#1a1a1a" stroke-width="1.4"/>
<line x1="232.30" y1="482.80" x2="235.90" y2="482.80" stroke="#1a1a1a" stroke-width="0.9"/>
<text x="229.80" y="485.85" font-size="8.7" text-anchor="end" fill="#2a2a2a" stroke="#2a2a2a" stroke-width="0.14">0</text>
<line x1="232.30" y1="461.27" x2="235.90" y2="461.27" stroke="#1a1a1a" stroke-width="0.9"/>
<text x="229.80" y="464.32" font-size="8.7" text-anchor="end" fill="#2a2a2a" stroke="#2a2a2a" stroke-width="0.14">100</text>
<line x1="232.30" y1="439.75" x2="235.90" y2="439.75" stroke="#1a1a1a" stroke-width="0.9"/>
<text x="229.80" y="442.80" font-size="8.7" text-anchor="end" fill="#2a2a2a" stroke="#2a2a2a" stroke-width="0.14">200</text>
<line x1="232.30" y1="418.23" x2="235.90" y2="418.23" stroke="#1a1a1a" stroke-width="0.9"/>
<text x="229.80" y="421.27" font-size="8.7" text-anchor="end" fill="#2a2a2a" stroke="#2a2a2a" stroke-width="0.14">300</text>
<line x1="232.30" y1="396.70" x2="235.90" y2="396.70" stroke="#1a1a1a" stroke-width="0.9"/>
<text x="229.80" y="399.75" font-size="8.7" text-anchor="end" fill="#2a2a2a" stroke="#2a2a2a" stroke-width="0.14">400</text>
<line x1="235.90" y1="482.80" x2="235.90" y2="485.40" stroke="#1a1a1a" stroke-width="1"/>
<text x="236.20" y="496.71" font-size="8.6" text-anchor="middle" fill="#222" stroke="#222" stroke-width="0.14">0</text>
<line x1="268.42" y1="482.80" x2="268.42" y2="485.40" stroke="#1a1a1a" stroke-width="1"/>
<text x="268.72" y="496.71" font-size="8.6" text-anchor="middle" fill="#222" stroke="#222" stroke-width="0.14">20</text>
<line x1="300.94" y1="482.80" x2="300.94" y2="485.40" stroke="#1a1a1a" stroke-width="1"/>
<text x="301.24" y="496.71" font-size="8.6" text-anchor="middle" fill="#222" stroke="#222" stroke-width="0.14">40</text>
<line x1="333.46" y1="482.80" x2="333.46" y2="485.40" stroke="#1a1a1a" stroke-width="1"/>
<text x="333.76" y="496.71" font-size="8.6" text-anchor="middle" fill="#222" stroke="#222" stroke-width="0.14">60</text>
<line x1="365.98" y1="482.80" x2="365.98" y2="485.40" stroke="#1a1a1a" stroke-width="1"/>
<text x="366.28" y="496.71" font-size="8.6" text-anchor="middle" fill="#222" stroke="#222" stroke-width="0.14">80</text>
<text x="302.30" y="510.16" font-size="9.6" text-anchor="middle" fill="#1a1a1a" textLength="46.4" lengthAdjust="spacingAndGlyphs" stroke="#1a1a1a" stroke-width="0.22">Time (minutes)</text>
<text font-size="9.3" text-anchor="middle" fill="#1a1a1a" textLength="50.3" lengthAdjust="spacingAndGlyphs" stroke="#1a1a1a" stroke-width="0.25" transform="translate(206.00 438.20) rotate(-90)" x="0" y="3.25">OCR (pmol/min)</text>
<polyline points="238,474 248.8,474.5 259.5,474.5 270.3,479.2 281.2,479.2 291.8,479.2 302.7,471.2 313.3,473.3 324.2,473.7 335.2,480.8 345.8,480.8 356.5,480.8" fill="none" stroke="#b41443" stroke-width="1.3"/>
<rect x="236.10" y="472.10" width="3.80" height="3.80" fill="#b41443"/>
<rect x="246.90" y="472.60" width="3.80" height="3.80" fill="#b41443"/>
<rect x="257.60" y="472.60" width="3.80" height="3.80" fill="#b41443"/>
<rect x="268.40" y="477.30" width="3.80" height="3.80" fill="#b41443"/>
<rect x="279.30" y="477.30" width="3.80" height="3.80" fill="#b41443"/>
<rect x="289.90" y="477.30" width="3.80" height="3.80" fill="#b41443"/>
<rect x="300.80" y="469.30" width="3.80" height="3.80" fill="#b41443"/>
<rect x="311.40" y="471.40" width="3.80" height="3.80" fill="#b41443"/>
<rect x="322.30" y="471.80" width="3.80" height="3.80" fill="#b41443"/>
<rect x="333.30" y="478.90" width="3.80" height="3.80" fill="#b41443"/>
<rect x="343.90" y="478.90" width="3.80" height="3.80" fill="#b41443"/>
<rect x="354.60" y="478.90" width="3.80" height="3.80" fill="#b41443"/>
<polyline points="238,461.8 248.8,462.8 259.5,463.5 270.3,476.9 281.2,477.8 291.8,477.8 302.7,436.7 313.3,449 324.2,452.5 335.2,478.8 345.8,478.7 356.5,478.7" fill="none" stroke="#26478a" stroke-width="1.3"/>
<line x1="302.70" y1="420.20" x2="302.70" y2="453.10" stroke="#26478a" stroke-width="0.9"/>
<line x1="300.50" y1="420.20" x2="304.90" y2="420.20" stroke="#26478a" stroke-width="0.9"/>
<line x1="300.50" y1="453.10" x2="304.90" y2="453.10" stroke="#26478a" stroke-width="0.9"/>
<line x1="313.30" y1="439.40" x2="313.30" y2="458.80" stroke="#26478a" stroke-width="0.9"/>
<line x1="311.10" y1="439.40" x2="315.50" y2="439.40" stroke="#26478a" stroke-width="0.9"/>
<line x1="311.10" y1="458.80" x2="315.50" y2="458.80" stroke="#26478a" stroke-width="0.9"/>
<line x1="324.20" y1="444.20" x2="324.20" y2="461.50" stroke="#26478a" stroke-width="0.9"/>
<line x1="322.00" y1="444.20" x2="326.40" y2="444.20" stroke="#26478a" stroke-width="0.9"/>
<line x1="322.00" y1="461.50" x2="326.40" y2="461.50" stroke="#26478a" stroke-width="0.9"/>
<circle cx="238" cy="461.8" r="2.0" fill="#26478a"/>
<circle cx="248.8" cy="462.8" r="2.0" fill="#26478a"/>
<circle cx="259.5" cy="463.5" r="2.0" fill="#26478a"/>
<circle cx="270.3" cy="476.9" r="2.0" fill="#26478a"/>
<circle cx="281.2" cy="477.8" r="2.0" fill="#26478a"/>
<circle cx="291.8" cy="477.8" r="2.0" fill="#26478a"/>
<circle cx="302.7" cy="436.7" r="2.0" fill="#26478a"/>
<circle cx="313.3" cy="449" r="2.0" fill="#26478a"/>
<circle cx="324.2" cy="452.5" r="2.0" fill="#26478a"/>
<circle cx="335.2" cy="478.8" r="2.0" fill="#26478a"/>
<circle cx="345.8" cy="478.7" r="2.0" fill="#26478a"/>
<circle cx="356.5" cy="478.7" r="2.0" fill="#26478a"/>
<line x1="238.80" y1="399.30" x2="248.30" y2="399.30" stroke="#26478a" stroke-width="1.3"/>
<circle cx="243.5" cy="399.3" r="1.9" fill="#26478a"/>
<text x="251.80" y="402.31" font-size="8.6" text-anchor="start" fill="#1a1a1a" textLength="32.2" lengthAdjust="spacingAndGlyphs" stroke="#1a1a1a" stroke-width="0.14">Untreated</text>
<line x1="238.80" y1="411.50" x2="248.30" y2="411.50" stroke="#b41443" stroke-width="1.3"/>
<rect x="241.60" y="409.60" width="3.80" height="3.80" fill="#b41443"/>
<text x="251.80" y="414.51" font-size="8.6" text-anchor="start" fill="#1a1a1a" textLength="43.9" lengthAdjust="spacingAndGlyphs" stroke="#1a1a1a" stroke-width="0.14">25nM Baf A1</text>
<text x="243.80" y="449.70" font-size="8.3" text-anchor="start" fill="#444" font-style="italic" textLength="19.6" lengthAdjust="spacingAndGlyphs" stroke="#444" stroke-width="0.14">Basal</text>
<text x="243.80" y="459.40" font-size="8.3" text-anchor="start" fill="#444" font-style="italic" textLength="36.9" lengthAdjust="spacingAndGlyphs" stroke="#444" stroke-width="0.14">Respiration</text>
<text x="308.80" y="412.70" font-size="8.3" text-anchor="start" fill="#444" font-style="italic" textLength="27.9" lengthAdjust="spacingAndGlyphs" stroke="#444" stroke-width="0.14">Maximal</text>
<text x="308.80" y="422.30" font-size="8.3" text-anchor="start" fill="#444" font-style="italic" textLength="37.5" lengthAdjust="spacingAndGlyphs" stroke="#444" stroke-width="0.14">Respiratory</text>
<text x="308.80" y="431.70" font-size="8.3" text-anchor="start" fill="#444" font-style="italic" textLength="29.2" lengthAdjust="spacingAndGlyphs" stroke="#444" stroke-width="0.14">Capacity</text>
<text x="377.30" y="382.40" font-size="12.0" text-anchor="start" fill="#000" font-weight="bold" stroke="#000" stroke-width="0.14">F</text>
<line x1="424.60" y1="391.00" x2="424.60" y2="483.40" stroke="#1a1a1a" stroke-width="1.35"/>
<line x1="424.00" y1="482.80" x2="513.00" y2="482.80" stroke="#1a1a1a" stroke-width="1.4"/>
<line x1="421.00" y1="482.80" x2="424.60" y2="482.80" stroke="#1a1a1a" stroke-width="0.9"/>
<text x="418.20" y="485.92" font-size="8.9" text-anchor="end" fill="#2a2a2a" stroke="#2a2a2a" stroke-width="0.14">0</text>
<line x1="421.00" y1="460.52" x2="424.60" y2="460.52" stroke="#1a1a1a" stroke-width="0.9"/>
<text x="418.20" y="463.64" font-size="8.9" text-anchor="end" fill="#2a2a2a" stroke="#2a2a2a" stroke-width="0.14">500</text>
<line x1="421.00" y1="438.25" x2="424.60" y2="438.25" stroke="#1a1a1a" stroke-width="0.9"/>
<text x="418.20" y="441.37" font-size="8.9" text-anchor="end" fill="#2a2a2a" stroke="#2a2a2a" stroke-width="0.14">1000</text>
<line x1="421.00" y1="415.98" x2="424.60" y2="415.98" stroke="#1a1a1a" stroke-width="0.9"/>
<text x="418.20" y="419.09" font-size="8.9" text-anchor="end" fill="#2a2a2a" stroke="#2a2a2a" stroke-width="0.14">1500</text>
<line x1="421.00" y1="393.70" x2="424.60" y2="393.70" stroke="#1a1a1a" stroke-width="0.9"/>
<text x="418.20" y="396.81" font-size="8.9" text-anchor="end" fill="#2a2a2a" stroke="#2a2a2a" stroke-width="0.14">2000</text>
<text font-size="10.6" text-anchor="middle" fill="#1a1a1a" textLength="37.5" lengthAdjust="spacingAndGlyphs" stroke="#1a1a1a" stroke-width="0.3" transform="translate(390.60 436.80) rotate(-90)" x="0" y="3.71">MitoID (MFI)</text>
<rect x="430.30" y="458.00" width="10.60" height="24.80" fill="#a20b32"/>
<line x1="435.60" y1="447.30" x2="435.60" y2="458.00" stroke="#3a3a3a" stroke-width="1.0"/>
<line x1="432.80" y1="447.30" x2="438.40" y2="447.30" stroke="#3a3a3a" stroke-width="1.1"/>
<line x1="435.60" y1="482.80" x2="435.60" y2="485.40" stroke="#1a1a1a" stroke-width="1"/>
<rect x="446.90" y="416.10" width="10.40" height="66.70" fill="#a20b32"/>
<line x1="452.10" y1="406.90" x2="452.10" y2="416.10" stroke="#3a3a3a" stroke-width="1.0"/>
<line x1="449.30" y1="406.90" x2="454.90" y2="406.90" stroke="#3a3a3a" stroke-width="1.1"/>
<line x1="452.10" y1="482.80" x2="452.10" y2="485.40" stroke="#1a1a1a" stroke-width="1"/>
<text x="452.10" y="406.96" font-size="7.6" text-anchor="middle" fill="#333" stroke="#333" stroke-width="0.14">**</text>
<rect x="463.20" y="411.80" width="10.70" height="71.00" fill="#a20b32"/>
<line x1="468.55" y1="407.50" x2="468.55" y2="411.80" stroke="#3a3a3a" stroke-width="1.0"/>
<line x1="465.75" y1="407.50" x2="471.35" y2="407.50" stroke="#3a3a3a" stroke-width="1.1"/>
<line x1="468.60" y1="482.80" x2="468.60" y2="485.40" stroke="#1a1a1a" stroke-width="1"/>
<text x="468.55" y="407.66" font-size="7.6" text-anchor="middle" fill="#333" stroke="#333" stroke-width="0.14">**</text>
<rect x="479.80" y="451.30" width="10.60" height="31.50" fill="#a20b32"/>
<line x1="485.10" y1="447.30" x2="485.10" y2="451.30" stroke="#3a3a3a" stroke-width="1.0"/>
<line x1="482.30" y1="447.30" x2="487.90" y2="447.30" stroke="#3a3a3a" stroke-width="1.1"/>
<line x1="485.10" y1="482.80" x2="485.10" y2="485.40" stroke="#1a1a1a" stroke-width="1"/>
<text x="485.10" y="445.69" font-size="7.4" text-anchor="middle" fill="#333" stroke="#333" stroke-width="0.14">ns</text>
<rect x="496.20" y="436.30" width="10.40" height="46.50" fill="#a20b32"/>
<line x1="501.40" y1="424.20" x2="501.40" y2="436.30" stroke="#3a3a3a" stroke-width="1.0"/>
<line x1="498.60" y1="424.20" x2="504.20" y2="424.20" stroke="#3a3a3a" stroke-width="1.1"/>
<line x1="501.40" y1="482.80" x2="501.40" y2="485.40" stroke="#1a1a1a" stroke-width="1"/>
<text x="501.40" y="421.79" font-size="7.4" text-anchor="middle" fill="#333" stroke="#333" stroke-width="0.14">ns</text>
<text font-size="8.6" text-anchor="middle" fill="#1a1a1a" stroke="#1a1a1a" stroke-width="0.14" textLength="12.4" lengthAdjust="spacingAndGlyphs" transform="translate(433.32 494.78) rotate(-45)" x="0" y="3.01">Unt</text>
<text font-size="8.6" text-anchor="middle" fill="#1a1a1a" stroke="#1a1a1a" stroke-width="0.14" textLength="43.5" lengthAdjust="spacingAndGlyphs" transform="translate(438.82 505.78) rotate(-45)" x="0" y="3.01">25nM BafA1</text>
<text font-size="8.6" text-anchor="middle" fill="#1a1a1a" stroke="#1a1a1a" stroke-width="0.14" textLength="43.5" lengthAdjust="spacingAndGlyphs" transform="translate(455.32 505.78) rotate(-45)" x="0" y="3.01">50nM BafA1</text>
<text font-size="8.6" text-anchor="middle" fill="#1a1a1a" stroke="#1a1a1a" stroke-width="0.14" textLength="37.0" lengthAdjust="spacingAndGlyphs" transform="translate(474.12 503.48) rotate(-45)" x="0" y="3.01">50µM CQ</text>
<text font-size="8.6" text-anchor="middle" fill="#1a1a1a" stroke="#1a1a1a" stroke-width="0.14" textLength="41.0" lengthAdjust="spacingAndGlyphs" transform="translate(489.00 504.90) rotate(-45)" x="0" y="3.01">100µM CQ</text>
<text x="469.20" y="534.43" font-size="9.8" text-anchor="middle" fill="#1a1a1a" textLength="31.1" lengthAdjust="spacingAndGlyphs" stroke="#1a1a1a" stroke-width="0.3">MOLM-13</text>
<text x="7.30" y="551.60" font-size="12.0" text-anchor="start" fill="#000" font-weight="bold" stroke="#000" stroke-width="0.14">G</text>
<line x1="71.00" y1="552.90" x2="71.00" y2="651.80" stroke="#1a1a1a" stroke-width="1.35"/>
<line x1="70.40" y1="651.20" x2="158.50" y2="651.20" stroke="#1a1a1a" stroke-width="1.4"/>
<line x1="67.40" y1="651.20" x2="71.00" y2="651.20" stroke="#1a1a1a" stroke-width="0.9"/>
<text x="65.00" y="654.25" font-size="8.7" text-anchor="end" fill="#2a2a2a" stroke="#2a2a2a" stroke-width="0.14">0</text>
<line x1="67.40" y1="627.25" x2="71.00" y2="627.25" stroke="#1a1a1a" stroke-width="0.9"/>
<text x="65.00" y="630.29" font-size="8.7" text-anchor="end" fill="#2a2a2a" stroke="#2a2a2a" stroke-width="0.14">50</text>
<line x1="67.40" y1="603.30" x2="71.00" y2="603.30" stroke="#1a1a1a" stroke-width="0.9"/>
<text x="65.00" y="606.35" font-size="8.7" text-anchor="end" fill="#2a2a2a" stroke="#2a2a2a" stroke-width="0.14">100</text>
<line x1="67.40" y1="579.35" x2="71.00" y2="579.35" stroke="#1a1a1a" stroke-width="0.9"/>
<text x="65.00" y="582.40" font-size="8.7" text-anchor="end" fill="#2a2a2a" stroke="#2a2a2a" stroke-width="0.14">150</text>
<line x1="67.40" y1="555.40" x2="71.00" y2="555.40" stroke="#1a1a1a" stroke-width="0.9"/>
<text x="65.00" y="558.45" font-size="8.7" text-anchor="end" fill="#2a2a2a" stroke="#2a2a2a" stroke-width="0.14">200</text>
<text font-size="10.0" text-anchor="middle" fill="#1a1a1a" textLength="49.0" lengthAdjust="spacingAndGlyphs" stroke="#1a1a1a" stroke-width="0.3" transform="translate(41.20 602.10) rotate(-90)" x="0" y="3.50">OCR (pmol/min)</text>
<rect x="76.70" y="576.00" width="10.40" height="75.20" fill="#a20b32"/>
<line x1="81.90" y1="560.30" x2="81.90" y2="576.00" stroke="#3a3a3a" stroke-width="1.0"/>
<line x1="79.30" y1="560.30" x2="84.50" y2="560.30" stroke="#3a3a3a" stroke-width="1.1"/>
<line x1="81.90" y1="651.20" x2="81.90" y2="653.80" stroke="#1a1a1a" stroke-width="1"/>
<rect x="93.20" y="637.40" width="10.20" height="13.80" fill="#a20b32"/>
<line x1="98.30" y1="632.50" x2="98.30" y2="637.40" stroke="#3a3a3a" stroke-width="1.0"/>
<line x1="95.70" y1="632.50" x2="100.90" y2="632.50" stroke="#3a3a3a" stroke-width="1.1"/>
<line x1="98.30" y1="651.20" x2="98.30" y2="653.80" stroke="#1a1a1a" stroke-width="1"/>
<text x="98.30" y="632.69" font-size="7.4" text-anchor="middle" fill="#333" stroke="#333" stroke-width="0.14">*</text>
<rect x="109.60" y="642.00" width="10.20" height="9.20" fill="#a20b32"/>
<line x1="114.70" y1="637.40" x2="114.70" y2="642.00" stroke="#3a3a3a" stroke-width="1.0"/>
<line x1="112.10" y1="637.40" x2="117.30" y2="637.40" stroke="#3a3a3a" stroke-width="1.1"/>
<line x1="114.70" y1="651.20" x2="114.70" y2="653.80" stroke="#1a1a1a" stroke-width="1"/>
<text x="114.70" y="637.39" font-size="7.4" text-anchor="middle" fill="#333" stroke="#333" stroke-width="0.14">**</text>
<rect x="126.00" y="580.90" width="10.20" height="70.30" fill="#a20b32"/>
<line x1="131.10" y1="575.30" x2="131.10" y2="580.90" stroke="#3a3a3a" stroke-width="1.0"/>
<line x1="128.50" y1="575.30" x2="133.70" y2="575.30" stroke="#3a3a3a" stroke-width="1.1"/>
<line x1="131.10" y1="651.20" x2="131.10" y2="653.80" stroke="#1a1a1a" stroke-width="1"/>
<text x="131.10" y="573.45" font-size="7.0" text-anchor="middle" fill="#333" stroke="#333" stroke-width="0.14">ns</text>
<rect x="142.40" y="576.00" width="10.20" height="75.20" fill="#a20b32"/>
<line x1="147.50" y1="574.30" x2="147.50" y2="576.00" stroke="#3a3a3a" stroke-width="1.0"/>
<line x1="144.90" y1="574.30" x2="150.10" y2="574.30" stroke="#3a3a3a" stroke-width="1.1"/>
<line x1="147.50" y1="651.20" x2="147.50" y2="653.80" stroke="#1a1a1a" stroke-width="1"/>
<text x="147.50" y="572.65" font-size="7.0" text-anchor="middle" fill="#333" stroke="#333" stroke-width="0.14">ns</text>
<text font-size="8.4" text-anchor="middle" fill="#1a1a1a" stroke="#1a1a1a" stroke-width="0.14" textLength="12.3" lengthAdjust="spacingAndGlyphs" transform="translate(79.65 663.35) rotate(-45)" x="0" y="2.94">Unt</text>
<text font-size="8.4" text-anchor="middle" fill="#1a1a1a" stroke="#1a1a1a" stroke-width="0.14" textLength="43.3" lengthAdjust="spacingAndGlyphs" transform="translate(85.09 674.31) rotate(-45)" x="0" y="2.94">25nM BafA1</text>
<text font-size="8.4" text-anchor="middle" fill="#1a1a1a" stroke="#1a1a1a" stroke-width="0.14" textLength="43.3" lengthAdjust="spacingAndGlyphs" transform="translate(101.49 674.31) rotate(-45)" x="0" y="2.94">50nM BafA1</text>
<text font-size="8.4" text-anchor="middle" fill="#1a1a1a" stroke="#1a1a1a" stroke-width="0.14" textLength="36.8" lengthAdjust="spacingAndGlyphs" transform="translate(120.19 672.01) rotate(-45)" x="0" y="2.94">50µM CQ</text>
<text font-size="8.4" text-anchor="middle" fill="#1a1a1a" stroke="#1a1a1a" stroke-width="0.14" textLength="40.8" lengthAdjust="spacingAndGlyphs" transform="translate(135.18 673.42) rotate(-45)" x="0" y="2.94">100µM CQ</text>
<text x="115.30" y="700.03" font-size="9.8" text-anchor="middle" fill="#1a1a1a" textLength="29.8" lengthAdjust="spacingAndGlyphs" stroke="#1a1a1a" stroke-width="0.3">MOLM-13</text>
<rect x="0.00" y="0.00" width="520.00" height="1.10" fill="#000"/>
<rect x="0.00" y="0.00" width="1.20" height="710.00" fill="#000"/>
<rect x="518.60" y="0.00" width="1.40" height="710.00" fill="#000"/>
<rect x="0.00" y="708.50" width="520.00" height="1.50" fill="#000"/>
</svg>
</body></html>
